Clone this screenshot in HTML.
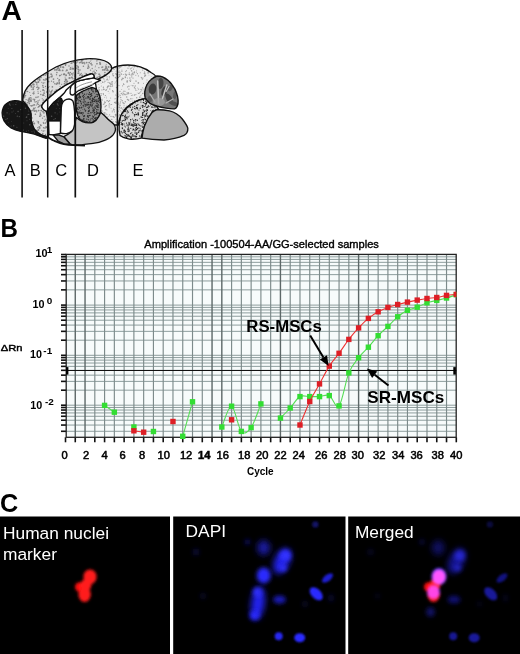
<!DOCTYPE html>
<html><head><meta charset="utf-8"><title>Figure</title>
<style>html,body{margin:0;padding:0;background:#fff;width:520px;height:654px;overflow:hidden}svg{display:block}</style>
</head><body>
<svg width="520" height="654" viewBox="0 0 520 654" font-family="'Liberation Sans', sans-serif">
<text transform="translate(1.4,19.6) scale(1.05,1)" font-size="26.8" font-weight="bold">A</text>
<defs><pattern id="st1" width="48" height="48" patternUnits="userSpaceOnUse"><rect width="48" height="48" fill="#dfdfdf"/><circle cx="21.7" cy="26.9" r="0.96" fill="#858585"/><circle cx="22.4" cy="24.4" r="0.77" fill="#858585"/><circle cx="8.9" cy="24.6" r="0.80" fill="#858585"/><circle cx="38.1" cy="4.5" r="0.62" fill="#858585"/><circle cx="4.4" cy="38.9" r="0.83" fill="#858585"/><circle cx="2.0" cy="47.1" r="0.98" fill="#858585"/><circle cx="31.4" cy="29.5" r="0.54" fill="#858585"/><circle cx="0.7" cy="25.4" r="0.48" fill="#858585"/><circle cx="9.1" cy="11.6" r="0.47" fill="#858585"/><circle cx="22.3" cy="21.1" r="0.91" fill="#858585"/><circle cx="24.9" cy="30.7" r="0.72" fill="#858585"/><circle cx="31.8" cy="22.0" r="0.60" fill="#858585"/><circle cx="47.9" cy="47.8" r="0.91" fill="#858585"/><circle cx="34.0" cy="15.1" r="0.58" fill="#858585"/><circle cx="13.9" cy="3.4" r="0.87" fill="#858585"/><circle cx="19.2" cy="40.6" r="0.66" fill="#858585"/><circle cx="46.0" cy="40.7" r="0.45" fill="#858585"/><circle cx="10.1" cy="43.7" r="0.71" fill="#858585"/><circle cx="47.1" cy="19.1" r="0.49" fill="#858585"/><circle cx="30.2" cy="37.4" r="0.60" fill="#858585"/><circle cx="4.2" cy="16.0" r="0.98" fill="#858585"/><circle cx="36.4" cy="5.7" r="0.59" fill="#858585"/><circle cx="4.9" cy="2.9" r="0.89" fill="#858585"/><circle cx="8.5" cy="26.8" r="0.70" fill="#858585"/><circle cx="9.2" cy="35.1" r="0.52" fill="#858585"/><circle cx="30.9" cy="5.6" r="0.68" fill="#858585"/><circle cx="10.2" cy="13.0" r="0.98" fill="#858585"/><circle cx="38.6" cy="14.6" r="0.94" fill="#858585"/><circle cx="10.1" cy="18.9" r="0.92" fill="#858585"/><circle cx="30.8" cy="4.8" r="0.99" fill="#858585"/><circle cx="10.2" cy="12.4" r="0.87" fill="#858585"/><circle cx="15.8" cy="14.2" r="0.49" fill="#858585"/><circle cx="4.3" cy="28.0" r="0.58" fill="#858585"/><circle cx="28.9" cy="17.8" r="0.70" fill="#858585"/><circle cx="46.0" cy="23.2" r="0.77" fill="#858585"/><circle cx="41.6" cy="8.8" r="0.53" fill="#858585"/><circle cx="43.6" cy="39.3" r="0.59" fill="#858585"/><circle cx="9.1" cy="35.5" r="0.97" fill="#858585"/><circle cx="9.4" cy="45.6" r="0.94" fill="#858585"/><circle cx="29.0" cy="20.2" r="0.51" fill="#858585"/><circle cx="1.9" cy="46.2" r="0.58" fill="#858585"/><circle cx="33.8" cy="12.3" r="0.90" fill="#858585"/><circle cx="28.6" cy="14.1" r="0.55" fill="#858585"/><circle cx="34.6" cy="3.3" r="0.58" fill="#858585"/><circle cx="26.8" cy="40.9" r="0.79" fill="#858585"/><circle cx="13.5" cy="44.0" r="0.56" fill="#858585"/><circle cx="0.8" cy="12.9" r="0.70" fill="#858585"/><circle cx="2.9" cy="8.5" r="0.65" fill="#858585"/><circle cx="27.5" cy="6.3" r="0.65" fill="#858585"/><circle cx="42.8" cy="47.1" r="0.81" fill="#858585"/><circle cx="33.2" cy="28.1" r="0.53" fill="#858585"/><circle cx="1.7" cy="0.9" r="0.95" fill="#858585"/><circle cx="33.6" cy="46.2" r="0.46" fill="#858585"/><circle cx="30.5" cy="23.1" r="0.85" fill="#858585"/><circle cx="15.3" cy="48.0" r="0.49" fill="#858585"/><circle cx="26.2" cy="35.4" r="0.95" fill="#858585"/><circle cx="35.4" cy="33.8" r="0.89" fill="#858585"/><circle cx="43.9" cy="16.9" r="0.83" fill="#858585"/><circle cx="43.2" cy="41.8" r="0.68" fill="#858585"/><circle cx="37.9" cy="41.4" r="0.77" fill="#858585"/><circle cx="30.0" cy="18.4" r="0.77" fill="#858585"/><circle cx="29.2" cy="3.8" r="0.80" fill="#858585"/><circle cx="47.7" cy="42.2" r="0.85" fill="#858585"/><circle cx="18.6" cy="35.3" r="0.77" fill="#858585"/><circle cx="21.1" cy="40.2" r="0.50" fill="#858585"/><circle cx="36.0" cy="1.4" r="0.78" fill="#858585"/><circle cx="23.1" cy="11.1" r="0.83" fill="#858585"/><circle cx="23.9" cy="29.5" r="0.96" fill="#858585"/><circle cx="12.3" cy="0.5" r="0.62" fill="#858585"/><circle cx="32.6" cy="9.7" r="0.54" fill="#858585"/><circle cx="43.5" cy="31.7" r="0.69" fill="#858585"/><circle cx="42.8" cy="15.7" r="0.82" fill="#858585"/><circle cx="9.5" cy="20.7" r="0.89" fill="#858585"/><circle cx="43.9" cy="42.3" r="0.66" fill="#858585"/><circle cx="28.0" cy="15.2" r="0.52" fill="#858585"/><circle cx="23.8" cy="40.2" r="0.92" fill="#858585"/><circle cx="34.1" cy="45.6" r="0.60" fill="#858585"/><circle cx="8.1" cy="21.6" r="0.60" fill="#858585"/><circle cx="10.3" cy="19.9" r="0.79" fill="#858585"/><circle cx="23.7" cy="15.1" r="0.91" fill="#858585"/><circle cx="47.1" cy="21.7" r="0.49" fill="#858585"/><circle cx="1.5" cy="41.9" r="0.47" fill="#858585"/><circle cx="34.0" cy="27.4" r="0.62" fill="#858585"/><circle cx="38.0" cy="0.9" r="0.52" fill="#858585"/><circle cx="21.8" cy="1.2" r="0.91" fill="#858585"/><circle cx="11.4" cy="6.8" r="0.48" fill="#858585"/><circle cx="30.2" cy="21.4" r="0.80" fill="#858585"/><circle cx="31.4" cy="38.8" r="0.98" fill="#858585"/><circle cx="32.9" cy="9.6" r="0.71" fill="#858585"/><circle cx="8.6" cy="0.5" r="0.71" fill="#858585"/><circle cx="34.3" cy="8.6" r="0.60" fill="#858585"/><circle cx="16.6" cy="33.5" r="0.74" fill="#858585"/><circle cx="29.5" cy="36.3" r="0.67" fill="#858585"/><circle cx="38.0" cy="43.5" r="0.50" fill="#858585"/><circle cx="44.8" cy="34.7" r="0.52" fill="#858585"/><circle cx="21.8" cy="30.0" r="0.95" fill="#858585"/><circle cx="18.1" cy="27.3" r="0.93" fill="#858585"/><circle cx="38.2" cy="45.3" r="0.71" fill="#858585"/><circle cx="31.3" cy="9.8" r="0.85" fill="#858585"/><circle cx="39.3" cy="30.8" r="0.84" fill="#858585"/><circle cx="10.2" cy="43.2" r="0.99" fill="#858585"/><circle cx="46.9" cy="25.8" r="0.88" fill="#858585"/><circle cx="15.4" cy="43.7" r="0.92" fill="#858585"/><circle cx="16.7" cy="4.0" r="0.69" fill="#858585"/><circle cx="26.4" cy="36.9" r="0.72" fill="#858585"/><circle cx="1.4" cy="38.8" r="0.49" fill="#858585"/><circle cx="38.4" cy="8.3" r="0.63" fill="#858585"/><circle cx="37.8" cy="6.7" r="0.53" fill="#858585"/><circle cx="24.8" cy="34.7" r="0.91" fill="#858585"/><circle cx="33.1" cy="45.4" r="0.72" fill="#858585"/><circle cx="45.6" cy="4.1" r="0.57" fill="#858585"/><circle cx="25.3" cy="13.9" r="0.85" fill="#858585"/><circle cx="30.7" cy="25.1" r="0.91" fill="#858585"/><circle cx="26.9" cy="15.0" r="0.66" fill="#858585"/><circle cx="40.6" cy="43.2" r="0.56" fill="#858585"/><circle cx="40.8" cy="46.5" r="0.74" fill="#858585"/><circle cx="27.5" cy="9.6" r="0.74" fill="#858585"/><circle cx="24.2" cy="29.1" r="0.47" fill="#858585"/><circle cx="46.5" cy="24.8" r="0.67" fill="#858585"/><circle cx="38.5" cy="27.0" r="0.72" fill="#858585"/><circle cx="33.2" cy="3.2" r="0.75" fill="#858585"/><circle cx="19.9" cy="45.9" r="0.96" fill="#858585"/><circle cx="12.9" cy="22.7" r="0.52" fill="#858585"/><circle cx="20.8" cy="39.2" r="0.95" fill="#858585"/><circle cx="22.9" cy="15.2" r="0.56" fill="#858585"/><circle cx="29.7" cy="44.4" r="0.52" fill="#858585"/><circle cx="37.4" cy="1.1" r="0.56" fill="#858585"/><circle cx="10.9" cy="33.0" r="0.63" fill="#858585"/><circle cx="17.1" cy="29.7" r="0.51" fill="#858585"/><circle cx="35.1" cy="5.9" r="0.73" fill="#858585"/><circle cx="12.0" cy="9.5" r="0.74" fill="#858585"/><circle cx="21.0" cy="18.0" r="0.68" fill="#858585"/><circle cx="25.4" cy="7.7" r="0.56" fill="#858585"/><circle cx="30.3" cy="30.6" r="0.74" fill="#858585"/><circle cx="40.9" cy="29.4" r="0.92" fill="#858585"/><circle cx="11.2" cy="35.6" r="0.90" fill="#858585"/><circle cx="43.3" cy="15.2" r="0.62" fill="#858585"/><circle cx="44.3" cy="10.5" r="1.00" fill="#858585"/><circle cx="42.6" cy="6.4" r="0.58" fill="#858585"/><circle cx="34.9" cy="12.5" r="0.50" fill="#858585"/><circle cx="39.9" cy="20.2" r="0.88" fill="#858585"/><circle cx="6.0" cy="19.3" r="0.83" fill="#858585"/><circle cx="0.9" cy="9.6" r="0.83" fill="#858585"/><circle cx="43.7" cy="46.5" r="0.51" fill="#858585"/><circle cx="24.3" cy="36.4" r="0.73" fill="#858585"/><circle cx="32.9" cy="9.1" r="0.49" fill="#858585"/><circle cx="5.1" cy="1.8" r="0.75" fill="#858585"/><circle cx="24.7" cy="27.3" r="0.53" fill="#858585"/><circle cx="8.9" cy="9.8" r="0.91" fill="#858585"/><circle cx="47.5" cy="44.5" r="0.50" fill="#858585"/><circle cx="3.0" cy="45.7" r="0.70" fill="#858585"/><circle cx="36.7" cy="15.7" r="0.71" fill="#858585"/><circle cx="24.7" cy="20.6" r="0.78" fill="#858585"/><circle cx="0.6" cy="33.6" r="0.91" fill="#858585"/><circle cx="8.7" cy="21.8" r="0.86" fill="#858585"/><circle cx="19.5" cy="9.4" r="0.54" fill="#858585"/><circle cx="24.6" cy="0.7" r="0.94" fill="#858585"/><circle cx="38.5" cy="33.8" r="0.92" fill="#858585"/><circle cx="30.2" cy="19.4" r="0.78" fill="#858585"/><circle cx="24.2" cy="47.2" r="0.89" fill="#858585"/><circle cx="12.4" cy="43.7" r="0.86" fill="#858585"/><circle cx="37.3" cy="39.1" r="0.67" fill="#858585"/><circle cx="43.0" cy="42.2" r="0.83" fill="#858585"/><circle cx="36.8" cy="36.7" r="0.67" fill="#858585"/><circle cx="34.7" cy="3.4" r="0.64" fill="#858585"/><circle cx="22.5" cy="0.5" r="0.65" fill="#858585"/><circle cx="30.7" cy="30.0" r="0.58" fill="#858585"/><circle cx="45.3" cy="32.0" r="0.64" fill="#858585"/><circle cx="31.7" cy="27.3" r="0.74" fill="#858585"/><circle cx="18.7" cy="48.0" r="0.80" fill="#858585"/><circle cx="33.7" cy="36.6" r="0.99" fill="#858585"/><circle cx="1.1" cy="29.5" r="0.86" fill="#858585"/><circle cx="12.3" cy="19.3" r="0.48" fill="#858585"/><circle cx="9.4" cy="18.0" r="0.50" fill="#858585"/><circle cx="12.0" cy="43.5" r="0.75" fill="#858585"/><circle cx="24.4" cy="46.4" r="0.76" fill="#858585"/><circle cx="47.8" cy="30.6" r="0.90" fill="#858585"/><circle cx="3.7" cy="28.7" r="0.87" fill="#858585"/><circle cx="2.2" cy="44.6" r="0.54" fill="#858585"/><circle cx="22.6" cy="8.1" r="0.72" fill="#858585"/><circle cx="29.3" cy="2.8" r="0.97" fill="#858585"/><circle cx="20.2" cy="25.3" r="0.78" fill="#858585"/><circle cx="17.5" cy="13.7" r="0.81" fill="#858585"/><circle cx="26.9" cy="13.6" r="0.84" fill="#858585"/><circle cx="14.2" cy="0.7" r="0.58" fill="#858585"/><circle cx="2.1" cy="7.5" r="0.87" fill="#858585"/><circle cx="18.7" cy="43.1" r="0.86" fill="#858585"/><circle cx="2.4" cy="47.5" r="0.97" fill="#858585"/><circle cx="3.5" cy="43.5" r="0.69" fill="#858585"/><circle cx="22.9" cy="46.7" r="0.58" fill="#858585"/><circle cx="25.1" cy="45.0" r="0.85" fill="#858585"/><circle cx="22.5" cy="47.0" r="0.90" fill="#858585"/><circle cx="29.0" cy="5.5" r="0.79" fill="#858585"/><circle cx="21.9" cy="9.8" r="0.48" fill="#858585"/><circle cx="25.3" cy="6.0" r="0.69" fill="#858585"/><circle cx="32.1" cy="21.9" r="0.59" fill="#858585"/><circle cx="27.9" cy="20.1" r="0.88" fill="#858585"/><circle cx="25.5" cy="47.9" r="0.97" fill="#858585"/><circle cx="35.2" cy="11.4" r="0.51" fill="#858585"/><circle cx="42.8" cy="37.6" r="0.79" fill="#858585"/><circle cx="17.2" cy="13.0" r="0.83" fill="#858585"/><circle cx="27.1" cy="28.4" r="0.80" fill="#858585"/><circle cx="36.2" cy="9.1" r="0.59" fill="#858585"/><circle cx="47.0" cy="44.0" r="0.93" fill="#858585"/><circle cx="1.9" cy="2.9" r="0.60" fill="#858585"/><circle cx="20.4" cy="29.9" r="0.51" fill="#858585"/><circle cx="26.0" cy="3.5" r="0.50" fill="#858585"/><circle cx="32.5" cy="26.4" r="0.80" fill="#858585"/><circle cx="17.9" cy="23.0" r="0.57" fill="#858585"/><circle cx="16.5" cy="35.8" r="0.91" fill="#858585"/><circle cx="3.6" cy="5.7" r="0.90" fill="#858585"/><circle cx="29.9" cy="36.9" r="0.57" fill="#858585"/><circle cx="20.4" cy="12.4" r="0.90" fill="#858585"/><circle cx="17.7" cy="31.4" r="0.99" fill="#858585"/><circle cx="15.6" cy="26.3" r="0.86" fill="#858585"/><circle cx="44.2" cy="20.5" r="0.65" fill="#858585"/><circle cx="4.7" cy="42.0" r="0.49" fill="#858585"/><circle cx="4.0" cy="27.1" r="0.72" fill="#858585"/><circle cx="32.9" cy="14.3" r="0.88" fill="#858585"/><circle cx="3.7" cy="10.2" r="0.81" fill="#858585"/><circle cx="3.9" cy="14.6" r="0.85" fill="#858585"/><circle cx="33.3" cy="13.6" r="0.53" fill="#858585"/><circle cx="17.2" cy="34.8" r="0.65" fill="#858585"/><circle cx="5.6" cy="34.0" r="0.76" fill="#858585"/><circle cx="44.1" cy="45.1" r="0.95" fill="#858585"/><circle cx="21.0" cy="38.5" r="0.62" fill="#858585"/><circle cx="15.2" cy="19.2" r="0.96" fill="#858585"/><circle cx="42.9" cy="11.9" r="0.65" fill="#858585"/><circle cx="17.5" cy="17.4" r="0.67" fill="#858585"/><circle cx="18.6" cy="9.4" r="0.76" fill="#858585"/><circle cx="38.3" cy="25.9" r="0.91" fill="#858585"/><circle cx="27.0" cy="8.5" r="0.87" fill="#858585"/><circle cx="42.3" cy="13.5" r="0.46" fill="#858585"/><circle cx="24.8" cy="26.1" r="0.76" fill="#858585"/><circle cx="46.4" cy="31.3" r="0.89" fill="#858585"/><circle cx="3.1" cy="26.2" r="0.88" fill="#858585"/><circle cx="4.0" cy="3.9" r="0.86" fill="#858585"/><circle cx="43.2" cy="4.1" r="0.80" fill="#858585"/><circle cx="6.9" cy="35.8" r="0.81" fill="#858585"/><circle cx="11.8" cy="10.6" r="0.87" fill="#858585"/><circle cx="25.0" cy="36.7" r="0.67" fill="#858585"/><circle cx="16.2" cy="46.5" r="0.82" fill="#858585"/><circle cx="23.7" cy="25.8" r="0.85" fill="#858585"/><circle cx="34.0" cy="43.9" r="0.68" fill="#858585"/><circle cx="39.7" cy="32.0" r="0.92" fill="#858585"/><circle cx="38.7" cy="40.0" r="0.94" fill="#858585"/><circle cx="46.0" cy="30.7" r="0.74" fill="#858585"/><circle cx="34.1" cy="38.5" r="0.68" fill="#858585"/><circle cx="20.2" cy="7.0" r="0.86" fill="#858585"/><circle cx="47.6" cy="18.0" r="0.54" fill="#858585"/><circle cx="9.8" cy="20.4" r="0.61" fill="#858585"/><circle cx="46.5" cy="2.8" r="0.62" fill="#858585"/><circle cx="5.5" cy="31.1" r="0.88" fill="#858585"/><circle cx="8.6" cy="3.0" r="0.70" fill="#858585"/><circle cx="28.0" cy="43.6" r="0.47" fill="#858585"/><circle cx="5.2" cy="8.9" r="0.57" fill="#858585"/><circle cx="11.3" cy="34.4" r="0.78" fill="#858585"/><circle cx="10.8" cy="8.9" r="0.60" fill="#858585"/><circle cx="8.3" cy="36.4" r="0.62" fill="#858585"/><circle cx="26.3" cy="39.2" r="0.71" fill="#858585"/><circle cx="12.5" cy="42.6" r="0.95" fill="#858585"/><circle cx="16.4" cy="26.3" r="0.98" fill="#858585"/><circle cx="23.2" cy="10.6" r="0.48" fill="#858585"/><circle cx="45.5" cy="38.5" r="0.66" fill="#858585"/><circle cx="25.3" cy="24.8" r="0.60" fill="#858585"/><circle cx="47.5" cy="31.6" r="0.58" fill="#858585"/><circle cx="0.5" cy="22.7" r="0.65" fill="#858585"/><circle cx="38.2" cy="34.2" r="0.78" fill="#858585"/><circle cx="7.5" cy="7.5" r="0.63" fill="#858585"/><circle cx="12.5" cy="41.7" r="0.73" fill="#858585"/><circle cx="30.6" cy="47.7" r="0.60" fill="#858585"/><circle cx="25.7" cy="7.2" r="0.87" fill="#858585"/><circle cx="0.1" cy="39.4" r="0.92" fill="#858585"/><circle cx="39.5" cy="4.0" r="0.60" fill="#858585"/><circle cx="34.4" cy="4.7" r="0.71" fill="#858585"/><circle cx="22.5" cy="45.9" r="0.77" fill="#858585"/><circle cx="41.2" cy="14.6" r="0.88" fill="#858585"/><circle cx="20.0" cy="44.0" r="0.50" fill="#858585"/><circle cx="39.7" cy="10.0" r="0.75" fill="#858585"/><circle cx="25.2" cy="7.6" r="0.91" fill="#858585"/><circle cx="14.9" cy="14.9" r="0.49" fill="#858585"/><circle cx="14.7" cy="22.4" r="0.84" fill="#858585"/><circle cx="17.3" cy="33.0" r="0.51" fill="#858585"/><circle cx="18.9" cy="22.2" r="0.98" fill="#858585"/><circle cx="39.8" cy="31.4" r="0.46" fill="#858585"/><circle cx="18.1" cy="34.1" r="0.58" fill="#858585"/><circle cx="27.1" cy="22.0" r="0.46" fill="#858585"/><circle cx="47.6" cy="38.4" r="0.56" fill="#858585"/><circle cx="29.6" cy="13.9" r="0.66" fill="#858585"/><circle cx="25.9" cy="14.3" r="0.64" fill="#858585"/><circle cx="18.8" cy="32.0" r="0.59" fill="#858585"/><circle cx="9.6" cy="35.1" r="0.63" fill="#858585"/><circle cx="45.4" cy="27.0" r="0.85" fill="#858585"/><circle cx="15.9" cy="39.7" r="0.50" fill="#858585"/><circle cx="6.8" cy="4.5" r="0.82" fill="#858585"/><circle cx="34.0" cy="8.6" r="0.67" fill="#858585"/><circle cx="40.2" cy="28.5" r="0.50" fill="#858585"/><circle cx="10.9" cy="7.5" r="0.52" fill="#858585"/><circle cx="19.5" cy="3.5" r="0.96" fill="#858585"/><circle cx="20.5" cy="24.6" r="0.81" fill="#858585"/><circle cx="36.8" cy="39.4" r="0.66" fill="#858585"/><circle cx="15.9" cy="19.8" r="0.46" fill="#858585"/><circle cx="19.2" cy="33.6" r="0.99" fill="#858585"/><circle cx="37.9" cy="31.7" r="0.78" fill="#858585"/><circle cx="0.9" cy="15.9" r="0.64" fill="#858585"/><circle cx="31.2" cy="5.1" r="0.66" fill="#858585"/><circle cx="24.4" cy="37.9" r="0.90" fill="#858585"/><circle cx="29.3" cy="7.6" r="0.87" fill="#858585"/><circle cx="43.3" cy="26.3" r="0.64" fill="#858585"/><circle cx="24.0" cy="6.8" r="0.84" fill="#858585"/><circle cx="47.4" cy="24.8" r="0.84" fill="#858585"/><circle cx="40.1" cy="9.5" r="0.97" fill="#858585"/><circle cx="30.1" cy="9.5" r="0.50" fill="#858585"/><circle cx="11.7" cy="27.7" r="0.83" fill="#858585"/><circle cx="15.8" cy="44.6" r="0.65" fill="#858585"/><circle cx="22.2" cy="6.0" r="0.99" fill="#858585"/><circle cx="6.5" cy="43.4" r="0.75" fill="#858585"/><circle cx="26.9" cy="26.9" r="0.60" fill="#858585"/><circle cx="43.6" cy="47.6" r="0.90" fill="#858585"/><circle cx="28.9" cy="5.9" r="0.90" fill="#858585"/><circle cx="13.9" cy="43.1" r="0.58" fill="#858585"/><circle cx="27.5" cy="39.9" r="0.55" fill="#858585"/><circle cx="26.3" cy="3.7" r="0.47" fill="#858585"/><circle cx="8.6" cy="47.4" r="0.97" fill="#858585"/><circle cx="31.6" cy="14.8" r="0.82" fill="#858585"/><circle cx="35.4" cy="18.3" r="0.78" fill="#858585"/><circle cx="38.6" cy="0.8" r="0.56" fill="#858585"/><circle cx="22.5" cy="6.9" r="0.66" fill="#858585"/><circle cx="27.3" cy="8.3" r="0.74" fill="#858585"/><circle cx="12.7" cy="27.3" r="0.63" fill="#858585"/><circle cx="30.8" cy="1.8" r="0.82" fill="#858585"/><circle cx="6.9" cy="46.0" r="0.78" fill="#858585"/><circle cx="22.6" cy="19.7" r="0.79" fill="#858585"/><circle cx="33.1" cy="36.4" r="0.86" fill="#858585"/><circle cx="23.3" cy="47.7" r="0.91" fill="#858585"/><circle cx="41.0" cy="19.6" r="0.69" fill="#858585"/><circle cx="27.2" cy="43.5" r="0.74" fill="#858585"/><circle cx="25.2" cy="20.7" r="0.95" fill="#858585"/><circle cx="15.4" cy="2.6" r="0.85" fill="#858585"/><circle cx="43.2" cy="35.1" r="0.78" fill="#858585"/><circle cx="36.1" cy="14.6" r="0.78" fill="#858585"/><circle cx="3.4" cy="6.0" r="0.70" fill="#858585"/><circle cx="24.1" cy="19.0" r="0.48" fill="#858585"/><circle cx="33.4" cy="25.3" r="0.58" fill="#858585"/><circle cx="14.7" cy="19.0" r="0.58" fill="#858585"/><circle cx="3.3" cy="43.7" r="0.98" fill="#858585"/><circle cx="32.0" cy="41.6" r="0.68" fill="#858585"/><circle cx="38.7" cy="10.6" r="0.86" fill="#858585"/><circle cx="27.2" cy="43.4" r="0.50" fill="#858585"/><circle cx="38.0" cy="5.9" r="0.75" fill="#858585"/><circle cx="45.6" cy="0.0" r="0.58" fill="#858585"/><circle cx="14.4" cy="15.6" r="0.48" fill="#858585"/><circle cx="43.0" cy="39.1" r="0.67" fill="#858585"/><circle cx="17.1" cy="28.1" r="0.48" fill="#858585"/><circle cx="1.5" cy="43.1" r="0.62" fill="#858585"/><circle cx="23.9" cy="44.8" r="0.99" fill="#858585"/><circle cx="22.7" cy="9.9" r="0.61" fill="#858585"/><circle cx="44.3" cy="43.0" r="0.56" fill="#858585"/><circle cx="40.2" cy="17.0" r="0.71" fill="#858585"/><circle cx="8.3" cy="42.2" r="1.00" fill="#858585"/><circle cx="9.7" cy="30.4" r="0.56" fill="#858585"/><circle cx="42.2" cy="2.4" r="0.51" fill="#858585"/><circle cx="34.8" cy="15.0" r="0.95" fill="#858585"/><circle cx="41.7" cy="34.2" r="0.52" fill="#858585"/><circle cx="33.4" cy="45.0" r="0.69" fill="#858585"/><circle cx="3.8" cy="10.7" r="0.62" fill="#858585"/><circle cx="34.1" cy="9.4" r="0.55" fill="#858585"/><circle cx="11.3" cy="31.9" r="0.88" fill="#858585"/><circle cx="17.9" cy="31.8" r="0.94" fill="#858585"/><circle cx="28.3" cy="11.0" r="0.62" fill="#858585"/><circle cx="44.5" cy="32.0" r="0.60" fill="#858585"/><circle cx="30.7" cy="4.3" r="0.99" fill="#858585"/><circle cx="21.1" cy="25.4" r="0.74" fill="#858585"/><circle cx="2.2" cy="28.8" r="0.61" fill="#858585"/><circle cx="12.0" cy="38.6" r="0.50" fill="#858585"/><circle cx="13.7" cy="36.3" r="0.59" fill="#858585"/><circle cx="13.4" cy="26.3" r="0.55" fill="#858585"/><circle cx="43.1" cy="47.4" r="0.47" fill="#858585"/><circle cx="22.2" cy="36.0" r="0.66" fill="#858585"/><circle cx="44.6" cy="24.0" r="0.55" fill="#858585"/><circle cx="26.7" cy="31.0" r="0.65" fill="#858585"/><circle cx="31.6" cy="37.6" r="0.73" fill="#858585"/><circle cx="24.3" cy="40.6" r="0.83" fill="#858585"/><circle cx="25.0" cy="45.7" r="0.55" fill="#858585"/><circle cx="37.4" cy="7.9" r="0.78" fill="#858585"/><circle cx="11.3" cy="21.1" r="0.88" fill="#858585"/><circle cx="37.8" cy="38.0" r="0.58" fill="#858585"/><circle cx="23.5" cy="10.6" r="0.77" fill="#858585"/><circle cx="24.0" cy="1.7" r="0.78" fill="#858585"/><circle cx="34.3" cy="27.5" r="0.93" fill="#858585"/><circle cx="8.6" cy="7.3" r="0.46" fill="#858585"/><circle cx="23.8" cy="20.9" r="0.69" fill="#858585"/><circle cx="12.6" cy="38.3" r="0.49" fill="#858585"/><circle cx="43.6" cy="27.3" r="0.75" fill="#858585"/><circle cx="38.0" cy="11.4" r="0.53" fill="#858585"/><circle cx="14.9" cy="2.0" r="0.62" fill="#858585"/><circle cx="29.8" cy="25.2" r="0.60" fill="#858585"/><circle cx="28.3" cy="4.2" r="0.90" fill="#858585"/><circle cx="8.2" cy="12.2" r="0.54" fill="#858585"/><circle cx="33.2" cy="39.9" r="0.88" fill="#858585"/><circle cx="2.9" cy="19.7" r="0.65" fill="#858585"/><circle cx="10.4" cy="46.6" r="0.47" fill="#858585"/><circle cx="23.5" cy="36.5" r="0.99" fill="#858585"/><circle cx="6.9" cy="21.9" r="0.86" fill="#858585"/><circle cx="1.9" cy="11.5" r="0.94" fill="#858585"/><circle cx="6.8" cy="18.9" r="0.61" fill="#858585"/><circle cx="20.4" cy="3.7" r="0.47" fill="#858585"/><circle cx="47.8" cy="36.6" r="0.85" fill="#858585"/><circle cx="11.0" cy="12.2" r="0.75" fill="#858585"/><circle cx="11.6" cy="22.2" r="0.96" fill="#858585"/><circle cx="17.5" cy="16.2" r="0.99" fill="#858585"/><circle cx="29.3" cy="1.9" r="0.67" fill="#858585"/><circle cx="31.2" cy="2.8" r="0.64" fill="#858585"/><circle cx="33.3" cy="41.5" r="0.77" fill="#858585"/><circle cx="42.5" cy="22.2" r="0.67" fill="#858585"/><circle cx="40.5" cy="18.3" r="0.88" fill="#858585"/><circle cx="10.3" cy="16.7" r="0.55" fill="#858585"/><circle cx="26.4" cy="7.9" r="0.56" fill="#858585"/><circle cx="10.3" cy="22.5" r="0.62" fill="#858585"/><circle cx="21.5" cy="47.7" r="0.82" fill="#858585"/><circle cx="41.4" cy="9.8" r="0.66" fill="#858585"/><circle cx="3.5" cy="33.2" r="0.65" fill="#858585"/><circle cx="13.2" cy="0.9" r="0.55" fill="#858585"/><circle cx="12.6" cy="18.9" r="0.96" fill="#858585"/><circle cx="34.3" cy="12.9" r="0.65" fill="#858585"/><circle cx="7.4" cy="45.0" r="0.65" fill="#858585"/><circle cx="36.8" cy="34.7" r="0.95" fill="#858585"/><circle cx="1.0" cy="15.5" r="0.66" fill="#858585"/><circle cx="4.0" cy="42.4" r="0.63" fill="#858585"/><circle cx="37.0" cy="24.9" r="0.48" fill="#858585"/></pattern><pattern id="st2" width="48" height="48" patternUnits="userSpaceOnUse"><rect width="48" height="48" fill="#eeeeee"/><circle cx="18.9" cy="11.4" r="0.42" fill="#a0a0a0"/><circle cx="7.2" cy="28.6" r="0.41" fill="#a0a0a0"/><circle cx="15.0" cy="20.4" r="0.62" fill="#a0a0a0"/><circle cx="6.5" cy="33.9" r="0.50" fill="#a0a0a0"/><circle cx="34.8" cy="32.0" r="0.46" fill="#a0a0a0"/><circle cx="9.8" cy="13.5" r="0.69" fill="#a0a0a0"/><circle cx="19.5" cy="18.6" r="0.75" fill="#a0a0a0"/><circle cx="10.9" cy="14.0" r="0.54" fill="#a0a0a0"/><circle cx="10.4" cy="2.0" r="0.41" fill="#a0a0a0"/><circle cx="30.3" cy="27.2" r="0.72" fill="#a0a0a0"/><circle cx="46.8" cy="14.3" r="0.67" fill="#a0a0a0"/><circle cx="44.1" cy="10.4" r="0.68" fill="#a0a0a0"/><circle cx="32.0" cy="45.8" r="0.75" fill="#a0a0a0"/><circle cx="11.3" cy="30.4" r="0.44" fill="#a0a0a0"/><circle cx="20.5" cy="18.8" r="0.42" fill="#a0a0a0"/><circle cx="18.4" cy="15.8" r="0.60" fill="#a0a0a0"/><circle cx="13.4" cy="7.6" r="0.56" fill="#a0a0a0"/><circle cx="22.8" cy="8.0" r="0.67" fill="#a0a0a0"/><circle cx="11.5" cy="4.5" r="0.54" fill="#a0a0a0"/><circle cx="20.3" cy="7.2" r="0.63" fill="#a0a0a0"/><circle cx="33.7" cy="26.6" r="0.68" fill="#a0a0a0"/><circle cx="1.1" cy="18.8" r="0.55" fill="#a0a0a0"/><circle cx="3.0" cy="19.4" r="0.42" fill="#a0a0a0"/><circle cx="23.8" cy="28.1" r="0.59" fill="#a0a0a0"/><circle cx="15.6" cy="12.2" r="0.41" fill="#a0a0a0"/><circle cx="16.7" cy="42.8" r="0.63" fill="#a0a0a0"/><circle cx="12.6" cy="32.1" r="0.47" fill="#a0a0a0"/><circle cx="22.5" cy="29.5" r="0.78" fill="#a0a0a0"/><circle cx="17.4" cy="27.7" r="0.78" fill="#a0a0a0"/><circle cx="37.0" cy="30.1" r="0.65" fill="#a0a0a0"/><circle cx="19.7" cy="19.9" r="0.51" fill="#a0a0a0"/><circle cx="39.8" cy="42.2" r="0.55" fill="#a0a0a0"/><circle cx="43.7" cy="1.8" r="0.45" fill="#a0a0a0"/><circle cx="24.3" cy="14.8" r="0.54" fill="#a0a0a0"/><circle cx="46.9" cy="7.2" r="0.48" fill="#a0a0a0"/><circle cx="11.0" cy="32.6" r="0.49" fill="#a0a0a0"/><circle cx="0.0" cy="26.1" r="0.56" fill="#a0a0a0"/><circle cx="11.5" cy="23.7" r="0.66" fill="#a0a0a0"/><circle cx="26.3" cy="30.0" r="0.62" fill="#a0a0a0"/><circle cx="39.9" cy="46.5" r="0.53" fill="#a0a0a0"/><circle cx="16.6" cy="42.5" r="0.53" fill="#a0a0a0"/><circle cx="34.4" cy="33.4" r="0.67" fill="#a0a0a0"/><circle cx="46.3" cy="39.6" r="0.46" fill="#a0a0a0"/><circle cx="29.8" cy="23.6" r="0.63" fill="#a0a0a0"/><circle cx="17.7" cy="13.7" r="0.70" fill="#a0a0a0"/><circle cx="25.6" cy="11.4" r="0.50" fill="#a0a0a0"/><circle cx="15.6" cy="8.5" r="0.61" fill="#a0a0a0"/><circle cx="6.0" cy="3.0" r="0.43" fill="#a0a0a0"/><circle cx="4.9" cy="33.8" r="0.45" fill="#a0a0a0"/><circle cx="21.7" cy="37.1" r="0.59" fill="#a0a0a0"/><circle cx="7.8" cy="41.6" r="0.75" fill="#a0a0a0"/><circle cx="2.6" cy="12.2" r="0.60" fill="#a0a0a0"/><circle cx="38.2" cy="18.8" r="0.69" fill="#a0a0a0"/><circle cx="12.1" cy="34.4" r="0.53" fill="#a0a0a0"/><circle cx="16.0" cy="36.4" r="0.74" fill="#a0a0a0"/><circle cx="39.8" cy="27.2" r="0.57" fill="#a0a0a0"/><circle cx="33.9" cy="29.9" r="0.73" fill="#a0a0a0"/><circle cx="38.5" cy="6.0" r="0.55" fill="#a0a0a0"/><circle cx="32.1" cy="11.1" r="0.47" fill="#a0a0a0"/><circle cx="0.7" cy="28.1" r="0.78" fill="#a0a0a0"/><circle cx="46.6" cy="6.4" r="0.68" fill="#a0a0a0"/><circle cx="20.1" cy="30.3" r="0.56" fill="#a0a0a0"/><circle cx="44.8" cy="47.5" r="0.42" fill="#a0a0a0"/><circle cx="34.2" cy="5.7" r="0.42" fill="#a0a0a0"/><circle cx="13.7" cy="35.1" r="0.80" fill="#a0a0a0"/><circle cx="5.8" cy="15.8" r="0.41" fill="#a0a0a0"/><circle cx="26.0" cy="23.2" r="0.55" fill="#a0a0a0"/><circle cx="14.8" cy="38.4" r="0.74" fill="#a0a0a0"/><circle cx="13.6" cy="18.8" r="0.65" fill="#a0a0a0"/><circle cx="36.7" cy="47.1" r="0.56" fill="#a0a0a0"/><circle cx="33.3" cy="26.2" r="0.72" fill="#a0a0a0"/><circle cx="7.1" cy="8.4" r="0.44" fill="#a0a0a0"/><circle cx="44.8" cy="12.1" r="0.60" fill="#a0a0a0"/><circle cx="5.8" cy="15.5" r="0.41" fill="#a0a0a0"/><circle cx="27.2" cy="6.9" r="0.65" fill="#a0a0a0"/><circle cx="13.2" cy="10.9" r="0.59" fill="#a0a0a0"/><circle cx="17.6" cy="12.5" r="0.42" fill="#a0a0a0"/><circle cx="3.1" cy="42.8" r="0.52" fill="#a0a0a0"/><circle cx="3.8" cy="8.8" r="0.59" fill="#a0a0a0"/><circle cx="47.9" cy="9.7" r="0.75" fill="#a0a0a0"/><circle cx="23.2" cy="19.9" r="0.72" fill="#a0a0a0"/><circle cx="19.0" cy="2.8" r="0.62" fill="#a0a0a0"/><circle cx="31.5" cy="29.9" r="0.51" fill="#a0a0a0"/><circle cx="45.1" cy="41.5" r="0.80" fill="#a0a0a0"/><circle cx="21.3" cy="40.0" r="0.69" fill="#a0a0a0"/><circle cx="8.4" cy="1.3" r="0.47" fill="#a0a0a0"/><circle cx="5.7" cy="3.6" r="0.54" fill="#a0a0a0"/><circle cx="36.2" cy="14.9" r="0.61" fill="#a0a0a0"/><circle cx="0.5" cy="10.1" r="0.78" fill="#a0a0a0"/><circle cx="0.5" cy="25.3" r="0.72" fill="#a0a0a0"/><circle cx="38.0" cy="35.3" r="0.56" fill="#a0a0a0"/><circle cx="38.5" cy="39.7" r="0.71" fill="#a0a0a0"/><circle cx="47.3" cy="4.8" r="0.78" fill="#a0a0a0"/><circle cx="19.3" cy="33.9" r="0.50" fill="#a0a0a0"/><circle cx="43.7" cy="1.1" r="0.63" fill="#a0a0a0"/><circle cx="10.9" cy="18.6" r="0.55" fill="#a0a0a0"/><circle cx="31.5" cy="38.9" r="0.55" fill="#a0a0a0"/><circle cx="30.6" cy="17.0" r="0.51" fill="#a0a0a0"/><circle cx="43.4" cy="15.4" r="0.44" fill="#a0a0a0"/><circle cx="16.1" cy="35.6" r="0.48" fill="#a0a0a0"/><circle cx="35.7" cy="26.2" r="0.67" fill="#a0a0a0"/><circle cx="8.5" cy="5.1" r="0.46" fill="#a0a0a0"/><circle cx="16.8" cy="20.7" r="0.40" fill="#a0a0a0"/><circle cx="24.1" cy="19.4" r="0.53" fill="#a0a0a0"/><circle cx="25.8" cy="45.7" r="0.48" fill="#a0a0a0"/><circle cx="42.3" cy="15.4" r="0.70" fill="#a0a0a0"/><circle cx="5.2" cy="47.4" r="0.57" fill="#a0a0a0"/><circle cx="46.2" cy="10.5" r="0.56" fill="#a0a0a0"/><circle cx="33.9" cy="8.5" r="0.51" fill="#a0a0a0"/><circle cx="32.5" cy="45.5" r="0.53" fill="#a0a0a0"/><circle cx="8.8" cy="17.1" r="0.80" fill="#a0a0a0"/><circle cx="7.1" cy="30.5" r="0.55" fill="#a0a0a0"/><circle cx="30.9" cy="10.2" r="0.65" fill="#a0a0a0"/><circle cx="42.6" cy="41.1" r="0.65" fill="#a0a0a0"/><circle cx="24.2" cy="27.3" r="0.45" fill="#a0a0a0"/><circle cx="40.2" cy="33.1" r="0.58" fill="#a0a0a0"/><circle cx="31.9" cy="20.1" r="0.55" fill="#a0a0a0"/><circle cx="11.0" cy="28.8" r="0.63" fill="#a0a0a0"/><circle cx="24.7" cy="1.5" r="0.65" fill="#a0a0a0"/><circle cx="21.4" cy="28.5" r="0.64" fill="#a0a0a0"/><circle cx="44.7" cy="7.3" r="0.59" fill="#a0a0a0"/><circle cx="47.7" cy="35.4" r="0.53" fill="#a0a0a0"/><circle cx="35.4" cy="47.5" r="0.56" fill="#a0a0a0"/><circle cx="41.6" cy="6.1" r="0.80" fill="#a0a0a0"/><circle cx="23.6" cy="11.2" r="0.74" fill="#a0a0a0"/><circle cx="31.2" cy="45.0" r="0.73" fill="#a0a0a0"/><circle cx="38.3" cy="24.6" r="0.80" fill="#a0a0a0"/><circle cx="3.1" cy="41.8" r="0.68" fill="#a0a0a0"/><circle cx="12.0" cy="38.7" r="0.58" fill="#a0a0a0"/><circle cx="25.7" cy="41.5" r="0.48" fill="#a0a0a0"/><circle cx="13.4" cy="30.9" r="0.43" fill="#a0a0a0"/><circle cx="26.6" cy="37.8" r="0.60" fill="#a0a0a0"/><circle cx="11.6" cy="38.4" r="0.74" fill="#a0a0a0"/><circle cx="37.0" cy="26.4" r="0.76" fill="#a0a0a0"/><circle cx="38.2" cy="7.3" r="0.55" fill="#a0a0a0"/><circle cx="4.8" cy="1.8" r="0.54" fill="#a0a0a0"/><circle cx="41.5" cy="40.0" r="0.45" fill="#a0a0a0"/><circle cx="8.7" cy="18.7" r="0.74" fill="#a0a0a0"/><circle cx="29.6" cy="43.3" r="0.43" fill="#a0a0a0"/><circle cx="47.4" cy="9.9" r="0.65" fill="#a0a0a0"/><circle cx="42.1" cy="34.9" r="0.48" fill="#a0a0a0"/><circle cx="32.1" cy="20.7" r="0.41" fill="#a0a0a0"/><circle cx="16.3" cy="15.1" r="0.65" fill="#a0a0a0"/><circle cx="13.4" cy="28.9" r="0.68" fill="#a0a0a0"/><circle cx="8.7" cy="6.1" r="0.68" fill="#a0a0a0"/><circle cx="22.4" cy="6.2" r="0.45" fill="#a0a0a0"/><circle cx="45.2" cy="29.3" r="0.54" fill="#a0a0a0"/><circle cx="9.4" cy="47.8" r="0.68" fill="#a0a0a0"/><circle cx="35.3" cy="17.3" r="0.52" fill="#a0a0a0"/><circle cx="19.6" cy="7.0" r="0.65" fill="#a0a0a0"/><circle cx="20.4" cy="39.4" r="0.56" fill="#a0a0a0"/><circle cx="21.9" cy="24.3" r="0.78" fill="#a0a0a0"/><circle cx="16.6" cy="33.8" r="0.49" fill="#a0a0a0"/><circle cx="27.8" cy="13.7" r="0.75" fill="#a0a0a0"/><circle cx="13.8" cy="41.0" r="0.67" fill="#a0a0a0"/><circle cx="21.8" cy="44.8" r="0.56" fill="#a0a0a0"/><circle cx="35.7" cy="28.9" r="0.58" fill="#a0a0a0"/><circle cx="3.1" cy="20.1" r="0.51" fill="#a0a0a0"/><circle cx="21.2" cy="45.8" r="0.52" fill="#a0a0a0"/><circle cx="33.4" cy="32.3" r="0.50" fill="#a0a0a0"/><circle cx="19.8" cy="6.3" r="0.76" fill="#a0a0a0"/><circle cx="12.1" cy="20.2" r="0.54" fill="#a0a0a0"/><circle cx="39.4" cy="40.8" r="0.64" fill="#a0a0a0"/><circle cx="26.2" cy="4.8" r="0.76" fill="#a0a0a0"/><circle cx="4.2" cy="17.5" r="0.55" fill="#a0a0a0"/><circle cx="34.7" cy="32.1" r="0.54" fill="#a0a0a0"/><circle cx="43.1" cy="45.6" r="0.41" fill="#a0a0a0"/><circle cx="30.4" cy="22.5" r="0.54" fill="#a0a0a0"/><circle cx="22.3" cy="15.2" r="0.67" fill="#a0a0a0"/><circle cx="29.1" cy="46.6" r="0.79" fill="#a0a0a0"/><circle cx="47.6" cy="19.0" r="0.73" fill="#a0a0a0"/><circle cx="31.2" cy="33.7" r="0.80" fill="#a0a0a0"/><circle cx="3.2" cy="22.2" r="0.56" fill="#a0a0a0"/><circle cx="31.5" cy="10.5" r="0.80" fill="#a0a0a0"/><circle cx="10.1" cy="17.8" r="0.46" fill="#a0a0a0"/><circle cx="18.9" cy="35.6" r="0.43" fill="#a0a0a0"/><circle cx="8.0" cy="31.1" r="0.65" fill="#a0a0a0"/><circle cx="35.6" cy="12.2" r="0.72" fill="#a0a0a0"/><circle cx="35.1" cy="37.2" r="0.45" fill="#a0a0a0"/><circle cx="22.5" cy="0.8" r="0.74" fill="#a0a0a0"/><circle cx="45.3" cy="43.0" r="0.41" fill="#a0a0a0"/><circle cx="16.9" cy="25.7" r="0.61" fill="#a0a0a0"/><circle cx="5.3" cy="37.9" r="0.52" fill="#a0a0a0"/><circle cx="24.4" cy="6.0" r="0.63" fill="#a0a0a0"/><circle cx="6.2" cy="4.2" r="0.60" fill="#a0a0a0"/><circle cx="14.1" cy="37.3" r="0.50" fill="#a0a0a0"/><circle cx="19.9" cy="2.6" r="0.49" fill="#a0a0a0"/><circle cx="21.7" cy="26.8" r="0.58" fill="#a0a0a0"/><circle cx="40.8" cy="5.0" r="0.74" fill="#a0a0a0"/><circle cx="7.4" cy="46.6" r="0.61" fill="#a0a0a0"/><circle cx="19.5" cy="29.4" r="0.75" fill="#a0a0a0"/><circle cx="46.3" cy="19.8" r="0.40" fill="#a0a0a0"/><circle cx="7.4" cy="39.3" r="0.69" fill="#a0a0a0"/><circle cx="34.2" cy="7.5" r="0.61" fill="#a0a0a0"/><circle cx="1.4" cy="5.3" r="0.52" fill="#a0a0a0"/><circle cx="46.4" cy="30.9" r="0.74" fill="#a0a0a0"/><circle cx="2.2" cy="20.0" r="0.43" fill="#a0a0a0"/><circle cx="12.5" cy="5.4" r="0.77" fill="#a0a0a0"/><circle cx="15.8" cy="23.5" r="0.66" fill="#a0a0a0"/><circle cx="42.6" cy="45.4" r="0.63" fill="#a0a0a0"/><circle cx="24.0" cy="43.4" r="0.56" fill="#a0a0a0"/><circle cx="14.4" cy="35.5" r="0.50" fill="#a0a0a0"/><circle cx="17.7" cy="20.6" r="0.59" fill="#a0a0a0"/><circle cx="17.2" cy="20.7" r="0.58" fill="#a0a0a0"/><circle cx="2.4" cy="40.1" r="0.42" fill="#a0a0a0"/><circle cx="25.3" cy="26.3" r="0.56" fill="#a0a0a0"/><circle cx="10.7" cy="4.8" r="0.55" fill="#a0a0a0"/><circle cx="15.1" cy="23.2" r="0.49" fill="#a0a0a0"/><circle cx="36.0" cy="23.4" r="0.40" fill="#a0a0a0"/><circle cx="19.5" cy="46.4" r="0.40" fill="#a0a0a0"/><circle cx="28.5" cy="46.1" r="0.55" fill="#a0a0a0"/><circle cx="28.7" cy="17.7" r="0.52" fill="#a0a0a0"/><circle cx="29.2" cy="28.3" r="0.53" fill="#a0a0a0"/><circle cx="23.9" cy="24.8" r="0.70" fill="#a0a0a0"/><circle cx="2.5" cy="4.5" r="0.50" fill="#a0a0a0"/><circle cx="13.0" cy="38.2" r="0.57" fill="#a0a0a0"/><circle cx="41.3" cy="19.3" r="0.51" fill="#a0a0a0"/><circle cx="32.6" cy="4.1" r="0.79" fill="#a0a0a0"/><circle cx="39.9" cy="15.8" r="0.53" fill="#a0a0a0"/><circle cx="39.3" cy="37.8" r="0.66" fill="#a0a0a0"/><circle cx="2.7" cy="36.7" r="0.42" fill="#a0a0a0"/><circle cx="30.0" cy="26.5" r="0.77" fill="#a0a0a0"/><circle cx="30.7" cy="1.1" r="0.77" fill="#a0a0a0"/><circle cx="36.1" cy="27.8" r="0.40" fill="#a0a0a0"/><circle cx="35.4" cy="20.1" r="0.67" fill="#a0a0a0"/><circle cx="47.2" cy="44.0" r="0.43" fill="#a0a0a0"/><circle cx="37.5" cy="21.1" r="0.70" fill="#a0a0a0"/><circle cx="18.1" cy="21.5" r="0.57" fill="#a0a0a0"/><circle cx="5.7" cy="15.4" r="0.69" fill="#a0a0a0"/><circle cx="3.4" cy="5.6" r="0.73" fill="#a0a0a0"/><circle cx="32.0" cy="26.3" r="0.45" fill="#a0a0a0"/><circle cx="5.7" cy="14.9" r="0.78" fill="#a0a0a0"/><circle cx="26.9" cy="44.3" r="0.48" fill="#a0a0a0"/><circle cx="19.9" cy="25.7" r="0.74" fill="#a0a0a0"/><circle cx="5.9" cy="41.9" r="0.59" fill="#a0a0a0"/><circle cx="1.5" cy="20.7" r="0.55" fill="#a0a0a0"/><circle cx="32.4" cy="44.6" r="0.60" fill="#a0a0a0"/><circle cx="33.1" cy="18.6" r="0.71" fill="#a0a0a0"/><circle cx="5.1" cy="35.6" r="0.47" fill="#a0a0a0"/><circle cx="28.1" cy="9.7" r="0.54" fill="#a0a0a0"/><circle cx="7.9" cy="16.8" r="0.64" fill="#a0a0a0"/><circle cx="25.0" cy="18.7" r="0.63" fill="#a0a0a0"/><circle cx="40.4" cy="17.2" r="0.63" fill="#a0a0a0"/><circle cx="23.1" cy="47.1" r="0.53" fill="#a0a0a0"/><circle cx="33.5" cy="11.2" r="0.50" fill="#a0a0a0"/><circle cx="35.1" cy="27.6" r="0.50" fill="#a0a0a0"/><circle cx="3.1" cy="39.6" r="0.55" fill="#a0a0a0"/><circle cx="34.4" cy="20.8" r="0.65" fill="#a0a0a0"/><circle cx="26.9" cy="46.8" r="0.76" fill="#a0a0a0"/><circle cx="21.9" cy="23.4" r="0.49" fill="#a0a0a0"/><circle cx="36.2" cy="4.9" r="0.52" fill="#a0a0a0"/><circle cx="40.7" cy="1.7" r="0.68" fill="#a0a0a0"/><circle cx="27.3" cy="26.5" r="0.53" fill="#a0a0a0"/><circle cx="7.3" cy="45.6" r="0.71" fill="#a0a0a0"/><circle cx="38.7" cy="4.7" r="0.71" fill="#a0a0a0"/><circle cx="10.5" cy="9.6" r="0.61" fill="#a0a0a0"/><circle cx="29.3" cy="5.8" r="0.71" fill="#a0a0a0"/><circle cx="28.0" cy="43.2" r="0.77" fill="#a0a0a0"/><circle cx="33.1" cy="17.5" r="0.78" fill="#a0a0a0"/><circle cx="34.5" cy="14.0" r="0.74" fill="#a0a0a0"/><circle cx="34.9" cy="12.7" r="0.50" fill="#a0a0a0"/><circle cx="1.0" cy="25.8" r="0.50" fill="#a0a0a0"/><circle cx="14.1" cy="12.1" r="0.45" fill="#a0a0a0"/><circle cx="23.3" cy="13.1" r="0.51" fill="#a0a0a0"/><circle cx="13.3" cy="24.4" r="0.75" fill="#a0a0a0"/><circle cx="7.7" cy="41.3" r="0.74" fill="#a0a0a0"/><circle cx="29.3" cy="26.1" r="0.69" fill="#a0a0a0"/><circle cx="25.7" cy="31.7" r="0.77" fill="#a0a0a0"/><circle cx="37.2" cy="12.5" r="0.42" fill="#a0a0a0"/><circle cx="45.0" cy="17.4" r="0.71" fill="#a0a0a0"/><circle cx="11.2" cy="21.7" r="0.55" fill="#a0a0a0"/><circle cx="35.0" cy="45.3" r="0.60" fill="#a0a0a0"/><circle cx="27.2" cy="16.7" r="0.49" fill="#a0a0a0"/><circle cx="45.6" cy="5.3" r="0.78" fill="#a0a0a0"/><circle cx="31.5" cy="3.4" r="0.76" fill="#a0a0a0"/><circle cx="4.9" cy="27.1" r="0.45" fill="#a0a0a0"/><circle cx="47.5" cy="14.8" r="0.75" fill="#a0a0a0"/><circle cx="2.9" cy="32.0" r="0.43" fill="#a0a0a0"/><circle cx="1.4" cy="27.4" r="0.79" fill="#a0a0a0"/><circle cx="32.9" cy="41.1" r="0.71" fill="#a0a0a0"/><circle cx="25.0" cy="3.7" r="0.61" fill="#a0a0a0"/><circle cx="8.9" cy="25.3" r="0.54" fill="#a0a0a0"/><circle cx="24.0" cy="9.5" r="0.68" fill="#a0a0a0"/><circle cx="20.0" cy="23.3" r="0.43" fill="#a0a0a0"/><circle cx="23.4" cy="26.8" r="0.79" fill="#a0a0a0"/><circle cx="26.9" cy="6.5" r="0.52" fill="#a0a0a0"/><circle cx="16.1" cy="33.7" r="0.78" fill="#a0a0a0"/><circle cx="46.8" cy="45.6" r="0.77" fill="#a0a0a0"/><circle cx="41.2" cy="44.9" r="0.41" fill="#a0a0a0"/><circle cx="23.5" cy="28.4" r="0.67" fill="#a0a0a0"/><circle cx="29.4" cy="29.4" r="0.77" fill="#a0a0a0"/><circle cx="4.1" cy="24.9" r="0.78" fill="#a0a0a0"/><circle cx="1.5" cy="5.4" r="0.75" fill="#a0a0a0"/><circle cx="45.9" cy="1.2" r="0.41" fill="#a0a0a0"/><circle cx="39.8" cy="33.0" r="0.61" fill="#a0a0a0"/><circle cx="27.8" cy="36.4" r="0.72" fill="#a0a0a0"/><circle cx="0.0" cy="3.3" r="0.72" fill="#a0a0a0"/><circle cx="46.8" cy="40.0" r="0.56" fill="#a0a0a0"/><circle cx="16.1" cy="16.6" r="0.41" fill="#a0a0a0"/><circle cx="37.0" cy="12.6" r="0.63" fill="#a0a0a0"/><circle cx="25.3" cy="16.1" r="0.67" fill="#a0a0a0"/><circle cx="21.8" cy="11.3" r="0.75" fill="#a0a0a0"/><circle cx="8.4" cy="7.2" r="0.50" fill="#a0a0a0"/><circle cx="23.0" cy="37.6" r="0.53" fill="#a0a0a0"/><circle cx="11.4" cy="31.4" r="0.50" fill="#a0a0a0"/><circle cx="25.1" cy="12.2" r="0.75" fill="#a0a0a0"/><circle cx="8.9" cy="11.1" r="0.52" fill="#a0a0a0"/><circle cx="15.8" cy="34.9" r="0.67" fill="#a0a0a0"/><circle cx="37.9" cy="25.9" r="0.43" fill="#a0a0a0"/><circle cx="36.6" cy="11.7" r="0.49" fill="#a0a0a0"/><circle cx="19.9" cy="47.5" r="0.55" fill="#a0a0a0"/><circle cx="17.1" cy="43.7" r="0.80" fill="#a0a0a0"/><circle cx="18.6" cy="6.5" r="0.72" fill="#a0a0a0"/><circle cx="37.6" cy="16.2" r="0.72" fill="#a0a0a0"/><circle cx="18.2" cy="13.8" r="0.64" fill="#a0a0a0"/><circle cx="35.6" cy="22.8" r="0.73" fill="#a0a0a0"/><circle cx="0.7" cy="24.0" r="0.55" fill="#a0a0a0"/><circle cx="3.1" cy="43.9" r="0.46" fill="#a0a0a0"/><circle cx="9.9" cy="42.2" r="0.78" fill="#a0a0a0"/><circle cx="44.7" cy="16.4" r="0.77" fill="#a0a0a0"/><circle cx="6.8" cy="34.3" r="0.78" fill="#a0a0a0"/><circle cx="9.2" cy="6.5" r="0.67" fill="#a0a0a0"/><circle cx="42.4" cy="34.9" r="0.78" fill="#a0a0a0"/><circle cx="21.8" cy="17.9" r="0.45" fill="#a0a0a0"/><circle cx="13.1" cy="45.1" r="0.43" fill="#a0a0a0"/><circle cx="8.9" cy="16.7" r="0.42" fill="#a0a0a0"/><circle cx="14.7" cy="8.8" r="0.45" fill="#a0a0a0"/><circle cx="25.3" cy="25.9" r="0.63" fill="#a0a0a0"/><circle cx="36.6" cy="25.3" r="0.78" fill="#a0a0a0"/><circle cx="3.9" cy="10.7" r="0.43" fill="#a0a0a0"/><circle cx="14.9" cy="36.5" r="0.77" fill="#a0a0a0"/><circle cx="24.2" cy="7.7" r="0.53" fill="#a0a0a0"/><circle cx="27.3" cy="14.1" r="0.72" fill="#a0a0a0"/><circle cx="46.7" cy="22.1" r="0.64" fill="#a0a0a0"/><circle cx="40.6" cy="22.3" r="0.48" fill="#a0a0a0"/><circle cx="45.3" cy="46.9" r="0.41" fill="#a0a0a0"/><circle cx="36.6" cy="19.2" r="0.42" fill="#a0a0a0"/><circle cx="7.8" cy="8.3" r="0.69" fill="#a0a0a0"/><circle cx="10.2" cy="0.9" r="0.49" fill="#a0a0a0"/><circle cx="38.4" cy="24.0" r="0.66" fill="#a0a0a0"/><circle cx="22.3" cy="8.8" r="0.41" fill="#a0a0a0"/><circle cx="14.6" cy="2.0" r="0.50" fill="#a0a0a0"/><circle cx="29.7" cy="17.7" r="0.59" fill="#a0a0a0"/><circle cx="29.9" cy="15.2" r="0.54" fill="#a0a0a0"/><circle cx="42.4" cy="27.9" r="0.57" fill="#a0a0a0"/><circle cx="25.9" cy="22.1" r="0.53" fill="#a0a0a0"/><circle cx="43.9" cy="11.2" r="0.77" fill="#a0a0a0"/><circle cx="40.9" cy="42.3" r="0.47" fill="#a0a0a0"/><circle cx="24.4" cy="47.3" r="0.52" fill="#a0a0a0"/><circle cx="8.2" cy="34.7" r="0.49" fill="#a0a0a0"/><circle cx="28.0" cy="7.6" r="0.78" fill="#a0a0a0"/><circle cx="13.6" cy="4.7" r="0.67" fill="#a0a0a0"/><circle cx="16.7" cy="26.8" r="0.60" fill="#a0a0a0"/><circle cx="44.3" cy="24.7" r="0.55" fill="#a0a0a0"/><circle cx="0.1" cy="23.8" r="0.51" fill="#a0a0a0"/><circle cx="27.6" cy="30.3" r="0.58" fill="#a0a0a0"/><circle cx="4.3" cy="23.9" r="0.59" fill="#a0a0a0"/><circle cx="30.8" cy="46.6" r="0.51" fill="#a0a0a0"/><circle cx="21.3" cy="4.1" r="0.72" fill="#a0a0a0"/><circle cx="11.3" cy="39.8" r="0.72" fill="#a0a0a0"/><circle cx="12.2" cy="43.3" r="0.60" fill="#a0a0a0"/><circle cx="20.5" cy="26.6" r="0.78" fill="#a0a0a0"/><circle cx="23.5" cy="23.1" r="0.52" fill="#a0a0a0"/><circle cx="40.4" cy="24.1" r="0.54" fill="#a0a0a0"/><circle cx="9.4" cy="10.3" r="0.73" fill="#a0a0a0"/><circle cx="38.6" cy="47.0" r="0.77" fill="#a0a0a0"/><circle cx="32.9" cy="38.3" r="0.68" fill="#a0a0a0"/><circle cx="38.9" cy="38.5" r="0.47" fill="#a0a0a0"/><circle cx="39.1" cy="14.6" r="0.50" fill="#a0a0a0"/><circle cx="44.1" cy="1.1" r="0.60" fill="#a0a0a0"/><circle cx="16.5" cy="38.0" r="0.64" fill="#a0a0a0"/><circle cx="43.7" cy="44.8" r="0.66" fill="#a0a0a0"/><circle cx="3.1" cy="32.0" r="0.44" fill="#a0a0a0"/><circle cx="47.1" cy="41.8" r="0.52" fill="#a0a0a0"/><circle cx="8.9" cy="33.3" r="0.70" fill="#a0a0a0"/><circle cx="47.3" cy="29.9" r="0.45" fill="#a0a0a0"/><circle cx="34.9" cy="2.8" r="0.75" fill="#a0a0a0"/><circle cx="36.9" cy="37.7" r="0.75" fill="#a0a0a0"/><circle cx="27.3" cy="45.3" r="0.66" fill="#a0a0a0"/><circle cx="23.6" cy="18.5" r="0.54" fill="#a0a0a0"/><circle cx="1.1" cy="7.7" r="0.72" fill="#a0a0a0"/><circle cx="11.0" cy="31.4" r="0.71" fill="#a0a0a0"/><circle cx="33.3" cy="24.8" r="0.53" fill="#a0a0a0"/><circle cx="13.1" cy="9.0" r="0.66" fill="#a0a0a0"/><circle cx="32.9" cy="45.2" r="0.53" fill="#a0a0a0"/><circle cx="44.5" cy="43.8" r="0.52" fill="#a0a0a0"/><circle cx="45.7" cy="29.7" r="0.79" fill="#a0a0a0"/><circle cx="37.2" cy="16.0" r="0.51" fill="#a0a0a0"/><circle cx="25.1" cy="23.4" r="0.41" fill="#a0a0a0"/><circle cx="41.4" cy="25.7" r="0.59" fill="#a0a0a0"/><circle cx="35.7" cy="12.0" r="0.48" fill="#a0a0a0"/><circle cx="27.9" cy="11.6" r="0.53" fill="#a0a0a0"/><circle cx="3.4" cy="2.5" r="0.54" fill="#a0a0a0"/><circle cx="25.3" cy="45.5" r="0.66" fill="#a0a0a0"/><circle cx="19.9" cy="19.5" r="0.49" fill="#a0a0a0"/><circle cx="22.7" cy="46.0" r="0.45" fill="#a0a0a0"/><circle cx="20.8" cy="32.9" r="0.70" fill="#a0a0a0"/><circle cx="26.6" cy="30.8" r="0.78" fill="#a0a0a0"/><circle cx="43.3" cy="12.1" r="0.62" fill="#a0a0a0"/><circle cx="47.9" cy="25.3" r="0.48" fill="#a0a0a0"/><circle cx="36.8" cy="2.7" r="0.46" fill="#a0a0a0"/><circle cx="26.5" cy="13.1" r="0.69" fill="#a0a0a0"/><circle cx="34.9" cy="15.3" r="0.71" fill="#a0a0a0"/><circle cx="31.1" cy="33.9" r="0.58" fill="#a0a0a0"/><circle cx="20.8" cy="5.1" r="0.59" fill="#a0a0a0"/><circle cx="45.8" cy="42.6" r="0.42" fill="#a0a0a0"/><circle cx="3.4" cy="12.9" r="0.68" fill="#a0a0a0"/><circle cx="21.0" cy="6.1" r="0.57" fill="#a0a0a0"/><circle cx="27.5" cy="35.7" r="0.56" fill="#a0a0a0"/><circle cx="31.2" cy="32.7" r="0.65" fill="#a0a0a0"/><circle cx="2.2" cy="34.1" r="0.45" fill="#a0a0a0"/><circle cx="2.6" cy="22.7" r="0.41" fill="#a0a0a0"/><circle cx="3.5" cy="18.8" r="0.59" fill="#a0a0a0"/><circle cx="5.1" cy="45.8" r="0.74" fill="#a0a0a0"/><circle cx="23.4" cy="28.2" r="0.53" fill="#a0a0a0"/><circle cx="47.2" cy="5.8" r="0.52" fill="#a0a0a0"/><circle cx="10.6" cy="41.6" r="0.60" fill="#a0a0a0"/><circle cx="19.7" cy="19.1" r="0.75" fill="#a0a0a0"/><circle cx="12.4" cy="38.0" r="0.68" fill="#a0a0a0"/><circle cx="21.5" cy="17.6" r="0.57" fill="#a0a0a0"/></pattern><pattern id="st3" width="48" height="48" patternUnits="userSpaceOnUse"><rect width="48" height="48" fill="#dadada"/><circle cx="21.7" cy="15.1" r="0.68" fill="#222"/><circle cx="19.7" cy="14.6" r="0.75" fill="#222"/><circle cx="21.8" cy="22.7" r="0.80" fill="#222"/><circle cx="21.8" cy="18.0" r="0.80" fill="#222"/><circle cx="46.9" cy="37.7" r="0.58" fill="#222"/><circle cx="32.2" cy="35.6" r="0.53" fill="#222"/><circle cx="34.8" cy="45.6" r="0.70" fill="#222"/><circle cx="32.1" cy="20.9" r="0.69" fill="#222"/><circle cx="10.8" cy="37.0" r="0.64" fill="#222"/><circle cx="47.0" cy="16.4" r="0.72" fill="#222"/><circle cx="0.8" cy="20.0" r="0.74" fill="#222"/><circle cx="12.5" cy="29.4" r="0.50" fill="#222"/><circle cx="19.1" cy="47.7" r="0.49" fill="#222"/><circle cx="43.8" cy="2.9" r="0.66" fill="#222"/><circle cx="39.4" cy="40.2" r="0.58" fill="#222"/><circle cx="28.3" cy="34.2" r="0.74" fill="#222"/><circle cx="35.8" cy="27.8" r="0.51" fill="#222"/><circle cx="33.9" cy="26.9" r="0.64" fill="#222"/><circle cx="47.4" cy="6.6" r="0.75" fill="#222"/><circle cx="15.6" cy="34.9" r="0.83" fill="#222"/><circle cx="13.2" cy="27.2" r="0.64" fill="#222"/><circle cx="23.8" cy="8.0" r="0.68" fill="#222"/><circle cx="42.9" cy="31.8" r="0.53" fill="#222"/><circle cx="38.7" cy="20.2" r="0.47" fill="#222"/><circle cx="29.1" cy="22.1" r="0.64" fill="#222"/><circle cx="47.6" cy="27.3" r="0.83" fill="#222"/><circle cx="16.9" cy="36.4" r="0.43" fill="#222"/><circle cx="14.4" cy="33.2" r="0.71" fill="#222"/><circle cx="39.8" cy="18.2" r="0.52" fill="#222"/><circle cx="17.2" cy="25.8" r="0.41" fill="#222"/><circle cx="18.0" cy="31.5" r="0.47" fill="#222"/><circle cx="14.9" cy="41.9" r="0.82" fill="#222"/><circle cx="12.0" cy="8.5" r="0.45" fill="#222"/><circle cx="4.1" cy="38.1" r="0.73" fill="#222"/><circle cx="12.7" cy="23.5" r="0.71" fill="#222"/><circle cx="1.3" cy="39.3" r="0.79" fill="#222"/><circle cx="10.1" cy="33.8" r="0.71" fill="#222"/><circle cx="16.2" cy="42.2" r="0.50" fill="#222"/><circle cx="22.7" cy="15.1" r="0.60" fill="#222"/><circle cx="39.0" cy="27.4" r="0.67" fill="#222"/><circle cx="47.4" cy="10.7" r="0.50" fill="#222"/><circle cx="29.7" cy="7.2" r="0.83" fill="#222"/><circle cx="16.4" cy="21.1" r="0.59" fill="#222"/><circle cx="39.7" cy="43.9" r="0.70" fill="#222"/><circle cx="8.2" cy="17.0" r="0.72" fill="#222"/><circle cx="10.4" cy="42.4" r="0.79" fill="#222"/><circle cx="10.9" cy="17.5" r="0.50" fill="#222"/><circle cx="34.5" cy="2.3" r="0.71" fill="#222"/><circle cx="3.0" cy="40.4" r="0.64" fill="#222"/><circle cx="28.0" cy="4.6" r="0.42" fill="#222"/><circle cx="16.9" cy="47.3" r="0.67" fill="#222"/><circle cx="41.4" cy="3.0" r="0.45" fill="#222"/><circle cx="1.0" cy="33.5" r="0.48" fill="#222"/><circle cx="13.1" cy="32.0" r="0.71" fill="#222"/><circle cx="15.5" cy="22.4" r="0.53" fill="#222"/><circle cx="26.9" cy="17.1" r="0.56" fill="#222"/><circle cx="11.9" cy="14.0" r="0.52" fill="#222"/><circle cx="0.8" cy="14.9" r="0.67" fill="#222"/><circle cx="12.9" cy="5.4" r="0.78" fill="#222"/><circle cx="22.5" cy="24.6" r="0.54" fill="#222"/><circle cx="42.6" cy="36.2" r="0.68" fill="#222"/><circle cx="31.7" cy="33.2" r="0.63" fill="#222"/><circle cx="19.8" cy="18.7" r="0.63" fill="#222"/><circle cx="22.5" cy="25.4" r="0.64" fill="#222"/><circle cx="37.9" cy="42.8" r="0.50" fill="#222"/><circle cx="1.1" cy="14.4" r="0.41" fill="#222"/><circle cx="38.2" cy="29.8" r="0.53" fill="#222"/><circle cx="9.2" cy="41.7" r="0.78" fill="#222"/><circle cx="32.8" cy="33.2" r="0.74" fill="#222"/><circle cx="21.8" cy="19.1" r="0.65" fill="#222"/><circle cx="42.3" cy="47.6" r="0.81" fill="#222"/><circle cx="40.1" cy="3.6" r="0.51" fill="#222"/><circle cx="46.6" cy="26.1" r="0.63" fill="#222"/><circle cx="14.9" cy="41.4" r="0.63" fill="#222"/><circle cx="47.5" cy="3.6" r="0.85" fill="#222"/><circle cx="0.6" cy="7.1" r="0.58" fill="#222"/><circle cx="30.7" cy="5.3" r="0.65" fill="#222"/><circle cx="45.1" cy="20.9" r="0.74" fill="#222"/><circle cx="28.4" cy="28.0" r="0.48" fill="#222"/><circle cx="22.3" cy="43.2" r="0.70" fill="#222"/><circle cx="10.4" cy="21.5" r="0.64" fill="#222"/><circle cx="16.2" cy="27.7" r="0.68" fill="#222"/><circle cx="0.9" cy="10.6" r="0.70" fill="#222"/><circle cx="10.3" cy="3.5" r="0.74" fill="#222"/><circle cx="16.0" cy="46.0" r="0.65" fill="#222"/><circle cx="4.9" cy="30.6" r="0.52" fill="#222"/><circle cx="39.1" cy="34.8" r="0.74" fill="#222"/><circle cx="2.7" cy="1.6" r="0.76" fill="#222"/><circle cx="6.7" cy="9.7" r="0.41" fill="#222"/><circle cx="7.8" cy="22.7" r="0.83" fill="#222"/><circle cx="15.4" cy="12.4" r="0.77" fill="#222"/><circle cx="8.9" cy="30.5" r="0.68" fill="#222"/><circle cx="44.9" cy="2.1" r="0.65" fill="#222"/><circle cx="18.4" cy="39.5" r="0.51" fill="#222"/><circle cx="34.3" cy="8.9" r="0.62" fill="#222"/><circle cx="46.5" cy="11.5" r="0.53" fill="#222"/><circle cx="44.0" cy="32.4" r="0.43" fill="#222"/><circle cx="9.0" cy="11.4" r="0.53" fill="#222"/><circle cx="40.5" cy="33.6" r="0.84" fill="#222"/><circle cx="32.1" cy="30.1" r="0.57" fill="#222"/><circle cx="34.4" cy="23.7" r="0.43" fill="#222"/><circle cx="23.6" cy="18.4" r="0.64" fill="#222"/><circle cx="2.3" cy="1.3" r="0.84" fill="#222"/><circle cx="17.8" cy="15.8" r="0.47" fill="#222"/><circle cx="28.4" cy="43.9" r="0.48" fill="#222"/><circle cx="24.0" cy="24.0" r="0.74" fill="#222"/><circle cx="27.1" cy="11.5" r="0.49" fill="#222"/><circle cx="34.8" cy="3.7" r="0.79" fill="#222"/><circle cx="1.6" cy="9.1" r="0.61" fill="#222"/><circle cx="40.5" cy="29.7" r="0.74" fill="#222"/><circle cx="36.5" cy="34.7" r="0.42" fill="#222"/><circle cx="39.6" cy="7.1" r="0.47" fill="#222"/><circle cx="1.8" cy="1.4" r="0.79" fill="#222"/><circle cx="18.3" cy="4.2" r="0.42" fill="#222"/><circle cx="40.6" cy="28.9" r="0.81" fill="#222"/><circle cx="1.8" cy="5.4" r="0.53" fill="#222"/><circle cx="9.2" cy="5.4" r="0.49" fill="#222"/><circle cx="30.7" cy="8.1" r="0.48" fill="#222"/><circle cx="25.7" cy="18.0" r="0.47" fill="#222"/><circle cx="27.3" cy="24.4" r="0.57" fill="#222"/><circle cx="22.8" cy="1.9" r="0.68" fill="#222"/><circle cx="9.3" cy="16.1" r="0.40" fill="#222"/><circle cx="42.6" cy="28.2" r="0.58" fill="#222"/><circle cx="26.0" cy="45.1" r="0.46" fill="#222"/><circle cx="18.4" cy="34.0" r="0.57" fill="#222"/><circle cx="33.9" cy="43.6" r="0.42" fill="#222"/><circle cx="13.7" cy="14.1" r="0.74" fill="#222"/><circle cx="37.6" cy="33.6" r="0.82" fill="#222"/><circle cx="8.9" cy="18.9" r="0.78" fill="#222"/><circle cx="36.7" cy="5.4" r="0.84" fill="#222"/><circle cx="35.5" cy="41.6" r="0.56" fill="#222"/><circle cx="29.1" cy="46.0" r="0.80" fill="#222"/><circle cx="27.7" cy="42.7" r="0.85" fill="#222"/><circle cx="40.3" cy="31.5" r="0.83" fill="#222"/><circle cx="6.9" cy="19.4" r="0.65" fill="#222"/><circle cx="6.3" cy="37.5" r="0.43" fill="#222"/><circle cx="30.2" cy="13.4" r="0.55" fill="#222"/><circle cx="29.1" cy="9.2" r="0.60" fill="#222"/><circle cx="41.1" cy="47.4" r="0.52" fill="#222"/><circle cx="17.5" cy="33.3" r="0.49" fill="#222"/><circle cx="40.8" cy="9.5" r="0.65" fill="#222"/><circle cx="16.3" cy="0.1" r="0.40" fill="#222"/><circle cx="0.1" cy="15.8" r="0.52" fill="#222"/><circle cx="47.6" cy="30.6" r="0.43" fill="#222"/><circle cx="34.4" cy="11.2" r="0.62" fill="#222"/><circle cx="34.7" cy="41.1" r="0.82" fill="#222"/><circle cx="20.2" cy="15.3" r="0.58" fill="#222"/><circle cx="15.0" cy="35.6" r="0.61" fill="#222"/><circle cx="32.9" cy="7.3" r="0.75" fill="#222"/><circle cx="46.4" cy="9.7" r="0.68" fill="#222"/><circle cx="7.8" cy="1.7" r="0.59" fill="#222"/><circle cx="8.8" cy="35.1" r="0.66" fill="#222"/><circle cx="32.4" cy="46.5" r="0.43" fill="#222"/><circle cx="4.7" cy="1.7" r="0.61" fill="#222"/><circle cx="39.6" cy="32.8" r="0.65" fill="#222"/><circle cx="41.1" cy="17.9" r="0.45" fill="#222"/><circle cx="30.8" cy="1.2" r="0.50" fill="#222"/><circle cx="1.4" cy="7.8" r="0.43" fill="#222"/><circle cx="25.5" cy="6.1" r="0.67" fill="#222"/><circle cx="39.6" cy="16.5" r="0.45" fill="#222"/><circle cx="32.2" cy="35.0" r="0.80" fill="#222"/><circle cx="26.6" cy="27.9" r="0.79" fill="#222"/><circle cx="32.5" cy="46.8" r="0.53" fill="#222"/><circle cx="37.2" cy="30.4" r="0.61" fill="#222"/><circle cx="0.5" cy="22.9" r="0.52" fill="#222"/><circle cx="28.9" cy="24.5" r="0.63" fill="#222"/><circle cx="2.8" cy="6.3" r="0.67" fill="#222"/><circle cx="32.7" cy="47.5" r="0.76" fill="#222"/><circle cx="13.9" cy="21.9" r="0.63" fill="#222"/><circle cx="38.6" cy="18.9" r="0.81" fill="#222"/><circle cx="23.2" cy="19.1" r="0.62" fill="#222"/><circle cx="17.2" cy="48.0" r="0.42" fill="#222"/><circle cx="19.2" cy="3.8" r="0.71" fill="#222"/><circle cx="7.2" cy="7.2" r="0.59" fill="#222"/><circle cx="28.9" cy="36.7" r="0.60" fill="#222"/><circle cx="14.2" cy="17.7" r="0.80" fill="#222"/><circle cx="10.2" cy="0.5" r="0.80" fill="#222"/><circle cx="23.2" cy="6.3" r="0.46" fill="#222"/><circle cx="42.7" cy="36.0" r="0.43" fill="#222"/><circle cx="32.4" cy="10.3" r="0.60" fill="#222"/><circle cx="29.0" cy="2.4" r="0.82" fill="#222"/><circle cx="16.1" cy="6.9" r="0.75" fill="#222"/><circle cx="5.2" cy="1.8" r="0.69" fill="#222"/><circle cx="22.6" cy="43.2" r="0.76" fill="#222"/><circle cx="9.9" cy="2.2" r="0.67" fill="#222"/><circle cx="22.6" cy="14.5" r="0.81" fill="#222"/><circle cx="10.0" cy="30.9" r="0.43" fill="#222"/><circle cx="44.3" cy="45.5" r="0.68" fill="#222"/><circle cx="15.4" cy="34.7" r="0.81" fill="#222"/><circle cx="38.2" cy="2.0" r="0.63" fill="#222"/><circle cx="6.7" cy="26.2" r="0.83" fill="#222"/><circle cx="41.5" cy="11.9" r="0.65" fill="#222"/><circle cx="15.2" cy="8.1" r="0.73" fill="#222"/><circle cx="36.4" cy="16.2" r="0.59" fill="#222"/><circle cx="33.4" cy="34.9" r="0.61" fill="#222"/><circle cx="5.7" cy="4.6" r="0.48" fill="#222"/><circle cx="39.7" cy="23.8" r="0.69" fill="#222"/><circle cx="17.5" cy="17.7" r="0.48" fill="#222"/><circle cx="46.8" cy="29.1" r="0.46" fill="#222"/><circle cx="33.7" cy="28.7" r="0.68" fill="#222"/><circle cx="37.0" cy="29.2" r="0.79" fill="#222"/><circle cx="46.5" cy="19.5" r="0.69" fill="#222"/><circle cx="18.0" cy="19.7" r="0.56" fill="#222"/><circle cx="31.1" cy="16.9" r="0.56" fill="#222"/><circle cx="40.6" cy="38.4" r="0.70" fill="#222"/><circle cx="40.5" cy="18.5" r="0.69" fill="#222"/><circle cx="12.1" cy="15.1" r="0.45" fill="#222"/><circle cx="38.3" cy="44.2" r="0.54" fill="#222"/><circle cx="18.2" cy="5.6" r="0.46" fill="#222"/><circle cx="30.6" cy="42.8" r="0.44" fill="#222"/><circle cx="12.2" cy="36.4" r="0.50" fill="#222"/><circle cx="42.1" cy="16.9" r="0.61" fill="#222"/><circle cx="9.7" cy="14.0" r="0.59" fill="#222"/><circle cx="13.4" cy="35.0" r="0.41" fill="#222"/><circle cx="30.7" cy="38.5" r="0.55" fill="#222"/><circle cx="9.2" cy="5.8" r="0.43" fill="#222"/><circle cx="38.0" cy="28.9" r="0.41" fill="#222"/><circle cx="21.8" cy="28.7" r="0.54" fill="#222"/><circle cx="1.7" cy="20.2" r="0.56" fill="#222"/><circle cx="46.7" cy="17.3" r="0.82" fill="#222"/><circle cx="41.7" cy="27.6" r="0.46" fill="#222"/><circle cx="38.8" cy="4.3" r="0.65" fill="#222"/><circle cx="4.7" cy="4.4" r="0.58" fill="#222"/><circle cx="7.5" cy="47.6" r="0.66" fill="#222"/><circle cx="43.1" cy="45.9" r="0.74" fill="#222"/><circle cx="31.0" cy="22.7" r="0.75" fill="#222"/><circle cx="32.1" cy="7.6" r="0.64" fill="#222"/><circle cx="19.8" cy="24.7" r="0.72" fill="#222"/><circle cx="33.1" cy="27.3" r="0.75" fill="#222"/><circle cx="39.6" cy="4.4" r="0.47" fill="#222"/><circle cx="2.3" cy="7.7" r="0.83" fill="#222"/><circle cx="14.9" cy="21.1" r="0.61" fill="#222"/><circle cx="27.1" cy="13.4" r="0.75" fill="#222"/><circle cx="15.9" cy="40.6" r="0.76" fill="#222"/><circle cx="0.1" cy="26.3" r="0.44" fill="#222"/><circle cx="42.4" cy="3.3" r="0.52" fill="#222"/><circle cx="36.9" cy="28.4" r="0.70" fill="#222"/><circle cx="19.8" cy="25.0" r="0.49" fill="#222"/><circle cx="22.2" cy="12.3" r="0.70" fill="#222"/><circle cx="5.1" cy="6.6" r="0.49" fill="#222"/><circle cx="25.6" cy="27.9" r="0.40" fill="#222"/><circle cx="47.4" cy="40.1" r="0.57" fill="#222"/><circle cx="7.6" cy="39.6" r="0.84" fill="#222"/><circle cx="8.5" cy="36.3" r="0.77" fill="#222"/><circle cx="45.0" cy="10.0" r="0.45" fill="#222"/><circle cx="7.9" cy="11.1" r="0.81" fill="#222"/><circle cx="43.7" cy="22.7" r="0.46" fill="#222"/><circle cx="16.9" cy="11.6" r="0.69" fill="#222"/><circle cx="34.6" cy="37.3" r="0.60" fill="#222"/><circle cx="21.9" cy="22.5" r="0.57" fill="#222"/><circle cx="21.8" cy="32.9" r="0.72" fill="#222"/><circle cx="15.7" cy="27.2" r="0.47" fill="#222"/><circle cx="2.2" cy="18.6" r="0.56" fill="#222"/><circle cx="1.6" cy="3.8" r="0.59" fill="#222"/><circle cx="45.2" cy="40.2" r="0.41" fill="#222"/><circle cx="15.2" cy="17.7" r="0.54" fill="#222"/><circle cx="6.6" cy="28.3" r="0.78" fill="#222"/><circle cx="18.3" cy="8.5" r="0.45" fill="#222"/><circle cx="0.7" cy="36.7" r="0.50" fill="#222"/><circle cx="34.8" cy="38.0" r="0.44" fill="#222"/><circle cx="9.1" cy="15.1" r="0.75" fill="#222"/><circle cx="35.4" cy="14.5" r="0.60" fill="#222"/><circle cx="17.0" cy="22.6" r="0.76" fill="#222"/><circle cx="12.6" cy="38.9" r="0.81" fill="#222"/><circle cx="28.8" cy="46.0" r="0.82" fill="#222"/><circle cx="8.2" cy="47.6" r="0.49" fill="#222"/><circle cx="38.6" cy="5.8" r="0.54" fill="#222"/><circle cx="21.2" cy="40.3" r="0.71" fill="#222"/><circle cx="9.8" cy="43.1" r="0.79" fill="#222"/><circle cx="24.5" cy="2.4" r="0.53" fill="#222"/><circle cx="14.0" cy="20.1" r="0.82" fill="#222"/><circle cx="28.6" cy="39.3" r="0.43" fill="#222"/><circle cx="11.8" cy="35.1" r="0.55" fill="#222"/><circle cx="10.9" cy="3.0" r="0.42" fill="#222"/><circle cx="19.8" cy="26.2" r="0.58" fill="#222"/><circle cx="27.1" cy="14.0" r="0.41" fill="#222"/><circle cx="32.4" cy="16.1" r="0.62" fill="#222"/><circle cx="18.1" cy="13.0" r="0.42" fill="#222"/><circle cx="14.2" cy="14.3" r="0.45" fill="#222"/><circle cx="1.4" cy="23.1" r="0.41" fill="#222"/><circle cx="42.2" cy="17.3" r="0.60" fill="#222"/><circle cx="25.2" cy="1.2" r="0.45" fill="#222"/><circle cx="37.7" cy="26.7" r="0.62" fill="#222"/><circle cx="16.5" cy="36.1" r="0.63" fill="#222"/><circle cx="38.0" cy="40.1" r="0.80" fill="#222"/><circle cx="34.8" cy="32.3" r="0.61" fill="#222"/><circle cx="25.6" cy="27.8" r="0.64" fill="#222"/><circle cx="39.3" cy="41.2" r="0.42" fill="#222"/><circle cx="36.1" cy="29.6" r="0.67" fill="#222"/><circle cx="43.6" cy="2.4" r="0.61" fill="#222"/><circle cx="18.0" cy="45.5" r="0.47" fill="#222"/><circle cx="27.0" cy="6.9" r="0.74" fill="#222"/><circle cx="23.5" cy="35.3" r="0.54" fill="#222"/><circle cx="42.4" cy="0.3" r="0.50" fill="#222"/><circle cx="35.2" cy="42.2" r="0.75" fill="#222"/><circle cx="13.2" cy="3.9" r="0.72" fill="#222"/><circle cx="35.1" cy="2.9" r="0.82" fill="#222"/><circle cx="25.3" cy="1.6" r="0.62" fill="#222"/><circle cx="16.2" cy="5.0" r="0.80" fill="#222"/><circle cx="44.9" cy="6.0" r="0.60" fill="#222"/><circle cx="13.1" cy="32.3" r="0.45" fill="#222"/><circle cx="16.0" cy="19.7" r="0.61" fill="#222"/><circle cx="20.9" cy="28.6" r="0.82" fill="#222"/><circle cx="44.7" cy="43.6" r="0.77" fill="#222"/><circle cx="11.0" cy="11.7" r="0.61" fill="#222"/><circle cx="30.9" cy="29.1" r="0.56" fill="#222"/><circle cx="47.6" cy="15.0" r="0.41" fill="#222"/><circle cx="4.4" cy="10.1" r="0.73" fill="#222"/><circle cx="40.4" cy="2.0" r="0.51" fill="#222"/><circle cx="11.6" cy="37.8" r="0.80" fill="#222"/><circle cx="12.6" cy="4.9" r="0.84" fill="#222"/><circle cx="46.6" cy="34.4" r="0.61" fill="#222"/><circle cx="35.8" cy="36.8" r="0.63" fill="#222"/><circle cx="13.0" cy="25.2" r="0.70" fill="#222"/><circle cx="15.6" cy="30.7" r="0.47" fill="#222"/><circle cx="46.6" cy="10.1" r="0.50" fill="#222"/><circle cx="46.1" cy="45.6" r="0.82" fill="#222"/><circle cx="40.4" cy="40.7" r="0.77" fill="#222"/><circle cx="27.2" cy="3.6" r="0.73" fill="#222"/><circle cx="40.1" cy="40.2" r="0.42" fill="#222"/><circle cx="2.9" cy="35.1" r="0.62" fill="#222"/><circle cx="42.9" cy="47.6" r="0.60" fill="#222"/><circle cx="32.4" cy="31.9" r="0.71" fill="#222"/><circle cx="17.6" cy="30.7" r="0.43" fill="#222"/><circle cx="43.2" cy="34.7" r="0.76" fill="#222"/><circle cx="22.2" cy="9.8" r="0.60" fill="#222"/><circle cx="32.7" cy="26.3" r="0.45" fill="#222"/><circle cx="0.2" cy="19.1" r="0.51" fill="#222"/><circle cx="10.9" cy="10.6" r="0.59" fill="#222"/><circle cx="33.4" cy="43.8" r="0.70" fill="#222"/><circle cx="1.0" cy="41.6" r="0.67" fill="#222"/><circle cx="35.1" cy="29.5" r="0.56" fill="#222"/><circle cx="16.3" cy="3.4" r="0.70" fill="#222"/><circle cx="2.6" cy="32.7" r="0.81" fill="#222"/><circle cx="32.1" cy="29.1" r="0.76" fill="#222"/><circle cx="46.1" cy="39.0" r="0.85" fill="#222"/><circle cx="22.1" cy="0.7" r="0.68" fill="#222"/><circle cx="30.6" cy="41.4" r="0.68" fill="#222"/><circle cx="17.4" cy="0.2" r="0.77" fill="#222"/><circle cx="30.0" cy="47.3" r="0.67" fill="#222"/><circle cx="40.9" cy="37.1" r="0.85" fill="#222"/><circle cx="22.2" cy="43.1" r="0.58" fill="#222"/><circle cx="0.5" cy="15.6" r="0.56" fill="#222"/><circle cx="47.6" cy="19.0" r="0.52" fill="#222"/><circle cx="33.2" cy="4.7" r="0.54" fill="#222"/><circle cx="19.0" cy="6.0" r="0.67" fill="#222"/><circle cx="20.3" cy="38.5" r="0.55" fill="#222"/><circle cx="46.9" cy="9.4" r="0.64" fill="#222"/><circle cx="10.9" cy="0.7" r="0.54" fill="#222"/><circle cx="43.0" cy="14.0" r="0.62" fill="#222"/><circle cx="25.2" cy="12.8" r="0.64" fill="#222"/><circle cx="3.1" cy="16.8" r="0.53" fill="#222"/><circle cx="39.1" cy="37.0" r="0.72" fill="#222"/><circle cx="28.6" cy="41.6" r="0.73" fill="#222"/><circle cx="2.7" cy="6.3" r="0.74" fill="#222"/><circle cx="40.3" cy="47.5" r="0.75" fill="#222"/><circle cx="7.6" cy="27.2" r="0.68" fill="#222"/><circle cx="29.0" cy="6.5" r="0.84" fill="#222"/><circle cx="24.5" cy="12.9" r="0.84" fill="#222"/><circle cx="18.5" cy="3.4" r="0.70" fill="#222"/><circle cx="12.5" cy="10.5" r="0.54" fill="#222"/><circle cx="29.1" cy="15.4" r="0.70" fill="#222"/><circle cx="43.5" cy="47.6" r="0.80" fill="#222"/><circle cx="44.2" cy="12.2" r="0.77" fill="#222"/><circle cx="4.3" cy="27.9" r="0.43" fill="#222"/><circle cx="4.8" cy="45.5" r="0.46" fill="#222"/><circle cx="34.4" cy="25.3" r="0.40" fill="#222"/><circle cx="38.1" cy="2.9" r="0.80" fill="#222"/><circle cx="39.3" cy="23.8" r="0.60" fill="#222"/><circle cx="1.3" cy="33.6" r="0.42" fill="#222"/><circle cx="25.3" cy="44.4" r="0.71" fill="#222"/><circle cx="5.6" cy="34.6" r="0.72" fill="#222"/><circle cx="15.8" cy="37.0" r="0.66" fill="#222"/><circle cx="19.9" cy="25.2" r="0.52" fill="#222"/><circle cx="13.8" cy="42.7" r="0.56" fill="#222"/><circle cx="37.0" cy="17.6" r="0.49" fill="#222"/><circle cx="0.1" cy="46.2" r="0.74" fill="#222"/><circle cx="47.1" cy="28.3" r="0.43" fill="#222"/><circle cx="7.8" cy="2.4" r="0.68" fill="#222"/><circle cx="29.9" cy="45.9" r="0.53" fill="#222"/><circle cx="11.2" cy="10.6" r="0.47" fill="#222"/><circle cx="1.4" cy="23.7" r="0.59" fill="#222"/><circle cx="17.7" cy="45.7" r="0.54" fill="#222"/><circle cx="39.7" cy="25.6" r="0.45" fill="#222"/><circle cx="1.4" cy="29.2" r="0.79" fill="#222"/><circle cx="2.4" cy="33.7" r="0.50" fill="#222"/><circle cx="33.0" cy="40.0" r="0.73" fill="#222"/><circle cx="11.7" cy="7.5" r="0.84" fill="#222"/><circle cx="44.0" cy="44.3" r="0.64" fill="#222"/><circle cx="2.5" cy="17.7" r="0.81" fill="#222"/><circle cx="3.2" cy="14.2" r="0.42" fill="#222"/><circle cx="42.3" cy="17.0" r="0.44" fill="#222"/><circle cx="17.1" cy="9.8" r="0.60" fill="#222"/><circle cx="29.6" cy="31.6" r="0.44" fill="#222"/><circle cx="25.7" cy="2.7" r="0.60" fill="#222"/><circle cx="38.8" cy="12.6" r="0.77" fill="#222"/><circle cx="11.7" cy="18.9" r="0.76" fill="#222"/><circle cx="0.2" cy="26.6" r="0.64" fill="#222"/><circle cx="34.3" cy="45.5" r="0.71" fill="#222"/><circle cx="10.7" cy="9.6" r="0.62" fill="#222"/><circle cx="13.5" cy="26.6" r="0.44" fill="#222"/><circle cx="33.3" cy="20.0" r="0.42" fill="#222"/><circle cx="5.8" cy="44.9" r="0.78" fill="#222"/><circle cx="42.3" cy="18.7" r="0.84" fill="#222"/><circle cx="8.2" cy="34.8" r="0.82" fill="#222"/><circle cx="10.0" cy="0.2" r="0.46" fill="#222"/><circle cx="4.0" cy="38.6" r="0.67" fill="#222"/><circle cx="22.9" cy="5.5" r="0.69" fill="#222"/><circle cx="6.6" cy="6.4" r="0.67" fill="#222"/><circle cx="30.9" cy="38.4" r="0.77" fill="#222"/><circle cx="6.6" cy="14.6" r="0.46" fill="#222"/><circle cx="23.6" cy="1.4" r="0.79" fill="#222"/><circle cx="32.7" cy="38.8" r="0.62" fill="#222"/><circle cx="43.8" cy="40.1" r="0.77" fill="#222"/><circle cx="38.7" cy="10.4" r="0.56" fill="#222"/><circle cx="2.7" cy="36.7" r="0.61" fill="#222"/><circle cx="47.3" cy="13.9" r="0.59" fill="#222"/><circle cx="41.6" cy="46.5" r="0.74" fill="#222"/><circle cx="42.4" cy="44.3" r="0.52" fill="#222"/><circle cx="29.6" cy="3.1" r="0.70" fill="#222"/><circle cx="45.7" cy="24.3" r="0.47" fill="#222"/><circle cx="27.3" cy="3.1" r="0.61" fill="#222"/><circle cx="3.8" cy="20.0" r="0.77" fill="#222"/><circle cx="35.5" cy="41.0" r="0.61" fill="#222"/><circle cx="21.2" cy="2.6" r="0.76" fill="#222"/><circle cx="27.4" cy="19.6" r="0.47" fill="#222"/><circle cx="22.0" cy="3.0" r="0.45" fill="#222"/><circle cx="3.8" cy="20.4" r="0.46" fill="#222"/><circle cx="39.7" cy="29.3" r="0.79" fill="#222"/><circle cx="26.6" cy="7.7" r="0.52" fill="#222"/><circle cx="40.3" cy="28.1" r="0.69" fill="#222"/><circle cx="30.4" cy="2.3" r="0.49" fill="#222"/><circle cx="20.7" cy="40.5" r="0.82" fill="#222"/><circle cx="28.4" cy="12.5" r="0.42" fill="#222"/><circle cx="26.8" cy="19.6" r="0.82" fill="#222"/><circle cx="9.9" cy="9.8" r="0.41" fill="#222"/><circle cx="1.4" cy="38.8" r="0.79" fill="#222"/><circle cx="7.4" cy="0.7" r="0.66" fill="#222"/><circle cx="11.8" cy="29.5" r="0.81" fill="#222"/><circle cx="35.9" cy="13.4" r="0.67" fill="#222"/><circle cx="13.9" cy="36.5" r="0.52" fill="#222"/><circle cx="41.7" cy="32.6" r="0.80" fill="#222"/><circle cx="16.6" cy="45.8" r="0.66" fill="#222"/><circle cx="12.3" cy="31.0" r="0.54" fill="#222"/><circle cx="5.4" cy="1.9" r="0.67" fill="#222"/><circle cx="11.6" cy="4.8" r="0.75" fill="#222"/><circle cx="6.8" cy="36.2" r="0.52" fill="#222"/><circle cx="17.4" cy="44.8" r="0.77" fill="#222"/><circle cx="40.1" cy="47.1" r="0.67" fill="#222"/><circle cx="44.9" cy="29.9" r="0.66" fill="#222"/><circle cx="15.5" cy="18.2" r="0.66" fill="#222"/><circle cx="11.9" cy="30.8" r="0.79" fill="#222"/><circle cx="34.6" cy="10.8" r="0.41" fill="#222"/><circle cx="17.6" cy="20.8" r="0.78" fill="#222"/><circle cx="26.3" cy="24.9" r="0.67" fill="#222"/><circle cx="26.5" cy="32.6" r="0.65" fill="#222"/><circle cx="26.5" cy="11.3" r="0.46" fill="#222"/><circle cx="21.1" cy="42.6" r="0.83" fill="#222"/><circle cx="14.1" cy="27.6" r="0.63" fill="#222"/><circle cx="21.8" cy="8.6" r="0.76" fill="#222"/><circle cx="4.1" cy="10.9" r="0.53" fill="#222"/><circle cx="9.7" cy="9.3" r="0.44" fill="#222"/><circle cx="25.1" cy="8.3" r="0.69" fill="#222"/><circle cx="28.8" cy="30.0" r="0.62" fill="#222"/><circle cx="29.4" cy="14.2" r="0.61" fill="#222"/><circle cx="33.1" cy="10.3" r="0.73" fill="#222"/><circle cx="28.1" cy="46.8" r="0.68" fill="#222"/><circle cx="26.3" cy="36.9" r="0.53" fill="#222"/><circle cx="17.9" cy="20.8" r="0.73" fill="#222"/><circle cx="34.5" cy="8.9" r="0.83" fill="#222"/><circle cx="47.1" cy="23.8" r="0.85" fill="#222"/><circle cx="29.8" cy="18.5" r="0.44" fill="#222"/><circle cx="0.8" cy="28.4" r="0.72" fill="#222"/><circle cx="29.6" cy="37.6" r="0.60" fill="#222"/><circle cx="35.6" cy="29.0" r="0.69" fill="#222"/><circle cx="26.3" cy="32.0" r="0.65" fill="#222"/><circle cx="4.3" cy="32.4" r="0.72" fill="#222"/><circle cx="20.5" cy="46.6" r="0.62" fill="#222"/><circle cx="8.0" cy="24.5" r="0.56" fill="#222"/><circle cx="7.9" cy="42.6" r="0.48" fill="#222"/><circle cx="34.2" cy="8.2" r="0.63" fill="#222"/><circle cx="47.8" cy="4.3" r="0.79" fill="#222"/><circle cx="0.3" cy="46.9" r="0.81" fill="#222"/><circle cx="21.5" cy="30.6" r="0.61" fill="#222"/><circle cx="7.9" cy="17.1" r="0.60" fill="#222"/><circle cx="41.7" cy="5.5" r="0.64" fill="#222"/><circle cx="22.6" cy="26.5" r="0.76" fill="#222"/><circle cx="28.8" cy="15.5" r="0.83" fill="#222"/><circle cx="28.7" cy="13.0" r="0.65" fill="#222"/><circle cx="41.6" cy="2.2" r="0.69" fill="#222"/><circle cx="23.4" cy="13.8" r="0.47" fill="#222"/><circle cx="11.1" cy="21.0" r="0.59" fill="#222"/><circle cx="28.9" cy="13.0" r="0.68" fill="#222"/><circle cx="22.7" cy="38.2" r="0.76" fill="#222"/><circle cx="11.4" cy="46.9" r="0.65" fill="#222"/><circle cx="16.1" cy="12.2" r="0.72" fill="#222"/><circle cx="21.0" cy="32.8" r="0.52" fill="#222"/><circle cx="41.3" cy="12.7" r="0.79" fill="#222"/><circle cx="21.0" cy="19.2" r="0.66" fill="#222"/><circle cx="25.1" cy="26.3" r="0.65" fill="#222"/><circle cx="45.6" cy="35.7" r="0.44" fill="#222"/><circle cx="47.4" cy="0.7" r="0.42" fill="#222"/><circle cx="39.3" cy="13.2" r="0.41" fill="#222"/><circle cx="8.4" cy="23.8" r="0.78" fill="#222"/><circle cx="1.0" cy="7.9" r="0.41" fill="#222"/><circle cx="2.6" cy="15.1" r="0.62" fill="#222"/><circle cx="46.5" cy="31.1" r="0.78" fill="#222"/><circle cx="28.4" cy="43.7" r="0.70" fill="#222"/><circle cx="11.5" cy="17.9" r="0.62" fill="#222"/><circle cx="5.3" cy="44.4" r="0.62" fill="#222"/><circle cx="9.6" cy="23.6" r="0.76" fill="#222"/><circle cx="13.1" cy="28.2" r="0.44" fill="#222"/><circle cx="11.6" cy="9.0" r="0.63" fill="#222"/><circle cx="33.0" cy="10.9" r="0.71" fill="#222"/><circle cx="28.1" cy="36.0" r="0.85" fill="#222"/><circle cx="16.0" cy="47.8" r="0.60" fill="#222"/><circle cx="24.5" cy="8.5" r="0.44" fill="#222"/><circle cx="31.0" cy="4.9" r="0.42" fill="#222"/><circle cx="4.0" cy="26.0" r="0.49" fill="#222"/><circle cx="12.6" cy="36.8" r="0.60" fill="#222"/><circle cx="7.1" cy="32.6" r="0.85" fill="#222"/><circle cx="29.9" cy="21.4" r="0.64" fill="#222"/><circle cx="33.7" cy="40.2" r="0.75" fill="#222"/><circle cx="11.9" cy="37.4" r="0.45" fill="#222"/><circle cx="6.2" cy="24.4" r="0.48" fill="#222"/><circle cx="26.9" cy="13.6" r="0.82" fill="#222"/><circle cx="20.8" cy="39.1" r="0.83" fill="#222"/><circle cx="21.7" cy="36.9" r="0.62" fill="#222"/><circle cx="19.2" cy="6.0" r="0.70" fill="#222"/><circle cx="44.2" cy="33.0" r="0.54" fill="#222"/><circle cx="25.2" cy="17.1" r="0.58" fill="#222"/><circle cx="37.1" cy="0.3" r="0.62" fill="#222"/><circle cx="24.6" cy="7.1" r="0.73" fill="#222"/><circle cx="12.2" cy="19.4" r="0.51" fill="#222"/><circle cx="28.7" cy="20.7" r="0.71" fill="#222"/><circle cx="20.4" cy="37.6" r="0.65" fill="#222"/><circle cx="5.0" cy="23.6" r="0.51" fill="#222"/><circle cx="14.3" cy="45.5" r="0.62" fill="#222"/><circle cx="35.5" cy="7.5" r="0.68" fill="#222"/><circle cx="5.7" cy="10.6" r="0.46" fill="#222"/><circle cx="1.2" cy="43.6" r="0.83" fill="#222"/><circle cx="17.7" cy="0.6" r="0.73" fill="#222"/><circle cx="31.8" cy="2.2" r="0.74" fill="#222"/><circle cx="3.2" cy="11.2" r="0.75" fill="#222"/><circle cx="36.8" cy="11.2" r="0.63" fill="#222"/><circle cx="38.4" cy="29.0" r="0.64" fill="#222"/><circle cx="8.9" cy="3.3" r="0.48" fill="#222"/><circle cx="25.2" cy="28.6" r="0.61" fill="#222"/><circle cx="30.5" cy="27.1" r="0.69" fill="#222"/><circle cx="19.7" cy="40.4" r="0.64" fill="#222"/><circle cx="42.3" cy="47.3" r="0.77" fill="#222"/><circle cx="37.1" cy="33.1" r="0.65" fill="#222"/><circle cx="11.9" cy="4.9" r="0.70" fill="#222"/><circle cx="11.9" cy="29.4" r="0.65" fill="#222"/><circle cx="29.1" cy="20.6" r="0.51" fill="#222"/><circle cx="14.6" cy="33.4" r="0.80" fill="#222"/><circle cx="15.3" cy="15.1" r="0.60" fill="#222"/><circle cx="20.6" cy="30.4" r="0.74" fill="#222"/><circle cx="36.8" cy="38.8" r="0.73" fill="#222"/><circle cx="46.6" cy="21.5" r="0.60" fill="#222"/><circle cx="31.3" cy="15.1" r="0.77" fill="#222"/><circle cx="20.1" cy="26.7" r="0.63" fill="#222"/><circle cx="17.5" cy="0.5" r="0.53" fill="#222"/><circle cx="22.9" cy="45.7" r="0.46" fill="#222"/><circle cx="43.3" cy="46.7" r="0.76" fill="#222"/><circle cx="13.4" cy="0.9" r="0.80" fill="#222"/><circle cx="3.3" cy="14.3" r="0.82" fill="#222"/><circle cx="32.3" cy="39.5" r="0.78" fill="#222"/><circle cx="8.6" cy="24.2" r="0.44" fill="#222"/><circle cx="18.2" cy="23.8" r="0.77" fill="#222"/><circle cx="13.9" cy="32.0" r="0.46" fill="#222"/><circle cx="12.3" cy="2.8" r="0.66" fill="#222"/><circle cx="28.1" cy="34.2" r="0.59" fill="#222"/><circle cx="45.0" cy="34.7" r="0.66" fill="#222"/><circle cx="41.9" cy="8.6" r="0.53" fill="#222"/><circle cx="26.5" cy="28.8" r="0.83" fill="#222"/><circle cx="32.6" cy="2.2" r="0.82" fill="#222"/><circle cx="22.4" cy="9.9" r="0.74" fill="#222"/><circle cx="30.2" cy="41.0" r="0.65" fill="#222"/><circle cx="12.3" cy="22.6" r="0.61" fill="#222"/><circle cx="16.9" cy="27.9" r="0.47" fill="#222"/><circle cx="12.1" cy="5.7" r="0.41" fill="#222"/><circle cx="25.2" cy="35.4" r="0.58" fill="#222"/><circle cx="43.3" cy="29.2" r="0.70" fill="#222"/><circle cx="13.7" cy="43.1" r="0.56" fill="#222"/><circle cx="40.6" cy="11.7" r="0.83" fill="#222"/><circle cx="32.8" cy="8.6" r="0.73" fill="#222"/><circle cx="7.5" cy="18.5" r="0.57" fill="#222"/><circle cx="16.1" cy="17.4" r="0.47" fill="#222"/><circle cx="19.2" cy="4.5" r="0.76" fill="#222"/><circle cx="17.0" cy="34.2" r="0.59" fill="#222"/><circle cx="46.8" cy="42.2" r="0.72" fill="#222"/><circle cx="40.4" cy="43.9" r="0.82" fill="#222"/><circle cx="19.8" cy="28.5" r="0.43" fill="#222"/><circle cx="17.5" cy="15.7" r="0.68" fill="#222"/><circle cx="0.4" cy="36.2" r="0.43" fill="#222"/><circle cx="20.3" cy="23.3" r="0.78" fill="#222"/><circle cx="30.4" cy="7.1" r="0.70" fill="#222"/><circle cx="11.3" cy="29.6" r="0.59" fill="#222"/><circle cx="45.9" cy="21.6" r="0.52" fill="#222"/><circle cx="14.9" cy="46.0" r="0.56" fill="#222"/><circle cx="11.7" cy="25.7" r="0.70" fill="#222"/><circle cx="45.1" cy="3.8" r="0.55" fill="#222"/><circle cx="34.7" cy="23.8" r="0.71" fill="#222"/><circle cx="32.4" cy="4.4" r="0.42" fill="#222"/><circle cx="8.5" cy="14.6" r="0.48" fill="#222"/><circle cx="13.8" cy="5.5" r="0.41" fill="#222"/><circle cx="25.2" cy="36.4" r="0.47" fill="#222"/><circle cx="4.5" cy="35.0" r="0.44" fill="#222"/><circle cx="6.7" cy="23.5" r="0.53" fill="#222"/><circle cx="37.7" cy="24.3" r="0.64" fill="#222"/><circle cx="18.0" cy="1.3" r="0.77" fill="#222"/><circle cx="18.7" cy="39.7" r="0.45" fill="#222"/><circle cx="20.7" cy="25.9" r="0.47" fill="#222"/><circle cx="3.6" cy="44.9" r="0.82" fill="#222"/><circle cx="48.0" cy="26.1" r="0.73" fill="#222"/><circle cx="28.9" cy="22.9" r="0.48" fill="#222"/><circle cx="30.8" cy="21.3" r="0.71" fill="#222"/><circle cx="2.0" cy="14.1" r="0.45" fill="#222"/><circle cx="36.6" cy="23.0" r="0.53" fill="#222"/><circle cx="37.5" cy="25.0" r="0.53" fill="#222"/><circle cx="18.8" cy="0.1" r="0.43" fill="#222"/><circle cx="1.8" cy="46.2" r="0.80" fill="#222"/><circle cx="26.1" cy="45.2" r="0.64" fill="#222"/><circle cx="32.7" cy="5.0" r="0.60" fill="#222"/><circle cx="29.3" cy="19.6" r="0.69" fill="#222"/><circle cx="16.5" cy="31.4" r="0.49" fill="#222"/><circle cx="23.5" cy="20.5" r="0.64" fill="#222"/><circle cx="2.6" cy="11.6" r="0.72" fill="#222"/><circle cx="8.0" cy="22.9" r="0.85" fill="#222"/><circle cx="29.3" cy="35.2" r="0.75" fill="#222"/><circle cx="46.5" cy="18.6" r="0.58" fill="#222"/><circle cx="36.2" cy="1.2" r="0.61" fill="#222"/><circle cx="13.0" cy="26.7" r="0.73" fill="#222"/><circle cx="41.3" cy="24.3" r="0.71" fill="#222"/><circle cx="3.8" cy="31.7" r="0.82" fill="#222"/><circle cx="29.5" cy="23.5" r="0.63" fill="#222"/><circle cx="19.8" cy="8.6" r="0.49" fill="#222"/><circle cx="38.1" cy="24.8" r="0.42" fill="#222"/><circle cx="29.5" cy="39.9" r="0.69" fill="#222"/><circle cx="8.7" cy="45.7" r="0.48" fill="#222"/><circle cx="24.4" cy="22.1" r="0.47" fill="#222"/><circle cx="12.8" cy="8.9" r="0.48" fill="#222"/><circle cx="2.0" cy="31.0" r="0.70" fill="#222"/><circle cx="12.1" cy="45.7" r="0.59" fill="#222"/><circle cx="21.9" cy="44.5" r="0.69" fill="#222"/><circle cx="22.4" cy="35.9" r="0.73" fill="#222"/><circle cx="14.8" cy="3.3" r="0.73" fill="#222"/><circle cx="35.9" cy="28.8" r="0.45" fill="#222"/><circle cx="35.7" cy="8.4" r="0.76" fill="#222"/><circle cx="29.8" cy="30.6" r="0.43" fill="#222"/><circle cx="17.5" cy="35.2" r="0.45" fill="#222"/><circle cx="1.9" cy="19.8" r="0.78" fill="#222"/><circle cx="30.2" cy="11.0" r="0.44" fill="#222"/><circle cx="40.2" cy="40.4" r="0.72" fill="#222"/><circle cx="9.9" cy="36.0" r="0.40" fill="#222"/><circle cx="8.3" cy="15.4" r="0.83" fill="#222"/><circle cx="1.7" cy="7.7" r="0.73" fill="#222"/><circle cx="36.6" cy="12.9" r="0.43" fill="#222"/><circle cx="41.0" cy="46.6" r="0.81" fill="#222"/><circle cx="27.2" cy="4.1" r="0.73" fill="#222"/><circle cx="31.2" cy="39.9" r="0.74" fill="#222"/><circle cx="24.1" cy="46.9" r="0.61" fill="#222"/><circle cx="21.4" cy="30.6" r="0.75" fill="#222"/><circle cx="28.2" cy="45.2" r="0.52" fill="#222"/><circle cx="43.0" cy="42.2" r="0.56" fill="#222"/><circle cx="1.4" cy="28.9" r="0.68" fill="#222"/><circle cx="46.1" cy="26.8" r="0.73" fill="#222"/><circle cx="36.5" cy="8.1" r="0.70" fill="#222"/><circle cx="21.0" cy="10.4" r="0.52" fill="#222"/><circle cx="17.4" cy="35.3" r="0.65" fill="#222"/><circle cx="15.4" cy="2.7" r="0.75" fill="#222"/><circle cx="36.2" cy="40.1" r="0.75" fill="#222"/><circle cx="3.0" cy="13.5" r="0.61" fill="#222"/><circle cx="14.3" cy="39.5" r="0.49" fill="#222"/><circle cx="0.7" cy="21.7" r="0.42" fill="#222"/><circle cx="1.4" cy="29.1" r="0.67" fill="#222"/><circle cx="26.0" cy="3.4" r="0.65" fill="#222"/><circle cx="25.1" cy="14.6" r="0.50" fill="#222"/><circle cx="7.5" cy="23.2" r="0.57" fill="#222"/></pattern><pattern id="st4" width="48" height="48" patternUnits="userSpaceOnUse"><rect width="48" height="48" fill="#8c8c8c"/><circle cx="28.1" cy="32.4" r="0.51" fill="#2e2e2e"/><circle cx="29.1" cy="12.4" r="0.70" fill="#2e2e2e"/><circle cx="9.8" cy="28.5" r="0.69" fill="#2e2e2e"/><circle cx="38.4" cy="25.5" r="0.76" fill="#2e2e2e"/><circle cx="47.3" cy="38.0" r="0.54" fill="#2e2e2e"/><circle cx="12.8" cy="30.1" r="0.45" fill="#2e2e2e"/><circle cx="8.5" cy="4.5" r="0.66" fill="#2e2e2e"/><circle cx="18.6" cy="44.2" r="0.72" fill="#2e2e2e"/><circle cx="25.5" cy="16.3" r="0.53" fill="#2e2e2e"/><circle cx="2.5" cy="5.3" r="0.75" fill="#2e2e2e"/><circle cx="14.3" cy="0.4" r="0.79" fill="#2e2e2e"/><circle cx="18.3" cy="37.2" r="0.58" fill="#2e2e2e"/><circle cx="46.5" cy="3.9" r="0.59" fill="#2e2e2e"/><circle cx="31.1" cy="1.2" r="0.77" fill="#2e2e2e"/><circle cx="16.2" cy="32.5" r="0.43" fill="#2e2e2e"/><circle cx="3.8" cy="4.2" r="0.72" fill="#2e2e2e"/><circle cx="45.2" cy="44.0" r="0.61" fill="#2e2e2e"/><circle cx="4.4" cy="37.3" r="0.60" fill="#2e2e2e"/><circle cx="37.6" cy="30.4" r="0.63" fill="#2e2e2e"/><circle cx="8.2" cy="6.9" r="0.43" fill="#2e2e2e"/><circle cx="20.7" cy="13.9" r="0.78" fill="#2e2e2e"/><circle cx="2.3" cy="36.4" r="0.45" fill="#2e2e2e"/><circle cx="5.0" cy="44.3" r="0.49" fill="#2e2e2e"/><circle cx="28.6" cy="28.1" r="0.56" fill="#2e2e2e"/><circle cx="16.8" cy="6.7" r="0.68" fill="#2e2e2e"/><circle cx="17.9" cy="28.8" r="0.73" fill="#2e2e2e"/><circle cx="3.6" cy="20.3" r="0.54" fill="#2e2e2e"/><circle cx="44.7" cy="29.8" r="0.48" fill="#2e2e2e"/><circle cx="22.0" cy="0.7" r="0.61" fill="#2e2e2e"/><circle cx="3.3" cy="6.6" r="0.60" fill="#2e2e2e"/><circle cx="25.8" cy="10.2" r="0.63" fill="#2e2e2e"/><circle cx="15.0" cy="33.7" r="0.42" fill="#2e2e2e"/><circle cx="40.4" cy="21.5" r="0.47" fill="#2e2e2e"/><circle cx="14.0" cy="30.1" r="0.44" fill="#2e2e2e"/><circle cx="43.8" cy="10.6" r="0.56" fill="#2e2e2e"/><circle cx="3.5" cy="21.9" r="0.78" fill="#2e2e2e"/><circle cx="9.0" cy="8.6" r="0.62" fill="#2e2e2e"/><circle cx="30.7" cy="6.9" r="0.49" fill="#2e2e2e"/><circle cx="29.0" cy="11.5" r="0.41" fill="#2e2e2e"/><circle cx="33.3" cy="41.7" r="0.72" fill="#2e2e2e"/><circle cx="41.0" cy="10.2" r="0.52" fill="#2e2e2e"/><circle cx="28.8" cy="29.6" r="0.65" fill="#2e2e2e"/><circle cx="26.5" cy="11.2" r="0.50" fill="#2e2e2e"/><circle cx="4.1" cy="2.8" r="0.63" fill="#2e2e2e"/><circle cx="4.1" cy="42.1" r="0.78" fill="#2e2e2e"/><circle cx="7.0" cy="46.4" r="0.65" fill="#2e2e2e"/><circle cx="0.3" cy="18.4" r="0.54" fill="#2e2e2e"/><circle cx="14.8" cy="3.2" r="0.50" fill="#2e2e2e"/><circle cx="0.8" cy="21.5" r="0.59" fill="#2e2e2e"/><circle cx="11.1" cy="44.4" r="0.75" fill="#2e2e2e"/><circle cx="24.0" cy="38.5" r="0.54" fill="#2e2e2e"/><circle cx="36.1" cy="37.3" r="0.54" fill="#2e2e2e"/><circle cx="35.5" cy="16.9" r="0.47" fill="#2e2e2e"/><circle cx="20.1" cy="5.5" r="0.69" fill="#2e2e2e"/><circle cx="12.1" cy="23.9" r="0.72" fill="#2e2e2e"/><circle cx="28.7" cy="43.6" r="0.69" fill="#2e2e2e"/><circle cx="33.2" cy="35.6" r="0.68" fill="#2e2e2e"/><circle cx="44.1" cy="28.5" r="0.66" fill="#2e2e2e"/><circle cx="26.4" cy="25.6" r="0.78" fill="#2e2e2e"/><circle cx="14.4" cy="9.1" r="0.60" fill="#2e2e2e"/><circle cx="15.0" cy="34.3" r="0.65" fill="#2e2e2e"/><circle cx="0.1" cy="10.0" r="0.65" fill="#2e2e2e"/><circle cx="19.0" cy="32.6" r="0.59" fill="#2e2e2e"/><circle cx="5.3" cy="33.1" r="0.79" fill="#2e2e2e"/><circle cx="4.4" cy="29.6" r="0.65" fill="#2e2e2e"/><circle cx="29.4" cy="24.3" r="0.60" fill="#2e2e2e"/><circle cx="47.5" cy="41.9" r="0.57" fill="#2e2e2e"/><circle cx="39.0" cy="32.0" r="0.72" fill="#2e2e2e"/><circle cx="47.9" cy="3.4" r="0.48" fill="#2e2e2e"/><circle cx="11.1" cy="39.3" r="0.77" fill="#2e2e2e"/><circle cx="10.9" cy="23.3" r="0.76" fill="#2e2e2e"/><circle cx="34.7" cy="28.2" r="0.76" fill="#2e2e2e"/><circle cx="44.3" cy="4.4" r="0.79" fill="#2e2e2e"/><circle cx="14.0" cy="29.5" r="0.70" fill="#2e2e2e"/><circle cx="14.1" cy="14.7" r="0.76" fill="#2e2e2e"/><circle cx="38.0" cy="46.9" r="0.44" fill="#2e2e2e"/><circle cx="30.1" cy="35.5" r="0.78" fill="#2e2e2e"/><circle cx="34.8" cy="13.4" r="0.44" fill="#2e2e2e"/><circle cx="8.3" cy="12.4" r="0.63" fill="#2e2e2e"/><circle cx="15.5" cy="7.1" r="0.43" fill="#2e2e2e"/><circle cx="32.9" cy="39.1" r="0.45" fill="#2e2e2e"/><circle cx="24.7" cy="47.1" r="0.54" fill="#2e2e2e"/><circle cx="25.7" cy="38.9" r="0.41" fill="#2e2e2e"/><circle cx="41.9" cy="37.2" r="0.69" fill="#2e2e2e"/><circle cx="16.5" cy="23.6" r="0.78" fill="#2e2e2e"/><circle cx="2.9" cy="3.9" r="0.66" fill="#2e2e2e"/><circle cx="45.7" cy="7.2" r="0.48" fill="#2e2e2e"/><circle cx="22.1" cy="37.9" r="0.63" fill="#2e2e2e"/><circle cx="31.7" cy="2.5" r="0.48" fill="#2e2e2e"/><circle cx="28.1" cy="34.8" r="0.44" fill="#2e2e2e"/><circle cx="4.3" cy="15.1" r="0.57" fill="#2e2e2e"/><circle cx="16.0" cy="8.2" r="0.43" fill="#2e2e2e"/><circle cx="31.0" cy="45.8" r="0.65" fill="#2e2e2e"/><circle cx="44.1" cy="6.1" r="0.65" fill="#2e2e2e"/><circle cx="17.5" cy="40.7" r="0.64" fill="#2e2e2e"/><circle cx="29.5" cy="43.9" r="0.78" fill="#2e2e2e"/><circle cx="6.6" cy="21.0" r="0.43" fill="#2e2e2e"/><circle cx="26.9" cy="10.8" r="0.68" fill="#2e2e2e"/><circle cx="17.1" cy="0.4" r="0.76" fill="#2e2e2e"/><circle cx="6.1" cy="12.9" r="0.61" fill="#2e2e2e"/><circle cx="2.7" cy="37.1" r="0.69" fill="#2e2e2e"/><circle cx="5.6" cy="29.8" r="0.45" fill="#2e2e2e"/><circle cx="25.5" cy="4.5" r="0.51" fill="#2e2e2e"/><circle cx="21.6" cy="26.1" r="0.66" fill="#2e2e2e"/><circle cx="44.5" cy="16.1" r="0.54" fill="#2e2e2e"/><circle cx="10.0" cy="35.4" r="0.55" fill="#2e2e2e"/><circle cx="10.2" cy="9.2" r="0.57" fill="#2e2e2e"/><circle cx="40.1" cy="21.0" r="0.73" fill="#2e2e2e"/><circle cx="22.6" cy="27.9" r="0.50" fill="#2e2e2e"/><circle cx="19.6" cy="34.8" r="0.43" fill="#2e2e2e"/><circle cx="21.8" cy="12.1" r="0.52" fill="#2e2e2e"/><circle cx="16.2" cy="9.5" r="0.63" fill="#2e2e2e"/><circle cx="1.9" cy="11.4" r="0.51" fill="#2e2e2e"/><circle cx="8.7" cy="40.1" r="0.67" fill="#2e2e2e"/><circle cx="42.6" cy="6.4" r="0.48" fill="#2e2e2e"/><circle cx="15.0" cy="24.4" r="0.73" fill="#2e2e2e"/><circle cx="40.1" cy="41.3" r="0.41" fill="#2e2e2e"/><circle cx="1.3" cy="16.2" r="0.57" fill="#2e2e2e"/><circle cx="0.3" cy="16.8" r="0.45" fill="#2e2e2e"/><circle cx="41.9" cy="10.1" r="0.53" fill="#2e2e2e"/><circle cx="8.4" cy="40.7" r="0.45" fill="#2e2e2e"/><circle cx="21.1" cy="10.6" r="0.50" fill="#2e2e2e"/><circle cx="47.7" cy="34.3" r="0.69" fill="#2e2e2e"/><circle cx="17.0" cy="46.9" r="0.79" fill="#2e2e2e"/><circle cx="30.5" cy="10.9" r="0.42" fill="#2e2e2e"/><circle cx="26.1" cy="23.3" r="0.75" fill="#2e2e2e"/><circle cx="47.9" cy="39.2" r="0.50" fill="#2e2e2e"/><circle cx="47.3" cy="29.4" r="0.42" fill="#2e2e2e"/><circle cx="10.0" cy="46.0" r="0.72" fill="#2e2e2e"/><circle cx="35.5" cy="31.8" r="0.41" fill="#2e2e2e"/><circle cx="45.0" cy="14.3" r="0.71" fill="#2e2e2e"/><circle cx="25.9" cy="23.4" r="0.61" fill="#2e2e2e"/><circle cx="44.1" cy="40.1" r="0.56" fill="#2e2e2e"/><circle cx="40.9" cy="8.4" r="0.54" fill="#2e2e2e"/><circle cx="15.4" cy="2.3" r="0.56" fill="#2e2e2e"/><circle cx="0.1" cy="46.5" r="0.73" fill="#2e2e2e"/><circle cx="23.0" cy="3.0" r="0.51" fill="#2e2e2e"/><circle cx="37.1" cy="14.1" r="0.44" fill="#2e2e2e"/><circle cx="20.5" cy="27.8" r="0.45" fill="#2e2e2e"/><circle cx="18.1" cy="26.7" r="0.70" fill="#2e2e2e"/><circle cx="19.5" cy="47.6" r="0.50" fill="#2e2e2e"/><circle cx="36.0" cy="3.8" r="0.77" fill="#2e2e2e"/><circle cx="26.2" cy="8.3" r="0.73" fill="#2e2e2e"/><circle cx="42.4" cy="6.2" r="0.75" fill="#2e2e2e"/><circle cx="46.0" cy="17.1" r="0.72" fill="#2e2e2e"/><circle cx="34.6" cy="27.2" r="0.55" fill="#2e2e2e"/><circle cx="15.0" cy="39.2" r="0.71" fill="#2e2e2e"/><circle cx="45.4" cy="3.3" r="0.63" fill="#2e2e2e"/><circle cx="33.9" cy="10.4" r="0.41" fill="#2e2e2e"/><circle cx="42.9" cy="37.5" r="0.69" fill="#2e2e2e"/><circle cx="16.0" cy="21.0" r="0.73" fill="#2e2e2e"/><circle cx="4.5" cy="34.7" r="0.68" fill="#2e2e2e"/><circle cx="22.2" cy="45.7" r="0.65" fill="#2e2e2e"/><circle cx="42.4" cy="9.3" r="0.56" fill="#2e2e2e"/><circle cx="14.0" cy="23.9" r="0.70" fill="#2e2e2e"/><circle cx="47.6" cy="43.7" r="0.74" fill="#2e2e2e"/><circle cx="46.8" cy="35.2" r="0.69" fill="#2e2e2e"/><circle cx="4.4" cy="19.6" r="0.60" fill="#2e2e2e"/><circle cx="5.1" cy="43.3" r="0.55" fill="#2e2e2e"/><circle cx="11.7" cy="3.9" r="0.61" fill="#2e2e2e"/><circle cx="16.2" cy="45.5" r="0.65" fill="#2e2e2e"/><circle cx="20.6" cy="7.6" r="0.42" fill="#2e2e2e"/><circle cx="33.0" cy="29.4" r="0.60" fill="#2e2e2e"/><circle cx="24.3" cy="19.7" r="0.76" fill="#2e2e2e"/><circle cx="2.7" cy="11.1" r="0.72" fill="#2e2e2e"/><circle cx="15.1" cy="15.9" r="0.57" fill="#2e2e2e"/><circle cx="14.2" cy="36.5" r="0.44" fill="#2e2e2e"/><circle cx="26.7" cy="34.3" r="0.54" fill="#2e2e2e"/><circle cx="35.0" cy="17.0" r="0.65" fill="#2e2e2e"/><circle cx="4.9" cy="15.2" r="0.62" fill="#2e2e2e"/><circle cx="29.3" cy="22.3" r="0.41" fill="#2e2e2e"/><circle cx="25.9" cy="41.5" r="0.51" fill="#2e2e2e"/><circle cx="10.0" cy="29.8" r="0.49" fill="#2e2e2e"/><circle cx="4.9" cy="3.6" r="0.65" fill="#2e2e2e"/><circle cx="42.3" cy="37.0" r="0.64" fill="#2e2e2e"/><circle cx="42.0" cy="40.7" r="0.51" fill="#2e2e2e"/><circle cx="18.3" cy="46.7" r="0.78" fill="#2e2e2e"/><circle cx="30.8" cy="30.2" r="0.54" fill="#2e2e2e"/><circle cx="4.4" cy="15.8" r="0.49" fill="#2e2e2e"/><circle cx="30.3" cy="31.5" r="0.65" fill="#2e2e2e"/><circle cx="43.7" cy="0.0" r="0.48" fill="#2e2e2e"/><circle cx="4.8" cy="17.8" r="0.77" fill="#2e2e2e"/><circle cx="22.5" cy="38.4" r="0.47" fill="#2e2e2e"/><circle cx="17.0" cy="38.3" r="0.52" fill="#2e2e2e"/><circle cx="35.1" cy="28.8" r="0.66" fill="#2e2e2e"/><circle cx="1.4" cy="17.3" r="0.79" fill="#2e2e2e"/><circle cx="18.0" cy="13.4" r="0.80" fill="#2e2e2e"/><circle cx="28.3" cy="33.4" r="0.59" fill="#2e2e2e"/><circle cx="29.9" cy="18.7" r="0.51" fill="#2e2e2e"/><circle cx="14.0" cy="10.9" r="0.68" fill="#2e2e2e"/><circle cx="4.2" cy="5.6" r="0.60" fill="#2e2e2e"/><circle cx="47.5" cy="37.5" r="0.67" fill="#2e2e2e"/><circle cx="35.6" cy="9.9" r="0.60" fill="#2e2e2e"/><circle cx="0.8" cy="25.0" r="0.41" fill="#2e2e2e"/><circle cx="5.5" cy="5.8" r="0.54" fill="#2e2e2e"/><circle cx="22.8" cy="10.5" r="0.43" fill="#2e2e2e"/><circle cx="5.8" cy="45.6" r="0.79" fill="#2e2e2e"/><circle cx="43.9" cy="6.6" r="0.48" fill="#2e2e2e"/><circle cx="42.2" cy="0.7" r="0.46" fill="#2e2e2e"/><circle cx="31.2" cy="46.3" r="0.77" fill="#2e2e2e"/><circle cx="40.5" cy="15.2" r="0.69" fill="#2e2e2e"/><circle cx="45.0" cy="43.2" r="0.79" fill="#2e2e2e"/><circle cx="36.6" cy="37.8" r="0.68" fill="#2e2e2e"/><circle cx="20.3" cy="27.5" r="0.77" fill="#2e2e2e"/><circle cx="27.4" cy="1.2" r="0.58" fill="#2e2e2e"/><circle cx="41.8" cy="34.0" r="0.59" fill="#2e2e2e"/><circle cx="44.8" cy="36.3" r="0.49" fill="#2e2e2e"/><circle cx="33.7" cy="41.8" r="0.40" fill="#2e2e2e"/><circle cx="45.0" cy="20.7" r="0.74" fill="#2e2e2e"/><circle cx="0.6" cy="15.4" r="0.52" fill="#2e2e2e"/><circle cx="10.4" cy="31.6" r="0.72" fill="#2e2e2e"/><circle cx="31.2" cy="43.7" r="0.45" fill="#2e2e2e"/><circle cx="13.8" cy="19.3" r="0.72" fill="#2e2e2e"/><circle cx="35.4" cy="47.6" r="0.75" fill="#2e2e2e"/><circle cx="25.5" cy="35.5" r="0.73" fill="#2e2e2e"/><circle cx="25.0" cy="32.6" r="0.74" fill="#2e2e2e"/><circle cx="39.9" cy="7.5" r="0.41" fill="#2e2e2e"/><circle cx="33.9" cy="39.2" r="0.48" fill="#2e2e2e"/><circle cx="40.8" cy="36.3" r="0.47" fill="#2e2e2e"/><circle cx="7.4" cy="31.6" r="0.65" fill="#2e2e2e"/><circle cx="7.7" cy="43.6" r="0.49" fill="#2e2e2e"/><circle cx="40.0" cy="45.4" r="0.45" fill="#2e2e2e"/><circle cx="33.6" cy="26.4" r="0.77" fill="#2e2e2e"/><circle cx="21.3" cy="19.8" r="0.49" fill="#2e2e2e"/><circle cx="40.6" cy="15.4" r="0.76" fill="#2e2e2e"/><circle cx="1.7" cy="42.7" r="0.41" fill="#2e2e2e"/><circle cx="34.7" cy="45.6" r="0.53" fill="#2e2e2e"/><circle cx="28.4" cy="19.9" r="0.43" fill="#2e2e2e"/><circle cx="40.3" cy="23.7" r="0.72" fill="#2e2e2e"/><circle cx="1.7" cy="7.8" r="0.49" fill="#2e2e2e"/><circle cx="39.2" cy="1.1" r="0.41" fill="#2e2e2e"/><circle cx="18.1" cy="18.6" r="0.74" fill="#2e2e2e"/><circle cx="41.2" cy="11.5" r="0.70" fill="#2e2e2e"/><circle cx="17.2" cy="36.8" r="0.66" fill="#2e2e2e"/><circle cx="3.4" cy="22.5" r="0.57" fill="#2e2e2e"/><circle cx="22.1" cy="26.7" r="0.68" fill="#2e2e2e"/><circle cx="19.3" cy="24.9" r="0.73" fill="#2e2e2e"/><circle cx="32.7" cy="9.3" r="0.46" fill="#2e2e2e"/><circle cx="13.0" cy="45.7" r="0.55" fill="#2e2e2e"/><circle cx="42.2" cy="46.3" r="0.68" fill="#2e2e2e"/><circle cx="17.7" cy="35.8" r="0.60" fill="#2e2e2e"/><circle cx="45.7" cy="24.1" r="0.65" fill="#2e2e2e"/><circle cx="32.9" cy="30.2" r="0.47" fill="#2e2e2e"/><circle cx="27.3" cy="20.6" r="0.67" fill="#2e2e2e"/><circle cx="37.2" cy="9.9" r="0.55" fill="#2e2e2e"/><circle cx="12.3" cy="46.2" r="0.60" fill="#2e2e2e"/><circle cx="21.6" cy="46.3" r="0.71" fill="#2e2e2e"/><circle cx="41.2" cy="24.1" r="0.45" fill="#2e2e2e"/><circle cx="17.9" cy="4.0" r="0.56" fill="#2e2e2e"/><circle cx="21.6" cy="23.0" r="0.79" fill="#2e2e2e"/><circle cx="25.6" cy="8.0" r="0.47" fill="#2e2e2e"/><circle cx="32.6" cy="24.8" r="0.56" fill="#2e2e2e"/><circle cx="23.7" cy="19.7" r="0.67" fill="#2e2e2e"/><circle cx="28.5" cy="2.3" r="0.60" fill="#2e2e2e"/><circle cx="12.0" cy="28.0" r="0.59" fill="#2e2e2e"/><circle cx="36.5" cy="46.3" r="0.70" fill="#2e2e2e"/><circle cx="29.7" cy="24.4" r="0.45" fill="#2e2e2e"/><circle cx="35.1" cy="9.4" r="0.55" fill="#2e2e2e"/><circle cx="28.0" cy="12.7" r="0.75" fill="#2e2e2e"/><circle cx="26.2" cy="46.7" r="0.41" fill="#2e2e2e"/><circle cx="22.3" cy="15.5" r="0.63" fill="#2e2e2e"/><circle cx="31.1" cy="28.4" r="0.78" fill="#2e2e2e"/><circle cx="21.2" cy="17.8" r="0.70" fill="#2e2e2e"/><circle cx="26.6" cy="12.9" r="0.77" fill="#2e2e2e"/><circle cx="10.8" cy="3.6" r="0.62" fill="#2e2e2e"/><circle cx="43.7" cy="41.0" r="0.73" fill="#2e2e2e"/><circle cx="29.3" cy="24.5" r="0.52" fill="#2e2e2e"/><circle cx="7.9" cy="21.3" r="0.73" fill="#2e2e2e"/><circle cx="26.6" cy="47.1" r="0.72" fill="#2e2e2e"/><circle cx="26.1" cy="28.4" r="0.57" fill="#2e2e2e"/><circle cx="43.5" cy="40.0" r="0.47" fill="#2e2e2e"/><circle cx="43.3" cy="32.5" r="0.54" fill="#2e2e2e"/><circle cx="35.7" cy="20.2" r="0.68" fill="#2e2e2e"/><circle cx="24.2" cy="30.3" r="0.77" fill="#2e2e2e"/><circle cx="42.7" cy="23.1" r="0.55" fill="#2e2e2e"/><circle cx="34.3" cy="32.0" r="0.44" fill="#2e2e2e"/><circle cx="24.5" cy="13.4" r="0.66" fill="#2e2e2e"/><circle cx="8.0" cy="14.3" r="0.50" fill="#2e2e2e"/><circle cx="13.5" cy="27.2" r="0.75" fill="#2e2e2e"/><circle cx="30.8" cy="31.0" r="0.70" fill="#2e2e2e"/><circle cx="18.8" cy="20.5" r="0.66" fill="#2e2e2e"/><circle cx="9.9" cy="36.2" r="0.77" fill="#2e2e2e"/><circle cx="42.3" cy="3.1" r="0.77" fill="#2e2e2e"/><circle cx="10.7" cy="6.2" r="0.65" fill="#2e2e2e"/><circle cx="16.6" cy="8.6" r="0.64" fill="#2e2e2e"/><circle cx="25.8" cy="25.8" r="0.60" fill="#2e2e2e"/><circle cx="29.6" cy="37.3" r="0.69" fill="#2e2e2e"/><circle cx="33.9" cy="39.7" r="0.59" fill="#2e2e2e"/><circle cx="30.7" cy="5.4" r="0.43" fill="#2e2e2e"/><circle cx="21.7" cy="32.7" r="0.49" fill="#2e2e2e"/><circle cx="46.1" cy="13.9" r="0.60" fill="#2e2e2e"/><circle cx="22.5" cy="46.6" r="0.46" fill="#2e2e2e"/><circle cx="12.1" cy="30.4" r="0.54" fill="#2e2e2e"/><circle cx="16.5" cy="6.3" r="0.77" fill="#2e2e2e"/><circle cx="21.2" cy="27.8" r="0.50" fill="#2e2e2e"/><circle cx="44.9" cy="5.1" r="0.68" fill="#2e2e2e"/><circle cx="3.2" cy="25.5" r="0.53" fill="#2e2e2e"/><circle cx="45.6" cy="21.1" r="0.74" fill="#2e2e2e"/><circle cx="1.4" cy="11.3" r="0.79" fill="#2e2e2e"/><circle cx="17.7" cy="1.8" r="0.50" fill="#2e2e2e"/><circle cx="17.4" cy="25.3" r="0.55" fill="#2e2e2e"/><circle cx="14.6" cy="22.8" r="0.59" fill="#2e2e2e"/><circle cx="8.8" cy="24.9" r="0.63" fill="#2e2e2e"/><circle cx="27.5" cy="35.5" r="0.58" fill="#2e2e2e"/><circle cx="10.2" cy="45.3" r="0.45" fill="#2e2e2e"/><circle cx="14.6" cy="20.0" r="0.57" fill="#2e2e2e"/><circle cx="10.1" cy="41.3" r="0.52" fill="#2e2e2e"/><circle cx="26.3" cy="29.2" r="0.45" fill="#2e2e2e"/><circle cx="20.7" cy="6.4" r="0.62" fill="#2e2e2e"/><circle cx="35.1" cy="41.0" r="0.78" fill="#2e2e2e"/><circle cx="5.4" cy="22.0" r="0.67" fill="#2e2e2e"/><circle cx="18.0" cy="45.3" r="0.60" fill="#2e2e2e"/><circle cx="41.7" cy="3.2" r="0.56" fill="#2e2e2e"/><circle cx="33.4" cy="40.2" r="0.60" fill="#2e2e2e"/><circle cx="41.2" cy="36.5" r="0.57" fill="#2e2e2e"/><circle cx="34.0" cy="24.8" r="0.45" fill="#2e2e2e"/><circle cx="43.2" cy="40.5" r="0.76" fill="#2e2e2e"/><circle cx="11.3" cy="37.3" r="0.42" fill="#2e2e2e"/><circle cx="24.0" cy="14.5" r="0.60" fill="#2e2e2e"/><circle cx="18.4" cy="26.4" r="0.57" fill="#2e2e2e"/><circle cx="36.4" cy="31.6" r="0.51" fill="#2e2e2e"/><circle cx="9.5" cy="11.4" r="0.53" fill="#2e2e2e"/><circle cx="20.4" cy="24.2" r="0.71" fill="#2e2e2e"/><circle cx="47.1" cy="12.5" r="0.52" fill="#2e2e2e"/><circle cx="24.9" cy="0.3" r="0.65" fill="#2e2e2e"/><circle cx="1.8" cy="28.5" r="0.63" fill="#2e2e2e"/><circle cx="18.4" cy="47.6" r="0.52" fill="#2e2e2e"/><circle cx="0.8" cy="5.1" r="0.50" fill="#2e2e2e"/><circle cx="35.4" cy="35.5" r="0.54" fill="#2e2e2e"/><circle cx="42.4" cy="7.8" r="0.49" fill="#2e2e2e"/><circle cx="27.4" cy="25.6" r="0.72" fill="#2e2e2e"/><circle cx="14.8" cy="43.3" r="0.65" fill="#2e2e2e"/><circle cx="33.1" cy="27.6" r="0.48" fill="#2e2e2e"/><circle cx="27.0" cy="45.3" r="0.41" fill="#2e2e2e"/><circle cx="15.9" cy="14.8" r="0.50" fill="#2e2e2e"/><circle cx="37.0" cy="31.1" r="0.45" fill="#2e2e2e"/><circle cx="33.8" cy="42.2" r="0.43" fill="#2e2e2e"/><circle cx="0.9" cy="28.9" r="0.75" fill="#2e2e2e"/><circle cx="26.4" cy="24.3" r="0.56" fill="#2e2e2e"/><circle cx="27.2" cy="43.8" r="0.64" fill="#2e2e2e"/><circle cx="35.8" cy="22.4" r="0.75" fill="#2e2e2e"/><circle cx="36.9" cy="24.4" r="0.52" fill="#2e2e2e"/><circle cx="14.4" cy="47.0" r="0.66" fill="#2e2e2e"/><circle cx="3.4" cy="25.0" r="0.57" fill="#2e2e2e"/><circle cx="28.7" cy="13.6" r="0.76" fill="#2e2e2e"/><circle cx="23.2" cy="39.8" r="0.50" fill="#2e2e2e"/><circle cx="42.6" cy="26.2" r="0.62" fill="#2e2e2e"/><circle cx="20.9" cy="45.2" r="0.63" fill="#2e2e2e"/><circle cx="25.7" cy="17.4" r="0.58" fill="#2e2e2e"/><circle cx="13.0" cy="21.4" r="0.51" fill="#2e2e2e"/><circle cx="3.7" cy="17.5" r="0.41" fill="#2e2e2e"/><circle cx="31.9" cy="4.6" r="0.76" fill="#2e2e2e"/><circle cx="15.2" cy="13.0" r="0.62" fill="#2e2e2e"/><circle cx="14.0" cy="34.7" r="0.52" fill="#2e2e2e"/><circle cx="44.2" cy="2.0" r="0.42" fill="#2e2e2e"/><circle cx="42.4" cy="33.0" r="0.51" fill="#2e2e2e"/><circle cx="30.9" cy="17.3" r="0.60" fill="#2e2e2e"/><circle cx="13.2" cy="25.9" r="0.66" fill="#2e2e2e"/><circle cx="40.6" cy="12.3" r="0.63" fill="#2e2e2e"/><circle cx="27.2" cy="42.0" r="0.59" fill="#2e2e2e"/><circle cx="41.5" cy="44.4" r="0.56" fill="#2e2e2e"/><circle cx="19.5" cy="46.5" r="0.63" fill="#2e2e2e"/><circle cx="25.5" cy="37.3" r="0.64" fill="#2e2e2e"/><circle cx="24.9" cy="31.6" r="0.50" fill="#2e2e2e"/><circle cx="18.1" cy="0.4" r="0.69" fill="#2e2e2e"/><circle cx="39.5" cy="35.3" r="0.79" fill="#2e2e2e"/><circle cx="36.3" cy="5.1" r="0.53" fill="#2e2e2e"/><circle cx="44.3" cy="5.2" r="0.75" fill="#2e2e2e"/><circle cx="38.2" cy="7.1" r="0.48" fill="#2e2e2e"/><circle cx="35.1" cy="31.3" r="0.41" fill="#2e2e2e"/><circle cx="25.4" cy="9.1" r="0.74" fill="#2e2e2e"/><circle cx="25.7" cy="0.6" r="0.56" fill="#2e2e2e"/><circle cx="0.5" cy="43.5" r="0.75" fill="#2e2e2e"/><circle cx="34.5" cy="0.1" r="0.78" fill="#2e2e2e"/><circle cx="12.7" cy="31.2" r="0.71" fill="#2e2e2e"/><circle cx="26.8" cy="5.6" r="0.50" fill="#2e2e2e"/><circle cx="35.1" cy="5.9" r="0.55" fill="#2e2e2e"/><circle cx="44.7" cy="19.6" r="0.46" fill="#2e2e2e"/><circle cx="31.2" cy="16.8" r="0.72" fill="#2e2e2e"/><circle cx="17.5" cy="39.8" r="0.73" fill="#2e2e2e"/><circle cx="8.6" cy="26.2" r="0.58" fill="#2e2e2e"/><circle cx="5.9" cy="43.8" r="0.54" fill="#2e2e2e"/><circle cx="29.4" cy="2.9" r="0.78" fill="#2e2e2e"/><circle cx="47.1" cy="32.8" r="0.45" fill="#2e2e2e"/><circle cx="31.8" cy="22.5" r="0.59" fill="#2e2e2e"/><circle cx="10.5" cy="7.3" r="0.74" fill="#2e2e2e"/><circle cx="29.0" cy="35.8" r="0.70" fill="#2e2e2e"/><circle cx="19.3" cy="26.4" r="0.52" fill="#2e2e2e"/><circle cx="31.4" cy="20.7" r="0.71" fill="#2e2e2e"/><circle cx="14.0" cy="18.3" r="0.43" fill="#2e2e2e"/><circle cx="1.9" cy="10.3" r="0.41" fill="#2e2e2e"/><circle cx="20.4" cy="18.2" r="0.75" fill="#2e2e2e"/><circle cx="2.0" cy="47.3" r="0.44" fill="#2e2e2e"/><circle cx="39.8" cy="17.2" r="0.50" fill="#2e2e2e"/><circle cx="29.3" cy="17.1" r="0.41" fill="#2e2e2e"/><circle cx="6.3" cy="32.6" r="0.69" fill="#2e2e2e"/><circle cx="47.7" cy="12.1" r="0.71" fill="#2e2e2e"/><circle cx="16.4" cy="24.8" r="0.51" fill="#2e2e2e"/><circle cx="19.8" cy="43.9" r="0.50" fill="#2e2e2e"/><circle cx="20.4" cy="43.6" r="0.58" fill="#2e2e2e"/><circle cx="39.0" cy="25.6" r="0.54" fill="#2e2e2e"/><circle cx="34.6" cy="31.3" r="0.55" fill="#2e2e2e"/><circle cx="47.9" cy="4.4" r="0.74" fill="#2e2e2e"/><circle cx="34.6" cy="34.1" r="0.59" fill="#2e2e2e"/><circle cx="35.9" cy="2.1" r="0.67" fill="#2e2e2e"/><circle cx="41.6" cy="19.6" r="0.70" fill="#2e2e2e"/><circle cx="33.4" cy="24.1" r="0.71" fill="#2e2e2e"/><circle cx="23.2" cy="5.8" r="0.61" fill="#2e2e2e"/><circle cx="36.2" cy="7.9" r="0.58" fill="#2e2e2e"/><circle cx="40.1" cy="0.6" r="0.75" fill="#2e2e2e"/><circle cx="16.9" cy="17.4" r="0.68" fill="#2e2e2e"/><circle cx="27.5" cy="13.8" r="0.46" fill="#2e2e2e"/><circle cx="20.2" cy="42.7" r="0.80" fill="#2e2e2e"/><circle cx="34.5" cy="33.4" r="0.67" fill="#2e2e2e"/><circle cx="43.9" cy="7.7" r="0.46" fill="#2e2e2e"/><circle cx="40.5" cy="0.9" r="0.61" fill="#2e2e2e"/><circle cx="19.3" cy="44.1" r="0.65" fill="#2e2e2e"/><circle cx="10.8" cy="3.1" r="0.59" fill="#2e2e2e"/><circle cx="26.5" cy="22.4" r="0.63" fill="#2e2e2e"/><circle cx="3.0" cy="17.3" r="0.73" fill="#2e2e2e"/><circle cx="13.9" cy="9.0" r="0.47" fill="#2e2e2e"/><circle cx="45.0" cy="41.7" r="0.56" fill="#2e2e2e"/><circle cx="15.8" cy="17.7" r="0.75" fill="#2e2e2e"/><circle cx="43.6" cy="45.7" r="0.74" fill="#2e2e2e"/><circle cx="32.6" cy="5.6" r="0.78" fill="#2e2e2e"/><circle cx="8.0" cy="35.5" r="0.54" fill="#2e2e2e"/><circle cx="1.8" cy="31.6" r="0.50" fill="#2e2e2e"/><circle cx="42.6" cy="8.7" r="0.67" fill="#2e2e2e"/><circle cx="21.0" cy="2.3" r="0.51" fill="#2e2e2e"/><circle cx="14.8" cy="37.2" r="0.71" fill="#2e2e2e"/><circle cx="44.9" cy="8.0" r="0.48" fill="#2e2e2e"/><circle cx="17.9" cy="15.4" r="0.48" fill="#2e2e2e"/><circle cx="36.1" cy="0.3" r="0.61" fill="#2e2e2e"/><circle cx="6.4" cy="15.0" r="0.52" fill="#2e2e2e"/><circle cx="22.2" cy="45.1" r="0.69" fill="#2e2e2e"/><circle cx="20.6" cy="47.5" r="0.50" fill="#2e2e2e"/><circle cx="9.0" cy="30.5" r="0.71" fill="#2e2e2e"/><circle cx="34.8" cy="24.3" r="0.69" fill="#2e2e2e"/><circle cx="16.0" cy="45.5" r="0.70" fill="#2e2e2e"/><circle cx="38.4" cy="25.9" r="0.77" fill="#2e2e2e"/><circle cx="22.5" cy="45.7" r="0.58" fill="#2e2e2e"/><circle cx="45.6" cy="15.2" r="0.61" fill="#2e2e2e"/><circle cx="26.9" cy="26.4" r="0.74" fill="#2e2e2e"/><circle cx="40.7" cy="8.7" r="0.68" fill="#2e2e2e"/><circle cx="25.2" cy="19.4" r="0.45" fill="#2e2e2e"/><circle cx="43.7" cy="47.5" r="0.69" fill="#2e2e2e"/><circle cx="27.4" cy="4.0" r="0.53" fill="#2e2e2e"/><circle cx="15.8" cy="4.2" r="0.55" fill="#2e2e2e"/><circle cx="17.6" cy="19.8" r="0.43" fill="#2e2e2e"/><circle cx="6.3" cy="45.7" r="0.62" fill="#2e2e2e"/><circle cx="11.2" cy="21.6" r="0.55" fill="#2e2e2e"/><circle cx="23.3" cy="8.5" r="0.70" fill="#2e2e2e"/><circle cx="44.8" cy="30.2" r="0.78" fill="#2e2e2e"/><circle cx="39.1" cy="25.8" r="0.61" fill="#2e2e2e"/><circle cx="33.2" cy="17.6" r="0.43" fill="#2e2e2e"/><circle cx="21.7" cy="39.2" r="0.67" fill="#2e2e2e"/><circle cx="1.9" cy="39.7" r="0.42" fill="#2e2e2e"/><circle cx="24.9" cy="8.5" r="0.52" fill="#2e2e2e"/><circle cx="11.1" cy="29.5" r="0.68" fill="#2e2e2e"/><circle cx="42.4" cy="24.3" r="0.42" fill="#2e2e2e"/><circle cx="1.8" cy="4.1" r="0.45" fill="#2e2e2e"/><circle cx="8.4" cy="14.2" r="0.46" fill="#2e2e2e"/><circle cx="40.8" cy="17.3" r="0.59" fill="#2e2e2e"/><circle cx="37.7" cy="8.7" r="0.60" fill="#2e2e2e"/><circle cx="2.0" cy="23.3" r="0.77" fill="#2e2e2e"/><circle cx="27.2" cy="14.5" r="0.65" fill="#2e2e2e"/><circle cx="24.1" cy="23.9" r="0.65" fill="#2e2e2e"/><circle cx="34.1" cy="42.7" r="0.79" fill="#2e2e2e"/><circle cx="46.1" cy="38.9" r="0.67" fill="#2e2e2e"/><circle cx="38.4" cy="9.3" r="0.48" fill="#2e2e2e"/><circle cx="40.5" cy="20.9" r="0.41" fill="#2e2e2e"/><circle cx="35.8" cy="6.4" r="0.51" fill="#2e2e2e"/><circle cx="44.2" cy="9.1" r="0.73" fill="#2e2e2e"/><circle cx="12.8" cy="38.1" r="0.55" fill="#2e2e2e"/><circle cx="27.0" cy="32.8" r="0.69" fill="#2e2e2e"/><circle cx="10.0" cy="32.2" r="0.47" fill="#2e2e2e"/><circle cx="11.7" cy="37.4" r="0.46" fill="#2e2e2e"/><circle cx="19.9" cy="5.5" r="0.63" fill="#2e2e2e"/><circle cx="8.4" cy="17.3" r="0.79" fill="#2e2e2e"/><circle cx="21.4" cy="24.0" r="0.41" fill="#2e2e2e"/><circle cx="12.6" cy="5.1" r="0.65" fill="#2e2e2e"/><circle cx="7.4" cy="8.5" r="0.46" fill="#2e2e2e"/><circle cx="35.5" cy="31.3" r="0.52" fill="#2e2e2e"/><circle cx="15.1" cy="13.3" r="0.62" fill="#2e2e2e"/><circle cx="27.3" cy="6.4" r="0.46" fill="#2e2e2e"/><circle cx="30.1" cy="13.4" r="0.67" fill="#2e2e2e"/><circle cx="8.4" cy="4.7" r="0.43" fill="#2e2e2e"/><circle cx="41.1" cy="25.8" r="0.41" fill="#2e2e2e"/><circle cx="17.1" cy="30.3" r="0.49" fill="#2e2e2e"/><circle cx="39.9" cy="0.2" r="0.61" fill="#2e2e2e"/><circle cx="27.6" cy="9.1" r="0.79" fill="#2e2e2e"/><circle cx="26.2" cy="6.3" r="0.70" fill="#2e2e2e"/><circle cx="1.4" cy="32.7" r="0.73" fill="#2e2e2e"/><circle cx="30.7" cy="1.1" r="0.43" fill="#2e2e2e"/><circle cx="39.8" cy="40.6" r="0.51" fill="#2e2e2e"/><circle cx="44.6" cy="39.0" r="0.44" fill="#2e2e2e"/><circle cx="42.5" cy="0.7" r="0.53" fill="#2e2e2e"/><circle cx="10.0" cy="10.1" r="0.60" fill="#2e2e2e"/><circle cx="2.2" cy="46.4" r="0.48" fill="#2e2e2e"/><circle cx="32.7" cy="16.9" r="0.77" fill="#2e2e2e"/><circle cx="26.9" cy="23.8" r="0.70" fill="#2e2e2e"/><circle cx="27.0" cy="21.6" r="0.47" fill="#2e2e2e"/><circle cx="38.4" cy="30.2" r="0.59" fill="#2e2e2e"/><circle cx="47.4" cy="22.3" r="0.70" fill="#2e2e2e"/><circle cx="7.9" cy="17.3" r="0.65" fill="#2e2e2e"/><circle cx="12.4" cy="47.8" r="0.80" fill="#2e2e2e"/><circle cx="31.0" cy="34.5" r="0.51" fill="#2e2e2e"/><circle cx="37.1" cy="41.3" r="0.58" fill="#2e2e2e"/><circle cx="27.1" cy="31.4" r="0.50" fill="#2e2e2e"/><circle cx="2.2" cy="8.7" r="0.61" fill="#2e2e2e"/><circle cx="30.6" cy="41.1" r="0.51" fill="#2e2e2e"/><circle cx="8.1" cy="20.1" r="0.47" fill="#2e2e2e"/><circle cx="12.4" cy="23.5" r="0.67" fill="#2e2e2e"/><circle cx="5.1" cy="8.3" r="0.59" fill="#2e2e2e"/><circle cx="25.0" cy="8.4" r="0.66" fill="#2e2e2e"/><circle cx="27.1" cy="46.2" r="0.78" fill="#2e2e2e"/><circle cx="30.1" cy="4.2" r="0.61" fill="#2e2e2e"/><circle cx="13.0" cy="13.4" r="0.43" fill="#2e2e2e"/><circle cx="33.2" cy="31.5" r="0.51" fill="#2e2e2e"/><circle cx="11.1" cy="47.6" r="0.62" fill="#2e2e2e"/><circle cx="33.5" cy="11.8" r="0.78" fill="#2e2e2e"/><circle cx="34.5" cy="24.4" r="0.44" fill="#2e2e2e"/><circle cx="21.0" cy="1.2" r="0.48" fill="#2e2e2e"/><circle cx="37.5" cy="5.3" r="0.48" fill="#2e2e2e"/><circle cx="16.4" cy="46.4" r="0.47" fill="#2e2e2e"/><circle cx="20.0" cy="25.6" r="0.42" fill="#2e2e2e"/><circle cx="27.0" cy="3.4" r="0.53" fill="#2e2e2e"/><circle cx="15.5" cy="47.9" r="0.58" fill="#2e2e2e"/><circle cx="14.4" cy="15.8" r="0.52" fill="#2e2e2e"/><circle cx="7.8" cy="15.2" r="0.68" fill="#2e2e2e"/><circle cx="16.9" cy="11.0" r="0.42" fill="#2e2e2e"/><circle cx="37.8" cy="14.3" r="0.51" fill="#2e2e2e"/><circle cx="40.7" cy="46.5" r="0.62" fill="#2e2e2e"/><circle cx="3.3" cy="40.1" r="0.71" fill="#2e2e2e"/><circle cx="0.8" cy="13.8" r="0.73" fill="#2e2e2e"/><circle cx="22.8" cy="8.5" r="0.79" fill="#2e2e2e"/><circle cx="10.2" cy="8.7" r="0.68" fill="#2e2e2e"/><circle cx="47.4" cy="33.9" r="0.41" fill="#2e2e2e"/><circle cx="1.0" cy="10.3" r="0.67" fill="#2e2e2e"/><circle cx="46.0" cy="5.5" r="0.67" fill="#2e2e2e"/><circle cx="32.4" cy="1.4" r="0.76" fill="#2e2e2e"/><circle cx="15.0" cy="18.0" r="0.72" fill="#2e2e2e"/><circle cx="26.1" cy="30.1" r="0.42" fill="#2e2e2e"/><circle cx="29.9" cy="7.2" r="0.73" fill="#2e2e2e"/><circle cx="37.2" cy="31.1" r="0.66" fill="#2e2e2e"/><circle cx="46.9" cy="39.8" r="0.69" fill="#2e2e2e"/><circle cx="17.3" cy="0.6" r="0.80" fill="#2e2e2e"/><circle cx="3.1" cy="2.1" r="0.64" fill="#2e2e2e"/><circle cx="47.6" cy="21.4" r="0.48" fill="#2e2e2e"/><circle cx="0.9" cy="7.7" r="0.54" fill="#2e2e2e"/><circle cx="16.7" cy="12.9" r="0.75" fill="#2e2e2e"/><circle cx="48.0" cy="47.0" r="0.48" fill="#2e2e2e"/><circle cx="33.5" cy="7.9" r="0.58" fill="#2e2e2e"/><circle cx="24.0" cy="15.1" r="0.71" fill="#2e2e2e"/><circle cx="10.5" cy="38.5" r="0.71" fill="#2e2e2e"/><circle cx="30.2" cy="3.7" r="0.45" fill="#2e2e2e"/><circle cx="38.7" cy="46.0" r="0.50" fill="#2e2e2e"/><circle cx="32.0" cy="36.4" r="0.75" fill="#2e2e2e"/><circle cx="6.5" cy="9.8" r="0.43" fill="#2e2e2e"/><circle cx="33.3" cy="17.2" r="0.68" fill="#2e2e2e"/><circle cx="7.9" cy="30.6" r="0.51" fill="#2e2e2e"/><circle cx="21.0" cy="28.3" r="0.78" fill="#2e2e2e"/><circle cx="9.2" cy="37.6" r="0.42" fill="#2e2e2e"/><circle cx="8.5" cy="33.4" r="0.43" fill="#2e2e2e"/><circle cx="40.4" cy="42.7" r="0.49" fill="#2e2e2e"/><circle cx="33.9" cy="31.2" r="0.79" fill="#2e2e2e"/><circle cx="23.8" cy="17.7" r="0.75" fill="#2e2e2e"/><circle cx="12.8" cy="43.8" r="0.54" fill="#2e2e2e"/><circle cx="19.5" cy="40.1" r="0.70" fill="#2e2e2e"/><circle cx="8.8" cy="31.6" r="0.80" fill="#2e2e2e"/><circle cx="19.2" cy="26.8" r="0.66" fill="#2e2e2e"/><circle cx="34.6" cy="18.7" r="0.55" fill="#2e2e2e"/><circle cx="8.5" cy="30.0" r="0.53" fill="#2e2e2e"/><circle cx="37.8" cy="2.1" r="0.70" fill="#2e2e2e"/><circle cx="7.7" cy="41.7" r="0.73" fill="#2e2e2e"/><circle cx="17.1" cy="4.8" r="0.48" fill="#2e2e2e"/><circle cx="10.0" cy="47.0" r="0.72" fill="#2e2e2e"/><circle cx="1.1" cy="0.4" r="0.62" fill="#2e2e2e"/><circle cx="21.8" cy="26.5" r="0.74" fill="#2e2e2e"/><circle cx="40.2" cy="6.5" r="0.79" fill="#2e2e2e"/><circle cx="22.0" cy="22.6" r="0.46" fill="#2e2e2e"/><circle cx="11.5" cy="8.9" r="0.51" fill="#2e2e2e"/><circle cx="26.1" cy="12.4" r="0.51" fill="#2e2e2e"/><circle cx="5.3" cy="3.3" r="0.76" fill="#2e2e2e"/><circle cx="21.0" cy="21.7" r="0.45" fill="#2e2e2e"/><circle cx="47.2" cy="0.6" r="0.71" fill="#2e2e2e"/><circle cx="2.1" cy="13.8" r="0.59" fill="#2e2e2e"/><circle cx="21.9" cy="33.8" r="0.63" fill="#2e2e2e"/><circle cx="33.7" cy="3.2" r="0.52" fill="#2e2e2e"/><circle cx="13.2" cy="23.1" r="0.57" fill="#2e2e2e"/><circle cx="5.2" cy="6.2" r="0.42" fill="#2e2e2e"/><circle cx="2.6" cy="31.1" r="0.79" fill="#2e2e2e"/><circle cx="28.5" cy="9.5" r="0.64" fill="#2e2e2e"/><circle cx="23.8" cy="13.6" r="0.72" fill="#2e2e2e"/><circle cx="12.6" cy="14.7" r="0.42" fill="#2e2e2e"/><circle cx="11.6" cy="44.3" r="0.59" fill="#2e2e2e"/><circle cx="35.0" cy="23.5" r="0.51" fill="#2e2e2e"/><circle cx="17.0" cy="24.4" r="0.52" fill="#2e2e2e"/><circle cx="24.7" cy="1.2" r="0.55" fill="#2e2e2e"/><circle cx="5.5" cy="23.0" r="0.61" fill="#2e2e2e"/><circle cx="43.7" cy="41.9" r="0.76" fill="#2e2e2e"/><circle cx="21.4" cy="14.2" r="0.74" fill="#2e2e2e"/><circle cx="5.7" cy="18.2" r="0.42" fill="#2e2e2e"/><circle cx="39.0" cy="35.8" r="0.77" fill="#2e2e2e"/><circle cx="8.9" cy="40.2" r="0.68" fill="#2e2e2e"/><circle cx="26.1" cy="21.3" r="0.72" fill="#2e2e2e"/><circle cx="22.7" cy="45.4" r="0.77" fill="#2e2e2e"/><circle cx="17.6" cy="25.9" r="0.57" fill="#2e2e2e"/><circle cx="43.3" cy="41.0" r="0.56" fill="#2e2e2e"/><circle cx="17.6" cy="15.2" r="0.67" fill="#2e2e2e"/><circle cx="31.9" cy="29.8" r="0.61" fill="#2e2e2e"/><circle cx="32.2" cy="0.3" r="0.59" fill="#2e2e2e"/><circle cx="33.3" cy="35.0" r="0.73" fill="#2e2e2e"/><circle cx="10.8" cy="44.5" r="0.79" fill="#2e2e2e"/><circle cx="29.8" cy="39.4" r="0.48" fill="#2e2e2e"/><circle cx="9.0" cy="10.4" r="0.61" fill="#2e2e2e"/><circle cx="42.9" cy="16.8" r="0.77" fill="#2e2e2e"/><circle cx="39.9" cy="2.1" r="0.41" fill="#2e2e2e"/><circle cx="47.9" cy="24.0" r="0.71" fill="#2e2e2e"/><circle cx="41.4" cy="14.6" r="0.41" fill="#2e2e2e"/><circle cx="41.6" cy="44.7" r="0.56" fill="#2e2e2e"/><circle cx="31.7" cy="0.6" r="0.78" fill="#2e2e2e"/><circle cx="29.3" cy="46.9" r="0.68" fill="#2e2e2e"/><circle cx="17.3" cy="8.6" r="0.61" fill="#2e2e2e"/><circle cx="41.5" cy="25.6" r="0.62" fill="#2e2e2e"/><circle cx="10.6" cy="7.1" r="0.50" fill="#2e2e2e"/><circle cx="14.6" cy="22.7" r="0.78" fill="#2e2e2e"/><circle cx="13.0" cy="11.0" r="0.70" fill="#2e2e2e"/><circle cx="45.0" cy="11.3" r="0.52" fill="#2e2e2e"/><circle cx="19.9" cy="2.9" r="0.44" fill="#2e2e2e"/><circle cx="26.5" cy="11.8" r="0.49" fill="#2e2e2e"/><circle cx="38.7" cy="23.1" r="0.63" fill="#2e2e2e"/><circle cx="31.5" cy="35.6" r="0.77" fill="#2e2e2e"/><circle cx="46.6" cy="5.4" r="0.70" fill="#2e2e2e"/><circle cx="1.2" cy="5.7" r="0.50" fill="#2e2e2e"/><circle cx="6.2" cy="7.3" r="0.49" fill="#2e2e2e"/><circle cx="39.0" cy="37.8" r="0.60" fill="#2e2e2e"/><circle cx="26.4" cy="35.9" r="0.64" fill="#2e2e2e"/><circle cx="3.7" cy="22.1" r="0.48" fill="#2e2e2e"/><circle cx="22.6" cy="46.9" r="0.48" fill="#2e2e2e"/><circle cx="15.5" cy="27.9" r="0.66" fill="#2e2e2e"/><circle cx="14.7" cy="19.0" r="0.60" fill="#2e2e2e"/><circle cx="44.6" cy="2.4" r="0.76" fill="#2e2e2e"/><circle cx="26.7" cy="44.0" r="0.56" fill="#2e2e2e"/><circle cx="31.2" cy="1.1" r="0.49" fill="#2e2e2e"/><circle cx="31.1" cy="15.8" r="0.61" fill="#2e2e2e"/><circle cx="47.2" cy="26.9" r="0.67" fill="#2e2e2e"/><circle cx="27.1" cy="12.1" r="0.79" fill="#2e2e2e"/><circle cx="18.3" cy="1.1" r="0.57" fill="#2e2e2e"/><circle cx="19.9" cy="9.9" r="0.57" fill="#2e2e2e"/><circle cx="3.5" cy="45.2" r="0.61" fill="#2e2e2e"/><circle cx="13.8" cy="26.3" r="0.64" fill="#2e2e2e"/><circle cx="18.7" cy="38.8" r="0.58" fill="#2e2e2e"/><circle cx="44.3" cy="36.8" r="0.68" fill="#2e2e2e"/><circle cx="7.8" cy="33.8" r="0.79" fill="#2e2e2e"/><circle cx="39.0" cy="2.1" r="0.51" fill="#2e2e2e"/><circle cx="0.1" cy="31.9" r="0.75" fill="#2e2e2e"/><circle cx="32.9" cy="31.9" r="0.62" fill="#2e2e2e"/><circle cx="35.0" cy="26.2" r="0.72" fill="#2e2e2e"/><circle cx="7.5" cy="22.6" r="0.65" fill="#2e2e2e"/><circle cx="3.3" cy="27.0" r="0.77" fill="#2e2e2e"/><circle cx="4.2" cy="35.2" r="0.69" fill="#2e2e2e"/><circle cx="42.7" cy="46.4" r="0.65" fill="#2e2e2e"/><circle cx="28.7" cy="22.8" r="0.58" fill="#2e2e2e"/><circle cx="28.9" cy="16.2" r="0.72" fill="#2e2e2e"/><circle cx="26.2" cy="20.9" r="0.61" fill="#2e2e2e"/><circle cx="34.0" cy="40.1" r="0.73" fill="#2e2e2e"/><circle cx="34.0" cy="11.7" r="0.40" fill="#2e2e2e"/><circle cx="5.8" cy="4.0" r="0.60" fill="#2e2e2e"/><circle cx="3.7" cy="22.7" r="0.70" fill="#2e2e2e"/><circle cx="21.1" cy="41.9" r="0.54" fill="#2e2e2e"/><circle cx="23.3" cy="12.7" r="0.45" fill="#2e2e2e"/><circle cx="27.7" cy="5.9" r="0.46" fill="#2e2e2e"/><circle cx="13.9" cy="34.9" r="0.79" fill="#2e2e2e"/><circle cx="10.4" cy="11.6" r="0.79" fill="#2e2e2e"/><circle cx="27.9" cy="38.2" r="0.80" fill="#2e2e2e"/><circle cx="31.7" cy="11.9" r="0.79" fill="#2e2e2e"/><circle cx="42.8" cy="0.1" r="0.79" fill="#2e2e2e"/><circle cx="31.1" cy="11.1" r="0.59" fill="#2e2e2e"/><circle cx="14.5" cy="37.2" r="0.56" fill="#2e2e2e"/><circle cx="4.1" cy="42.7" r="0.53" fill="#2e2e2e"/><circle cx="8.4" cy="33.6" r="0.45" fill="#2e2e2e"/><circle cx="29.0" cy="21.3" r="0.45" fill="#2e2e2e"/><circle cx="45.8" cy="33.3" r="0.42" fill="#2e2e2e"/><circle cx="43.2" cy="31.0" r="0.73" fill="#2e2e2e"/><circle cx="37.1" cy="8.2" r="0.53" fill="#2e2e2e"/><circle cx="8.3" cy="38.9" r="0.78" fill="#2e2e2e"/><circle cx="27.5" cy="32.0" r="0.79" fill="#2e2e2e"/><circle cx="25.0" cy="21.2" r="0.51" fill="#2e2e2e"/><circle cx="47.3" cy="5.9" r="0.48" fill="#2e2e2e"/><circle cx="40.9" cy="1.3" r="0.48" fill="#2e2e2e"/><circle cx="25.4" cy="11.4" r="0.55" fill="#2e2e2e"/><circle cx="1.2" cy="32.1" r="0.43" fill="#2e2e2e"/><circle cx="13.9" cy="4.9" r="0.68" fill="#2e2e2e"/><circle cx="10.4" cy="26.6" r="0.41" fill="#2e2e2e"/><circle cx="27.2" cy="16.4" r="0.76" fill="#2e2e2e"/><circle cx="9.3" cy="14.2" r="0.75" fill="#2e2e2e"/><circle cx="2.9" cy="23.5" r="0.59" fill="#2e2e2e"/><circle cx="14.0" cy="8.1" r="0.60" fill="#2e2e2e"/><circle cx="1.4" cy="0.5" r="0.51" fill="#2e2e2e"/><circle cx="18.1" cy="12.4" r="0.68" fill="#2e2e2e"/><circle cx="19.9" cy="29.2" r="0.64" fill="#2e2e2e"/><circle cx="34.1" cy="44.7" r="0.62" fill="#2e2e2e"/><circle cx="33.3" cy="26.7" r="0.43" fill="#2e2e2e"/><circle cx="40.0" cy="25.4" r="0.42" fill="#2e2e2e"/><circle cx="35.7" cy="24.1" r="0.78" fill="#2e2e2e"/><circle cx="20.0" cy="22.6" r="0.76" fill="#2e2e2e"/><circle cx="44.6" cy="37.0" r="0.58" fill="#2e2e2e"/><circle cx="20.7" cy="35.3" r="0.76" fill="#2e2e2e"/><circle cx="22.0" cy="33.7" r="0.62" fill="#2e2e2e"/><circle cx="26.5" cy="10.3" r="0.51" fill="#2e2e2e"/><circle cx="12.2" cy="47.2" r="0.41" fill="#2e2e2e"/><circle cx="10.5" cy="9.8" r="0.73" fill="#2e2e2e"/><circle cx="32.2" cy="14.8" r="0.44" fill="#2e2e2e"/><circle cx="32.3" cy="35.8" r="0.66" fill="#2e2e2e"/><circle cx="34.3" cy="28.7" r="0.41" fill="#2e2e2e"/><circle cx="38.2" cy="41.8" r="0.47" fill="#2e2e2e"/><circle cx="18.4" cy="47.2" r="0.79" fill="#2e2e2e"/><circle cx="39.2" cy="40.5" r="0.46" fill="#2e2e2e"/><circle cx="42.0" cy="39.5" r="0.48" fill="#2e2e2e"/><circle cx="43.8" cy="39.0" r="0.77" fill="#2e2e2e"/><circle cx="43.1" cy="4.5" r="0.47" fill="#2e2e2e"/><circle cx="38.7" cy="8.3" r="0.54" fill="#2e2e2e"/><circle cx="37.9" cy="39.9" r="0.56" fill="#2e2e2e"/><circle cx="19.8" cy="33.4" r="0.80" fill="#2e2e2e"/><circle cx="30.1" cy="16.7" r="0.50" fill="#2e2e2e"/><circle cx="9.0" cy="29.3" r="0.69" fill="#2e2e2e"/><circle cx="10.7" cy="35.7" r="0.64" fill="#2e2e2e"/><circle cx="27.5" cy="25.3" r="0.56" fill="#2e2e2e"/><circle cx="0.7" cy="25.8" r="0.66" fill="#2e2e2e"/><circle cx="42.6" cy="46.7" r="0.66" fill="#2e2e2e"/><circle cx="7.7" cy="41.2" r="0.57" fill="#2e2e2e"/><circle cx="46.2" cy="45.3" r="0.44" fill="#2e2e2e"/><circle cx="2.5" cy="2.4" r="0.67" fill="#2e2e2e"/><circle cx="23.6" cy="29.9" r="0.53" fill="#2e2e2e"/><circle cx="28.5" cy="4.6" r="0.48" fill="#2e2e2e"/><circle cx="35.2" cy="11.0" r="0.45" fill="#2e2e2e"/><circle cx="31.2" cy="47.2" r="0.77" fill="#2e2e2e"/><circle cx="42.3" cy="34.2" r="0.40" fill="#2e2e2e"/><circle cx="7.5" cy="27.9" r="0.61" fill="#2e2e2e"/><circle cx="40.2" cy="1.5" r="0.65" fill="#2e2e2e"/><circle cx="3.5" cy="36.2" r="0.44" fill="#2e2e2e"/><circle cx="23.4" cy="37.1" r="0.79" fill="#2e2e2e"/><circle cx="38.2" cy="37.5" r="0.52" fill="#2e2e2e"/><circle cx="30.7" cy="26.0" r="0.60" fill="#2e2e2e"/><circle cx="28.6" cy="21.4" r="0.55" fill="#2e2e2e"/><circle cx="36.6" cy="31.0" r="0.79" fill="#2e2e2e"/><circle cx="44.5" cy="38.4" r="0.44" fill="#2e2e2e"/><circle cx="24.2" cy="23.9" r="0.72" fill="#2e2e2e"/><circle cx="43.7" cy="9.4" r="0.40" fill="#2e2e2e"/><circle cx="41.7" cy="46.8" r="0.54" fill="#2e2e2e"/><circle cx="28.8" cy="18.5" r="0.55" fill="#2e2e2e"/><circle cx="30.6" cy="33.2" r="0.76" fill="#2e2e2e"/><circle cx="17.5" cy="23.7" r="0.58" fill="#2e2e2e"/><circle cx="47.3" cy="24.8" r="0.77" fill="#2e2e2e"/><circle cx="46.5" cy="1.4" r="0.71" fill="#2e2e2e"/><circle cx="5.4" cy="23.9" r="0.65" fill="#2e2e2e"/><circle cx="3.8" cy="27.8" r="0.68" fill="#2e2e2e"/><circle cx="16.7" cy="25.9" r="0.56" fill="#2e2e2e"/><circle cx="7.3" cy="12.2" r="0.78" fill="#2e2e2e"/><circle cx="30.6" cy="26.0" r="0.72" fill="#2e2e2e"/><circle cx="40.2" cy="36.3" r="0.56" fill="#2e2e2e"/><circle cx="25.9" cy="15.5" r="0.43" fill="#2e2e2e"/><circle cx="44.4" cy="3.9" r="0.55" fill="#2e2e2e"/><circle cx="40.9" cy="14.9" r="0.76" fill="#2e2e2e"/><circle cx="1.0" cy="7.2" r="0.58" fill="#2e2e2e"/><circle cx="30.5" cy="38.1" r="0.76" fill="#2e2e2e"/><circle cx="39.3" cy="8.9" r="0.80" fill="#2e2e2e"/><circle cx="2.2" cy="22.4" r="0.54" fill="#2e2e2e"/><circle cx="1.1" cy="9.8" r="0.80" fill="#2e2e2e"/><circle cx="46.6" cy="16.5" r="0.80" fill="#2e2e2e"/><circle cx="35.4" cy="1.6" r="0.64" fill="#2e2e2e"/><circle cx="9.8" cy="13.3" r="0.69" fill="#2e2e2e"/><circle cx="10.0" cy="16.9" r="0.40" fill="#2e2e2e"/><circle cx="15.4" cy="14.6" r="0.45" fill="#2e2e2e"/><circle cx="4.7" cy="19.5" r="0.43" fill="#2e2e2e"/><circle cx="44.9" cy="12.4" r="0.55" fill="#2e2e2e"/><circle cx="3.1" cy="39.0" r="0.48" fill="#2e2e2e"/><circle cx="3.7" cy="17.8" r="0.77" fill="#2e2e2e"/><circle cx="44.1" cy="22.4" r="0.63" fill="#2e2e2e"/><circle cx="3.5" cy="43.3" r="0.70" fill="#2e2e2e"/><circle cx="11.8" cy="40.3" r="0.46" fill="#2e2e2e"/><circle cx="23.2" cy="13.7" r="0.63" fill="#2e2e2e"/><circle cx="12.0" cy="26.1" r="0.50" fill="#2e2e2e"/><circle cx="0.8" cy="5.4" r="0.72" fill="#2e2e2e"/><circle cx="21.5" cy="24.6" r="0.66" fill="#2e2e2e"/><circle cx="12.3" cy="9.0" r="0.56" fill="#2e2e2e"/><circle cx="36.1" cy="35.1" r="0.58" fill="#2e2e2e"/><circle cx="29.1" cy="12.2" r="0.78" fill="#2e2e2e"/><circle cx="30.7" cy="38.6" r="0.55" fill="#2e2e2e"/><circle cx="27.8" cy="34.1" r="0.61" fill="#2e2e2e"/><circle cx="36.5" cy="13.1" r="0.71" fill="#2e2e2e"/><circle cx="15.3" cy="24.7" r="0.46" fill="#2e2e2e"/><circle cx="19.4" cy="42.5" r="0.41" fill="#2e2e2e"/><circle cx="9.0" cy="26.0" r="0.66" fill="#2e2e2e"/><circle cx="33.0" cy="33.0" r="0.69" fill="#2e2e2e"/><circle cx="28.9" cy="7.4" r="0.62" fill="#2e2e2e"/><circle cx="13.5" cy="0.3" r="0.60" fill="#2e2e2e"/><circle cx="46.8" cy="22.4" r="0.70" fill="#2e2e2e"/><circle cx="29.9" cy="1.8" r="0.62" fill="#2e2e2e"/><circle cx="47.4" cy="31.4" r="0.52" fill="#2e2e2e"/><circle cx="43.4" cy="32.1" r="0.77" fill="#2e2e2e"/><circle cx="40.7" cy="28.0" r="0.59" fill="#2e2e2e"/><circle cx="25.5" cy="15.3" r="0.74" fill="#2e2e2e"/><circle cx="6.1" cy="47.5" r="0.54" fill="#2e2e2e"/><circle cx="21.1" cy="29.2" r="0.52" fill="#2e2e2e"/><circle cx="29.2" cy="2.6" r="0.75" fill="#2e2e2e"/><circle cx="5.1" cy="41.9" r="0.74" fill="#2e2e2e"/><circle cx="37.8" cy="36.0" r="0.47" fill="#2e2e2e"/><circle cx="27.3" cy="3.0" r="0.70" fill="#2e2e2e"/><circle cx="37.8" cy="10.1" r="0.58" fill="#2e2e2e"/><circle cx="4.4" cy="32.0" r="0.68" fill="#2e2e2e"/><circle cx="2.9" cy="29.4" r="0.75" fill="#2e2e2e"/><circle cx="8.6" cy="43.6" r="0.51" fill="#2e2e2e"/><circle cx="0.8" cy="4.0" r="0.70" fill="#2e2e2e"/><circle cx="9.2" cy="41.3" r="0.57" fill="#2e2e2e"/><circle cx="4.0" cy="39.2" r="0.53" fill="#2e2e2e"/><circle cx="6.3" cy="0.2" r="0.52" fill="#2e2e2e"/><circle cx="22.2" cy="23.8" r="0.63" fill="#2e2e2e"/><circle cx="3.9" cy="0.1" r="0.75" fill="#2e2e2e"/><circle cx="20.4" cy="34.7" r="0.76" fill="#2e2e2e"/><circle cx="28.5" cy="35.6" r="0.49" fill="#2e2e2e"/><circle cx="10.2" cy="24.6" r="0.79" fill="#2e2e2e"/><circle cx="46.6" cy="11.1" r="0.65" fill="#2e2e2e"/><circle cx="13.9" cy="17.2" r="0.51" fill="#2e2e2e"/><circle cx="47.8" cy="18.4" r="0.59" fill="#2e2e2e"/><circle cx="4.1" cy="40.7" r="0.43" fill="#2e2e2e"/><circle cx="39.8" cy="11.5" r="0.49" fill="#2e2e2e"/><circle cx="2.0" cy="17.0" r="0.78" fill="#2e2e2e"/><circle cx="17.3" cy="15.9" r="0.70" fill="#2e2e2e"/><circle cx="11.0" cy="36.3" r="0.79" fill="#2e2e2e"/><circle cx="41.1" cy="1.9" r="0.71" fill="#2e2e2e"/><circle cx="37.9" cy="38.1" r="0.63" fill="#2e2e2e"/><circle cx="5.1" cy="32.5" r="0.63" fill="#2e2e2e"/><circle cx="23.3" cy="36.8" r="0.47" fill="#2e2e2e"/><circle cx="18.0" cy="30.3" r="0.76" fill="#2e2e2e"/><circle cx="47.5" cy="42.6" r="0.51" fill="#2e2e2e"/><circle cx="20.2" cy="25.2" r="0.58" fill="#2e2e2e"/><circle cx="3.8" cy="17.6" r="0.77" fill="#2e2e2e"/><circle cx="18.0" cy="42.2" r="0.76" fill="#2e2e2e"/><circle cx="24.7" cy="44.0" r="0.79" fill="#2e2e2e"/><circle cx="0.5" cy="28.4" r="0.78" fill="#2e2e2e"/><circle cx="14.9" cy="17.4" r="0.46" fill="#2e2e2e"/><circle cx="42.3" cy="27.0" r="0.64" fill="#2e2e2e"/><circle cx="28.6" cy="43.1" r="0.61" fill="#2e2e2e"/><circle cx="26.4" cy="21.5" r="0.53" fill="#2e2e2e"/><circle cx="46.5" cy="31.0" r="0.60" fill="#2e2e2e"/><circle cx="4.3" cy="30.7" r="0.42" fill="#2e2e2e"/><circle cx="22.6" cy="10.1" r="0.56" fill="#2e2e2e"/><circle cx="10.6" cy="10.8" r="0.57" fill="#2e2e2e"/><circle cx="5.8" cy="12.1" r="0.69" fill="#2e2e2e"/><circle cx="4.9" cy="40.6" r="0.56" fill="#2e2e2e"/><circle cx="10.2" cy="37.1" r="0.55" fill="#2e2e2e"/><circle cx="17.6" cy="0.0" r="0.47" fill="#2e2e2e"/><circle cx="45.0" cy="23.7" r="0.57" fill="#2e2e2e"/><circle cx="28.3" cy="4.3" r="0.46" fill="#2e2e2e"/><circle cx="41.4" cy="30.3" r="0.53" fill="#2e2e2e"/><circle cx="41.4" cy="14.0" r="0.58" fill="#2e2e2e"/><circle cx="37.7" cy="40.9" r="0.51" fill="#2e2e2e"/><circle cx="47.1" cy="10.1" r="0.51" fill="#2e2e2e"/><circle cx="24.7" cy="27.0" r="0.62" fill="#2e2e2e"/><circle cx="22.4" cy="37.4" r="0.50" fill="#2e2e2e"/><circle cx="20.9" cy="32.4" r="0.76" fill="#2e2e2e"/><circle cx="12.2" cy="17.0" r="0.59" fill="#2e2e2e"/><circle cx="12.9" cy="24.6" r="0.78" fill="#2e2e2e"/><circle cx="11.2" cy="39.9" r="0.76" fill="#2e2e2e"/><circle cx="23.5" cy="16.9" r="0.45" fill="#2e2e2e"/><circle cx="26.4" cy="40.5" r="0.55" fill="#2e2e2e"/><circle cx="12.2" cy="39.8" r="0.46" fill="#2e2e2e"/><circle cx="27.0" cy="36.8" r="0.60" fill="#2e2e2e"/><circle cx="14.1" cy="28.7" r="0.53" fill="#2e2e2e"/><circle cx="32.1" cy="38.2" r="0.72" fill="#2e2e2e"/><circle cx="37.1" cy="5.9" r="0.51" fill="#2e2e2e"/><circle cx="32.1" cy="30.5" r="0.76" fill="#2e2e2e"/><circle cx="21.1" cy="2.9" r="0.43" fill="#2e2e2e"/><circle cx="2.3" cy="25.8" r="0.53" fill="#2e2e2e"/><circle cx="1.8" cy="43.6" r="0.43" fill="#2e2e2e"/><circle cx="16.7" cy="37.2" r="0.67" fill="#2e2e2e"/><circle cx="10.5" cy="46.2" r="0.58" fill="#2e2e2e"/><circle cx="39.5" cy="20.3" r="0.66" fill="#2e2e2e"/><circle cx="45.9" cy="2.8" r="0.63" fill="#2e2e2e"/><circle cx="28.4" cy="46.4" r="0.64" fill="#2e2e2e"/><circle cx="12.6" cy="6.6" r="0.62" fill="#2e2e2e"/><circle cx="7.9" cy="16.8" r="0.78" fill="#2e2e2e"/><circle cx="8.8" cy="9.8" r="0.67" fill="#2e2e2e"/><circle cx="24.2" cy="43.6" r="0.53" fill="#2e2e2e"/><circle cx="36.4" cy="19.9" r="0.80" fill="#2e2e2e"/><circle cx="44.1" cy="9.3" r="0.55" fill="#2e2e2e"/><circle cx="22.8" cy="22.6" r="0.64" fill="#2e2e2e"/><circle cx="33.2" cy="7.2" r="0.66" fill="#2e2e2e"/><circle cx="39.5" cy="19.7" r="0.51" fill="#2e2e2e"/><circle cx="12.1" cy="29.2" r="0.45" fill="#2e2e2e"/><circle cx="10.1" cy="14.5" r="0.68" fill="#2e2e2e"/><circle cx="35.6" cy="26.1" r="0.46" fill="#2e2e2e"/><circle cx="17.0" cy="2.9" r="0.80" fill="#2e2e2e"/><circle cx="22.1" cy="40.2" r="0.50" fill="#2e2e2e"/><circle cx="13.2" cy="6.9" r="0.56" fill="#2e2e2e"/><circle cx="32.9" cy="26.5" r="0.53" fill="#2e2e2e"/><circle cx="6.2" cy="13.1" r="0.71" fill="#2e2e2e"/><circle cx="8.5" cy="47.6" r="0.74" fill="#2e2e2e"/><circle cx="8.1" cy="0.1" r="0.73" fill="#2e2e2e"/><circle cx="2.1" cy="32.1" r="0.60" fill="#2e2e2e"/><circle cx="19.8" cy="27.9" r="0.41" fill="#2e2e2e"/><circle cx="36.0" cy="40.4" r="0.42" fill="#2e2e2e"/><circle cx="13.5" cy="40.3" r="0.48" fill="#2e2e2e"/><circle cx="6.9" cy="38.6" r="0.80" fill="#2e2e2e"/><circle cx="47.4" cy="9.3" r="0.45" fill="#2e2e2e"/><circle cx="0.5" cy="5.7" r="0.53" fill="#2e2e2e"/><circle cx="46.1" cy="36.3" r="0.47" fill="#2e2e2e"/><circle cx="19.0" cy="26.3" r="0.46" fill="#2e2e2e"/><circle cx="2.8" cy="9.2" r="0.52" fill="#2e2e2e"/><circle cx="1.8" cy="46.8" r="0.79" fill="#2e2e2e"/><circle cx="22.7" cy="20.8" r="0.62" fill="#2e2e2e"/><circle cx="40.0" cy="19.7" r="0.77" fill="#2e2e2e"/><circle cx="45.9" cy="13.3" r="0.63" fill="#2e2e2e"/><circle cx="45.9" cy="14.6" r="0.80" fill="#2e2e2e"/><circle cx="24.0" cy="32.2" r="0.44" fill="#2e2e2e"/><circle cx="19.0" cy="31.5" r="0.48" fill="#2e2e2e"/><circle cx="46.6" cy="19.0" r="0.63" fill="#2e2e2e"/><circle cx="37.4" cy="15.0" r="0.68" fill="#2e2e2e"/><circle cx="35.2" cy="37.2" r="0.53" fill="#2e2e2e"/><circle cx="16.3" cy="28.0" r="0.58" fill="#2e2e2e"/><circle cx="22.7" cy="27.2" r="0.70" fill="#2e2e2e"/><circle cx="6.9" cy="10.2" r="0.45" fill="#2e2e2e"/><circle cx="24.9" cy="9.9" r="0.77" fill="#2e2e2e"/><circle cx="9.9" cy="21.5" r="0.71" fill="#2e2e2e"/><circle cx="13.6" cy="3.8" r="0.49" fill="#2e2e2e"/><circle cx="33.8" cy="16.8" r="0.78" fill="#2e2e2e"/><circle cx="7.5" cy="14.6" r="0.60" fill="#2e2e2e"/><circle cx="16.0" cy="14.2" r="0.44" fill="#2e2e2e"/><circle cx="24.3" cy="35.9" r="0.55" fill="#2e2e2e"/><circle cx="47.2" cy="29.9" r="0.54" fill="#2e2e2e"/><circle cx="17.6" cy="13.3" r="0.44" fill="#2e2e2e"/><circle cx="22.7" cy="25.6" r="0.72" fill="#2e2e2e"/><circle cx="3.8" cy="1.4" r="0.76" fill="#2e2e2e"/><circle cx="17.3" cy="34.8" r="0.75" fill="#2e2e2e"/><circle cx="13.5" cy="8.5" r="0.71" fill="#2e2e2e"/><circle cx="14.5" cy="24.1" r="0.40" fill="#2e2e2e"/><circle cx="28.0" cy="21.2" r="0.48" fill="#2e2e2e"/><circle cx="9.3" cy="44.5" r="0.76" fill="#2e2e2e"/><circle cx="14.9" cy="15.2" r="0.54" fill="#2e2e2e"/><circle cx="16.6" cy="18.4" r="0.78" fill="#2e2e2e"/><circle cx="0.8" cy="17.4" r="0.62" fill="#2e2e2e"/><circle cx="29.3" cy="16.0" r="0.69" fill="#2e2e2e"/><circle cx="20.6" cy="7.2" r="0.76" fill="#2e2e2e"/><circle cx="9.9" cy="33.8" r="0.77" fill="#2e2e2e"/><circle cx="8.1" cy="36.3" r="0.71" fill="#2e2e2e"/><circle cx="16.6" cy="44.0" r="0.46" fill="#2e2e2e"/><circle cx="24.9" cy="47.0" r="0.61" fill="#2e2e2e"/><circle cx="42.0" cy="19.3" r="0.66" fill="#2e2e2e"/></pattern><pattern id="st5" width="48" height="48" patternUnits="userSpaceOnUse"><rect width="48" height="48" fill="#161616"/><circle cx="23.3" cy="34.1" r="0.64" fill="#505050"/><circle cx="34.5" cy="36.5" r="0.44" fill="#505050"/><circle cx="31.3" cy="38.1" r="0.65" fill="#505050"/><circle cx="8.6" cy="26.4" r="0.36" fill="#505050"/><circle cx="46.6" cy="31.1" r="0.45" fill="#505050"/><circle cx="28.9" cy="15.0" r="0.57" fill="#505050"/><circle cx="37.8" cy="41.2" r="0.74" fill="#505050"/><circle cx="31.6" cy="25.8" r="0.56" fill="#505050"/><circle cx="7.3" cy="1.6" r="0.71" fill="#505050"/><circle cx="46.7" cy="39.8" r="0.43" fill="#505050"/><circle cx="30.0" cy="9.4" r="0.48" fill="#505050"/><circle cx="38.0" cy="44.7" r="0.35" fill="#505050"/><circle cx="37.4" cy="34.1" r="0.63" fill="#505050"/><circle cx="7.1" cy="16.8" r="0.65" fill="#505050"/><circle cx="9.8" cy="8.2" r="0.54" fill="#505050"/><circle cx="8.2" cy="12.6" r="0.41" fill="#505050"/><circle cx="10.2" cy="4.9" r="0.51" fill="#505050"/><circle cx="16.2" cy="6.7" r="0.42" fill="#505050"/><circle cx="19.4" cy="3.4" r="0.47" fill="#505050"/><circle cx="2.1" cy="35.5" r="0.40" fill="#505050"/><circle cx="22.5" cy="6.5" r="0.62" fill="#505050"/><circle cx="46.7" cy="33.8" r="0.38" fill="#505050"/><circle cx="9.4" cy="7.9" r="0.70" fill="#505050"/><circle cx="4.0" cy="36.6" r="0.66" fill="#505050"/><circle cx="40.0" cy="20.4" r="0.52" fill="#505050"/><circle cx="16.9" cy="31.3" r="0.54" fill="#505050"/><circle cx="33.9" cy="21.0" r="0.69" fill="#505050"/><circle cx="28.8" cy="13.0" r="0.52" fill="#505050"/><circle cx="11.1" cy="44.0" r="0.37" fill="#505050"/><circle cx="19.3" cy="20.6" r="0.59" fill="#505050"/><circle cx="5.0" cy="32.2" r="0.40" fill="#505050"/><circle cx="13.3" cy="15.0" r="0.38" fill="#505050"/><circle cx="47.9" cy="2.9" r="0.71" fill="#505050"/><circle cx="32.9" cy="44.6" r="0.59" fill="#505050"/><circle cx="26.3" cy="21.4" r="0.57" fill="#505050"/><circle cx="15.8" cy="8.5" r="0.58" fill="#505050"/><circle cx="38.1" cy="46.9" r="0.71" fill="#505050"/><circle cx="29.0" cy="9.8" r="0.57" fill="#505050"/><circle cx="7.8" cy="41.3" r="0.65" fill="#505050"/><circle cx="18.1" cy="15.5" r="0.71" fill="#505050"/><circle cx="20.9" cy="3.7" r="0.62" fill="#505050"/><circle cx="20.2" cy="5.6" r="0.69" fill="#505050"/><circle cx="10.1" cy="9.2" r="0.56" fill="#505050"/><circle cx="12.0" cy="16.0" r="0.53" fill="#505050"/><circle cx="44.6" cy="28.3" r="0.52" fill="#505050"/><circle cx="39.9" cy="44.5" r="0.72" fill="#505050"/><circle cx="1.2" cy="38.7" r="0.66" fill="#505050"/><circle cx="34.2" cy="34.9" r="0.61" fill="#505050"/><circle cx="9.9" cy="44.7" r="0.67" fill="#505050"/><circle cx="11.5" cy="25.6" r="0.43" fill="#505050"/><circle cx="11.3" cy="30.0" r="0.41" fill="#505050"/><circle cx="0.4" cy="29.6" r="0.60" fill="#505050"/><circle cx="43.6" cy="1.3" r="0.47" fill="#505050"/><circle cx="5.8" cy="43.9" r="0.67" fill="#505050"/><circle cx="7.3" cy="22.6" r="0.63" fill="#505050"/><circle cx="29.8" cy="23.2" r="0.57" fill="#505050"/><circle cx="10.1" cy="3.0" r="0.41" fill="#505050"/><circle cx="24.4" cy="6.9" r="0.70" fill="#505050"/><circle cx="14.0" cy="0.6" r="0.61" fill="#505050"/><circle cx="31.9" cy="35.7" r="0.53" fill="#505050"/><circle cx="43.9" cy="32.5" r="0.72" fill="#505050"/><circle cx="38.2" cy="13.1" r="0.52" fill="#505050"/><circle cx="9.9" cy="30.3" r="0.51" fill="#505050"/><circle cx="22.1" cy="17.6" r="0.42" fill="#505050"/><circle cx="28.3" cy="34.8" r="0.49" fill="#505050"/><circle cx="6.2" cy="29.5" r="0.60" fill="#505050"/><circle cx="26.3" cy="39.8" r="0.73" fill="#505050"/><circle cx="36.6" cy="28.7" r="0.73" fill="#505050"/><circle cx="27.0" cy="24.8" r="0.43" fill="#505050"/><circle cx="15.5" cy="17.5" r="0.46" fill="#505050"/><circle cx="13.1" cy="8.8" r="0.39" fill="#505050"/><circle cx="26.7" cy="20.9" r="0.67" fill="#505050"/><circle cx="34.8" cy="44.6" r="0.71" fill="#505050"/><circle cx="5.3" cy="31.6" r="0.72" fill="#505050"/><circle cx="4.0" cy="6.6" r="0.36" fill="#505050"/><circle cx="8.6" cy="45.4" r="0.70" fill="#505050"/><circle cx="6.9" cy="0.2" r="0.39" fill="#505050"/><circle cx="41.5" cy="15.5" r="0.58" fill="#505050"/><circle cx="17.3" cy="20.2" r="0.60" fill="#505050"/><circle cx="45.1" cy="3.1" r="0.52" fill="#505050"/><circle cx="34.3" cy="37.8" r="0.60" fill="#505050"/><circle cx="13.5" cy="1.3" r="0.44" fill="#505050"/><circle cx="26.9" cy="42.9" r="0.59" fill="#505050"/><circle cx="28.7" cy="18.4" r="0.65" fill="#505050"/><circle cx="46.6" cy="22.8" r="0.61" fill="#505050"/><circle cx="25.5" cy="12.2" r="0.71" fill="#505050"/><circle cx="3.6" cy="20.2" r="0.72" fill="#505050"/><circle cx="27.5" cy="18.7" r="0.43" fill="#505050"/><circle cx="17.9" cy="35.9" r="0.62" fill="#505050"/><circle cx="29.8" cy="45.6" r="0.50" fill="#505050"/><circle cx="13.7" cy="29.8" r="0.72" fill="#505050"/><circle cx="33.9" cy="41.2" r="0.68" fill="#505050"/><circle cx="1.1" cy="30.6" r="0.45" fill="#505050"/><circle cx="32.7" cy="37.8" r="0.67" fill="#505050"/><circle cx="9.2" cy="17.9" r="0.41" fill="#505050"/><circle cx="39.8" cy="33.8" r="0.57" fill="#505050"/><circle cx="26.3" cy="35.4" r="0.53" fill="#505050"/><circle cx="8.6" cy="45.8" r="0.66" fill="#505050"/><circle cx="23.8" cy="27.0" r="0.43" fill="#505050"/><circle cx="11.2" cy="2.6" r="0.62" fill="#505050"/><circle cx="39.0" cy="12.6" r="0.43" fill="#505050"/><circle cx="20.7" cy="13.6" r="0.65" fill="#505050"/><circle cx="11.9" cy="12.5" r="0.51" fill="#505050"/><circle cx="41.2" cy="34.2" r="0.40" fill="#505050"/><circle cx="6.7" cy="2.5" r="0.62" fill="#505050"/><circle cx="31.4" cy="8.0" r="0.46" fill="#505050"/><circle cx="40.9" cy="2.4" r="0.64" fill="#505050"/><circle cx="39.8" cy="31.4" r="0.48" fill="#505050"/><circle cx="35.5" cy="44.3" r="0.57" fill="#505050"/><circle cx="29.8" cy="28.8" r="0.72" fill="#505050"/><circle cx="46.7" cy="31.9" r="0.55" fill="#505050"/><circle cx="5.9" cy="23.4" r="0.52" fill="#505050"/><circle cx="32.6" cy="23.3" r="0.45" fill="#505050"/><circle cx="9.6" cy="36.0" r="0.58" fill="#505050"/><circle cx="36.9" cy="9.3" r="0.53" fill="#505050"/><circle cx="5.6" cy="8.3" r="0.49" fill="#505050"/><circle cx="13.2" cy="45.8" r="0.39" fill="#505050"/><circle cx="24.6" cy="4.5" r="0.70" fill="#505050"/><circle cx="5.0" cy="41.1" r="0.48" fill="#505050"/><circle cx="17.2" cy="4.7" r="0.60" fill="#505050"/></pattern><filter id="bl05"><feGaussianBlur stdDeviation="0.6"/></filter></defs><path d="M95,80 C100,74 106,70 111.5,68.5 C116,66 122,65 128,65 C136,65 145,68 151,72.5 C154,74 156,76 157,77.5 L150,100 L143,99 C137,100 131,104 126,108 C122,113 119,119 118.5,125 L114,125 L100,112 Z" fill="url(#st2)" stroke="#111" stroke-width="1.35" stroke-linejoin="round"/><path d="M22.7,100.5 C23,95 26,88 31,83.5 C38,77 46,72.5 56,67 C66,62 76,59.5 86,58.8 C95,58.3 103,59.5 108,62.5 C111.5,65 112.5,68 111,70.5 C108.5,74 103,77 97.5,79.4 L95,80 L93.9,75.6 C93.6,74.3 92,73.8 90.8,74 L86.2,75.5 L80.4,78.1 L74.6,80.9 L68.8,83.6 L64,86.3 L57.5,90.6 L52,95.3 L47.7,98.9 L44.1,102.2 L41.9,105.5 L41.6,106.7 L42.2,107.7 L45.5,110.5 L47.8,112 L46,110 L48,120 L48.5,137 L40,135 C35,132 32,126 31,119 C31,112 28,106 22.7,100.5 Z" fill="url(#st1)" stroke="#111" stroke-width="1.35" stroke-linejoin="round"/><path d="M76.9,94.8 C79.5,92.5 83,90.7 86.2,89.6 C88,88.8 90,87.8 91.9,87.3 C94.5,87.8 96.5,89 97.7,90.8 C99.5,94 100.4,98 100.8,102 C101.2,106 101,109 100.6,111.5 C100,116 97,120.5 92.5,122.3 C88,123.5 83,122 80,119.5 C77.5,117 76.5,112 76,107 C75.6,102.5 75.8,98 76.9,94.8 Z" fill="url(#st4)" stroke="#111" stroke-width="1.35" stroke-linejoin="round"/><path d="M71.2,85.6 C72.3,84.6 73.4,83.6 74.6,82.7 C76.5,81.9 78.5,81.1 80.4,80.4 C82.3,80 84.3,79.6 86.2,79.2 C88.5,78.8 90.8,78.3 93.1,77.8 L97.5,79.3 L100.5,80.2 C98.8,81.1 97,82 95.4,82.7 C93.5,83.9 91.5,85.1 89.6,86.2 C87.7,87 85.7,87.7 83.8,88.5 C81.9,89.2 80,90 78.1,90.8 C76.6,92.1 75,93.5 73.5,94.8 C72.2,95.2 70.6,94.7 70.2,93.5 C69.9,91 70.3,88 71.2,85.6 Z" fill="#fff" stroke="#111" stroke-width="1.35" stroke-linejoin="round"/><path d="M75.5,88.5 C79,85.5 84,83.5 92,81.8" fill="none" stroke="#9a9a9a" stroke-width="1"/><path d="M76.5,91 C80,88.5 85,86.6 93.5,84" fill="none" stroke="#c0c0c0" stroke-width="0.8"/><path d="M41.90,105.50 C42.22,104.58 43.13,103.30 44.10,102.20 C45.07,101.10 46.38,100.05 47.70,98.90 C49.02,97.75 50.37,96.68 52.00,95.30 C53.63,93.92 55.50,92.10 57.50,90.60 C59.50,89.10 62.12,87.47 64.00,86.30 C65.88,85.13 67.03,84.50 68.80,83.60 C70.57,82.70 72.67,81.82 74.60,80.90 C76.53,79.98 78.47,79.00 80.40,78.10 C82.33,77.20 84.47,76.18 86.20,75.50 C87.93,74.82 89.63,74.18 90.80,74.00 C91.97,73.82 92.67,74.07 93.20,74.40 C93.73,74.73 94.02,75.43 94.00,76.00 C93.98,76.57 94.40,77.27 93.10,77.80 C91.80,78.33 88.32,78.77 86.20,79.20 C84.08,79.63 82.33,79.82 80.40,80.40 C78.47,80.98 76.13,81.83 74.60,82.70 C73.07,83.57 72.55,84.42 71.20,85.60 C69.85,86.78 67.70,88.53 66.50,89.80 C65.30,91.07 65.15,91.92 64.00,93.20 C62.85,94.48 61.27,95.98 59.60,97.50 C57.93,99.02 55.93,100.32 54.00,102.30 C52.07,104.28 49.23,107.90 48.00,109.40 C46.77,110.90 47.27,111.20 46.60,111.30 C45.93,111.40 44.73,110.60 44.00,110.00 C43.27,109.40 42.55,108.45 42.20,107.70 C41.85,106.95 41.58,106.42 41.90,105.50 Z" fill="#fff" stroke="#111" stroke-width="1.35" stroke-linejoin="round"/><path d="M48.5,120.8 L60.5,120.8 L60.5,133.3 L53,134.8 L49,134.5 Z" fill="#fff" stroke="#111" stroke-width="1.35" stroke-linejoin="round"/><path d="M47.8,111.5 L48,109.4 C50,107 52,104.5 54,102.3 C56,100.5 58,99 59.6,97.5 L61.3,98.3 L62.3,100.5 C61.5,104 61,110 60.8,120.6 L47.8,120.6 Z" fill="url(#st5)" stroke="#111" stroke-width="1.35" stroke-linejoin="round"/><path d="M61.3,108 C61.5,104 63,100.5 66.5,99.4 C69.5,98.5 72,99.5 73,101.2 C74,104 74.3,108 74.6,112 L74.6,128.3 C73,131 70,132.5 66.7,133.6 C64,133.8 62,133.5 60.5,133 Z" fill="#fff" stroke="#111" stroke-width="1.35" stroke-linejoin="round"/><path d="M76.5,117.5 C80,121 86,123.3 91,122.8 C95,122.3 98.5,118 100.6,112.7 L101.5,113 C104,115 106,117 108,119.2 C110,121 112,122.5 113.8,124.2 C115,125.8 115.5,127.5 115.5,129.5 C115.5,131.5 114.5,133 113.3,134.6 C111,137.5 108,139 104.6,140.4 C101,142 97,143 93,143.3 C89,143.8 85,144.5 81.5,144.8 C78,145 75,145 72,144.6 L69.8,143.8 L63.8,136.6 C66.5,135.3 69.5,133.5 71.5,131.8 C73.5,130 74.5,126 75,122 Z" fill="#c4c4c4" stroke="#111" stroke-width="1.35" stroke-linejoin="round"/><path d="M53,134.8 L59,135 L63.8,136.8 L69.8,143.8 L65,144.3 L58,141 Z" fill="#9c9c9c" stroke="#111" stroke-width="1.35" stroke-linejoin="round"/><path d="M35,134 C40,135 44,136 47.5,137 C50,138.5 52,140 54.2,140.8 C57,142 60,143.3 63.8,144.1 C67,144.7 70,145 73.5,145.1 C77,145.3 81,145.5 85,145.6" fill="none" stroke="#111" stroke-width="1.7"/><path d="M2.1,112.9 C2.5,108.5 4,105.5 6,104 C8.5,101.8 11,100.8 13.8,100.7 C17,100.5 19.5,101 20.7,101.6 C23.5,102.5 25.5,104 26.9,106 C29,108.5 30.5,110.5 31,112.9 C31.5,115 31,117.5 31,119.7 C31.5,123 32.5,126.5 34.4,129.4 C36.5,131.5 39,133.5 41.3,134.9 C44,135.8 46,136.6 48.2,137.6 L46,138.3 C42,137.5 38,135.2 34.4,134.2 C30,133 25,132 20.7,131.4 C17,130.5 14,129.5 11,128 C8,126 5.5,123.5 4.1,121 C2.8,118.5 2,115.5 2.1,112.9 Z" fill="url(#st5)" stroke="#111" stroke-width="1.35" stroke-linejoin="round"/><path d="M143.9,98.9 C147,98 150,99 152,101 C155,104 157,107 158.5,108.9 C155,110 152,112 149.4,117.2 C147,121 145,125 143.9,128 C142.5,132 141.5,136 141.1,138.2 C137,139.3 133,139.5 129.3,139.1 C125,138.5 122,137 120.1,135.4 C119,131 118.8,128 119.2,124.5 C119.5,119 120.5,116 122,113.5 C125,109 128,106.5 131,104.4 C135,101.5 139.5,99.5 143.9,98.9 Z" fill="url(#st3)" stroke="#111" stroke-width="1.35" stroke-linejoin="round"/><path d="M156.7,109.8 C161,109.5 165,110 169.5,110.8 C175,112 179,115 182.3,119 C185,122.5 187,125.5 187.8,128.1 C188,131 186.5,134 184,135.4 C178,138 171,139.5 164,140 C157,140 149,139.5 142,138.2 C142.5,133 143.5,129 144.5,126 C146.5,120 149.5,115.5 152,112.5 C153.5,111 155,110.2 156.7,109.8 Z" fill="#acacac" stroke="#111" stroke-width="1.35" stroke-linejoin="round"/><clipPath id="cbc"><path d="M156.9,76 C159,76 161,76.3 162.5,76.9 C166,78.5 169.5,81 172,84.7 C174,87.5 175.5,90 176.3,92.5 C177.3,95 178,97.5 178.1,100.3 C178.3,102.5 178,104.5 177.2,106.3 C176.5,107.8 175.5,108.6 174.6,108.9 C171.5,109 168.5,108.6 166,108.1 C163,107.6 160,107 157.3,106.3 C155,105.5 152.5,104.8 150.4,103.7 C148,101.8 146.2,99.8 145.2,97.7 C144.6,95.5 144.6,93.5 144.8,91.6 C145.2,89 145.8,86.8 146.9,84.7 C148,82.5 149.5,80.8 151.2,79.5 C153,78 155,76.8 156.9,76 Z"/></clipPath><path d="M156.9,76 C159,76 161,76.3 162.5,76.9 C166,78.5 169.5,81 172,84.7 C174,87.5 175.5,90 176.3,92.5 C177.3,95 178,97.5 178.1,100.3 C178.3,102.5 178,104.5 177.2,106.3 C176.5,107.8 175.5,108.6 174.6,108.9 C171.5,109 168.5,108.6 166,108.1 C163,107.6 160,107 157.3,106.3 C155,105.5 152.5,104.8 150.4,103.7 C148,101.8 146.2,99.8 145.2,97.7 C144.6,95.5 144.6,93.5 144.8,91.6 C145.2,89 145.8,86.8 146.9,84.7 C148,82.5 149.5,80.8 151.2,79.5 C153,78 155,76.8 156.9,76 Z" fill="#767676"/><g clip-path="url(#cbc)" filter="url(#bl05)"><ellipse cx="152.5" cy="89" rx="3.8" ry="5.5" transform="rotate(10 152.5 89)" fill="#3e3e3e"/><ellipse cx="160.5" cy="83.5" rx="3" ry="5.5" transform="rotate(5 160.5 83.5)" fill="#444"/><ellipse cx="164.5" cy="91" rx="2.8" ry="5.5" transform="rotate(20 164.5 91)" fill="#3e3e3e"/><ellipse cx="169" cy="98.5" rx="2.8" ry="5.5" transform="rotate(-30 169 98.5)" fill="#404040"/><ellipse cx="173.5" cy="103.5" rx="5" ry="2" transform="rotate(20 173.5 103.5)" fill="#505050"/><ellipse cx="150" cy="99" rx="2.5" ry="3" transform="rotate(0 150 99)" fill="#5a5a5a"/><ellipse cx="170.5" cy="88" rx="2" ry="3.5" transform="rotate(30 170.5 88)" fill="#555"/><ellipse cx="175" cy="95" rx="1.8" ry="4" transform="rotate(10 175 95)" fill="#5a5a5a"/><line x1="158.6" y1="103.7" x2="157.7" y2="81" stroke="#c0c0c0" stroke-width="1.6" stroke-linecap="round"/><line x1="162.5" y1="98.5" x2="166.8" y2="85" stroke="#c4c4c4" stroke-width="1.5" stroke-linecap="round"/><line x1="166" y1="91.6" x2="169" y2="86.5" stroke="#bdbdbd" stroke-width="1.2" stroke-linecap="round"/><line x1="155" y1="102" x2="150" y2="94" stroke="#b0b0b0" stroke-width="1.3" stroke-linecap="round"/><line x1="166" y1="103" x2="173" y2="99" stroke="#b0b0b0" stroke-width="1.2" stroke-linecap="round"/><ellipse cx="159" cy="102" rx="6" ry="4" fill="#a4a4a4" opacity="0.7"/></g><path d="M156.9,76 C159,76 161,76.3 162.5,76.9 C166,78.5 169.5,81 172,84.7 C174,87.5 175.5,90 176.3,92.5 C177.3,95 178,97.5 178.1,100.3 C178.3,102.5 178,104.5 177.2,106.3 C176.5,107.8 175.5,108.6 174.6,108.9 C171.5,109 168.5,108.6 166,108.1 C163,107.6 160,107 157.3,106.3 C155,105.5 152.5,104.8 150.4,103.7 C148,101.8 146.2,99.8 145.2,97.7 C144.6,95.5 144.6,93.5 144.8,91.6 C145.2,89 145.8,86.8 146.9,84.7 C148,82.5 149.5,80.8 151.2,79.5 C153,78 155,76.8 156.9,76 Z" fill="none" stroke="#111" stroke-width="1.4"/>
<line x1="22.1" y1="30" x2="22.1" y2="197.5" stroke="#111" stroke-width="1.6"/>
<line x1="47.7" y1="30" x2="47.7" y2="197.5" stroke="#111" stroke-width="1.5"/>
<line x1="75.3" y1="30" x2="75.3" y2="197.5" stroke="#111" stroke-width="1.7"/>
<line x1="117.4" y1="30" x2="117.4" y2="197.5" stroke="#111" stroke-width="1.5"/>
<text x="10" y="176" font-size="16.5" text-anchor="middle">A</text>
<text x="35.2" y="176" font-size="16.5" text-anchor="middle">B</text>
<text x="61.3" y="176" font-size="16.5" text-anchor="middle">C</text>
<text x="93" y="176" font-size="16.5" text-anchor="middle">D</text>
<text x="138" y="176" font-size="16.5" text-anchor="middle">E</text>
<text transform="translate(0.4,237.2) scale(0.92,1)" font-size="26.3" font-weight="bold">B</text>
<text transform="translate(144.3,247.6) scale(0.94,1)" font-size="11.8" stroke="#000" stroke-width="0.4">Amplification -100504-AA/GG-selected samples</text>
<rect x="66.2" y="254.4" width="390.0" height="182.9" fill="#f7fbfb"/>
<g stroke="#8d9d9d" stroke-width="1.0"><line x1="66.2" y1="305.10" x2="456.2" y2="305.10"/><line x1="66.2" y1="289.87" x2="456.2" y2="289.87"/><line x1="66.2" y1="280.96" x2="456.2" y2="280.96"/><line x1="66.2" y1="274.64" x2="456.2" y2="274.64"/><line x1="66.2" y1="269.73" x2="456.2" y2="269.73"/><line x1="66.2" y1="265.73" x2="456.2" y2="265.73"/><line x1="66.2" y1="262.34" x2="456.2" y2="262.34"/><line x1="66.2" y1="259.40" x2="456.2" y2="259.40"/><line x1="66.2" y1="256.82" x2="456.2" y2="256.82"/><line x1="66.2" y1="355.30" x2="456.2" y2="355.30"/><line x1="66.2" y1="340.19" x2="456.2" y2="340.19"/><line x1="66.2" y1="331.35" x2="456.2" y2="331.35"/><line x1="66.2" y1="325.08" x2="456.2" y2="325.08"/><line x1="66.2" y1="320.21" x2="456.2" y2="320.21"/><line x1="66.2" y1="316.24" x2="456.2" y2="316.24"/><line x1="66.2" y1="312.88" x2="456.2" y2="312.88"/><line x1="66.2" y1="309.96" x2="456.2" y2="309.96"/><line x1="66.2" y1="307.40" x2="456.2" y2="307.40"/><line x1="66.2" y1="405.20" x2="456.2" y2="405.20"/><line x1="66.2" y1="390.18" x2="456.2" y2="390.18"/><line x1="66.2" y1="381.39" x2="456.2" y2="381.39"/><line x1="66.2" y1="375.16" x2="456.2" y2="375.16"/><line x1="66.2" y1="370.32" x2="456.2" y2="370.32"/><line x1="66.2" y1="366.37" x2="456.2" y2="366.37"/><line x1="66.2" y1="363.03" x2="456.2" y2="363.03"/><line x1="66.2" y1="360.14" x2="456.2" y2="360.14"/><line x1="66.2" y1="357.58" x2="456.2" y2="357.58"/><line x1="66.2" y1="431.29" x2="456.2" y2="431.29"/><line x1="66.2" y1="425.06" x2="456.2" y2="425.06"/><line x1="66.2" y1="420.22" x2="456.2" y2="420.22"/><line x1="66.2" y1="416.27" x2="456.2" y2="416.27"/><line x1="66.2" y1="412.93" x2="456.2" y2="412.93"/><line x1="66.2" y1="410.04" x2="456.2" y2="410.04"/><line x1="66.2" y1="407.48" x2="456.2" y2="407.48"/></g>
<g stroke="#7d8b8b" stroke-width="1.15"><line x1="94.81" y1="254.4" x2="94.81" y2="437.3"/><line x1="104.58" y1="254.4" x2="104.58" y2="437.3"/><line x1="114.35" y1="254.4" x2="114.35" y2="437.3"/><line x1="124.12" y1="254.4" x2="124.12" y2="437.3"/><line x1="133.89" y1="254.4" x2="133.89" y2="437.3"/><line x1="143.66" y1="254.4" x2="143.66" y2="437.3"/><line x1="153.43" y1="254.4" x2="153.43" y2="437.3"/><line x1="163.20" y1="254.4" x2="163.20" y2="437.3"/><line x1="172.97" y1="254.4" x2="172.97" y2="437.3"/><line x1="182.74" y1="254.4" x2="182.74" y2="437.3"/><line x1="192.51" y1="254.4" x2="192.51" y2="437.3"/><line x1="202.28" y1="254.4" x2="202.28" y2="437.3"/><line x1="231.59" y1="254.4" x2="231.59" y2="437.3"/><line x1="241.36" y1="254.4" x2="241.36" y2="437.3"/><line x1="251.13" y1="254.4" x2="251.13" y2="437.3"/><line x1="260.90" y1="254.4" x2="260.90" y2="437.3"/><line x1="270.67" y1="254.4" x2="270.67" y2="437.3"/><line x1="290.21" y1="254.4" x2="290.21" y2="437.3"/><line x1="299.98" y1="254.4" x2="299.98" y2="437.3"/><line x1="309.75" y1="254.4" x2="309.75" y2="437.3"/><line x1="319.52" y1="254.4" x2="319.52" y2="437.3"/><line x1="329.29" y1="254.4" x2="329.29" y2="437.3"/><line x1="339.06" y1="254.4" x2="339.06" y2="437.3"/><line x1="348.83" y1="254.4" x2="348.83" y2="437.3"/><line x1="368.37" y1="254.4" x2="368.37" y2="437.3"/><line x1="378.14" y1="254.4" x2="378.14" y2="437.3"/><line x1="387.91" y1="254.4" x2="387.91" y2="437.3"/><line x1="397.68" y1="254.4" x2="397.68" y2="437.3"/><line x1="407.45" y1="254.4" x2="407.45" y2="437.3"/><line x1="417.22" y1="254.4" x2="417.22" y2="437.3"/><line x1="426.99" y1="254.4" x2="426.99" y2="437.3"/><line x1="436.76" y1="254.4" x2="436.76" y2="437.3"/><line x1="446.53" y1="254.4" x2="446.53" y2="437.3"/></g>
<g stroke="#5d6868" stroke-width="1.4"><line x1="75.27" y1="254.4" x2="75.27" y2="437.3"/><line x1="85.04" y1="254.4" x2="85.04" y2="437.3"/><line x1="212.05" y1="254.4" x2="212.05" y2="437.3"/><line x1="221.82" y1="254.4" x2="221.82" y2="437.3"/><line x1="280.44" y1="254.4" x2="280.44" y2="437.3"/><line x1="358.60" y1="254.4" x2="358.60" y2="437.3"/></g>
<g stroke="#111" stroke-width="1.6"><line x1="61" y1="254.50" x2="66.2" y2="254.50"/><line x1="61" y1="305.10" x2="66.2" y2="305.10"/><line x1="61" y1="289.87" x2="66.2" y2="289.87"/><line x1="61" y1="280.96" x2="66.2" y2="280.96"/><line x1="61" y1="274.64" x2="66.2" y2="274.64"/><line x1="61" y1="269.73" x2="66.2" y2="269.73"/><line x1="61" y1="265.73" x2="66.2" y2="265.73"/><line x1="61" y1="262.34" x2="66.2" y2="262.34"/><line x1="61" y1="259.40" x2="66.2" y2="259.40"/><line x1="61" y1="256.82" x2="66.2" y2="256.82"/><line x1="61" y1="355.30" x2="66.2" y2="355.30"/><line x1="61" y1="340.19" x2="66.2" y2="340.19"/><line x1="61" y1="331.35" x2="66.2" y2="331.35"/><line x1="61" y1="325.08" x2="66.2" y2="325.08"/><line x1="61" y1="320.21" x2="66.2" y2="320.21"/><line x1="61" y1="316.24" x2="66.2" y2="316.24"/><line x1="61" y1="312.88" x2="66.2" y2="312.88"/><line x1="61" y1="309.96" x2="66.2" y2="309.96"/><line x1="61" y1="307.40" x2="66.2" y2="307.40"/><line x1="61" y1="405.20" x2="66.2" y2="405.20"/><line x1="61" y1="390.18" x2="66.2" y2="390.18"/><line x1="61" y1="381.39" x2="66.2" y2="381.39"/><line x1="61" y1="375.16" x2="66.2" y2="375.16"/><line x1="61" y1="370.32" x2="66.2" y2="370.32"/><line x1="61" y1="366.37" x2="66.2" y2="366.37"/><line x1="61" y1="363.03" x2="66.2" y2="363.03"/><line x1="61" y1="360.14" x2="66.2" y2="360.14"/><line x1="61" y1="357.58" x2="66.2" y2="357.58"/><line x1="61" y1="431.29" x2="66.2" y2="431.29"/><line x1="61" y1="425.06" x2="66.2" y2="425.06"/><line x1="61" y1="420.22" x2="66.2" y2="420.22"/><line x1="61" y1="416.27" x2="66.2" y2="416.27"/><line x1="61" y1="412.93" x2="66.2" y2="412.93"/><line x1="61" y1="410.04" x2="66.2" y2="410.04"/><line x1="61" y1="407.48" x2="66.2" y2="407.48"/><line x1="65.50" y1="437.3" x2="65.50" y2="442.3"/><line x1="75.27" y1="437.3" x2="75.27" y2="442.3"/><line x1="85.04" y1="437.3" x2="85.04" y2="442.3"/><line x1="94.81" y1="437.3" x2="94.81" y2="442.3"/><line x1="104.58" y1="437.3" x2="104.58" y2="442.3"/><line x1="114.35" y1="437.3" x2="114.35" y2="442.3"/><line x1="124.12" y1="437.3" x2="124.12" y2="442.3"/><line x1="133.89" y1="437.3" x2="133.89" y2="442.3"/><line x1="143.66" y1="437.3" x2="143.66" y2="442.3"/><line x1="153.43" y1="437.3" x2="153.43" y2="442.3"/><line x1="163.20" y1="437.3" x2="163.20" y2="442.3"/><line x1="172.97" y1="437.3" x2="172.97" y2="442.3"/><line x1="182.74" y1="437.3" x2="182.74" y2="442.3"/><line x1="192.51" y1="437.3" x2="192.51" y2="442.3"/><line x1="202.28" y1="437.3" x2="202.28" y2="442.3"/><line x1="212.05" y1="437.3" x2="212.05" y2="442.3"/><line x1="221.82" y1="437.3" x2="221.82" y2="442.3"/><line x1="231.59" y1="437.3" x2="231.59" y2="442.3"/><line x1="241.36" y1="437.3" x2="241.36" y2="442.3"/><line x1="251.13" y1="437.3" x2="251.13" y2="442.3"/><line x1="260.90" y1="437.3" x2="260.90" y2="442.3"/><line x1="270.67" y1="437.3" x2="270.67" y2="442.3"/><line x1="280.44" y1="437.3" x2="280.44" y2="442.3"/><line x1="290.21" y1="437.3" x2="290.21" y2="442.3"/><line x1="299.98" y1="437.3" x2="299.98" y2="442.3"/><line x1="309.75" y1="437.3" x2="309.75" y2="442.3"/><line x1="319.52" y1="437.3" x2="319.52" y2="442.3"/><line x1="329.29" y1="437.3" x2="329.29" y2="442.3"/><line x1="339.06" y1="437.3" x2="339.06" y2="442.3"/><line x1="348.83" y1="437.3" x2="348.83" y2="442.3"/><line x1="358.60" y1="437.3" x2="358.60" y2="442.3"/><line x1="368.37" y1="437.3" x2="368.37" y2="442.3"/><line x1="378.14" y1="437.3" x2="378.14" y2="442.3"/><line x1="387.91" y1="437.3" x2="387.91" y2="442.3"/><line x1="397.68" y1="437.3" x2="397.68" y2="442.3"/><line x1="407.45" y1="437.3" x2="407.45" y2="442.3"/><line x1="417.22" y1="437.3" x2="417.22" y2="442.3"/><line x1="426.99" y1="437.3" x2="426.99" y2="442.3"/><line x1="436.76" y1="437.3" x2="436.76" y2="442.3"/><line x1="446.53" y1="437.3" x2="446.53" y2="442.3"/><line x1="456.30" y1="437.3" x2="456.30" y2="442.3"/></g>
<rect x="66.2" y="254.4" width="390.0" height="182.9" fill="none" stroke="#222" stroke-width="1.3"/>
<line x1="66.2" y1="370.5" x2="456.2" y2="370.5" stroke="#111" stroke-width="1.2"/>
<rect x="66" y="367.1" width="2.4" height="7.5" fill="#000"/>
<rect x="453.3" y="367.1" width="2.6" height="7.5" fill="#000"/>
<svg x="0" y="0" width="456.5" height="654" overflow="hidden"><path d="M104.58,405.40 C106.21,406.53 112.72,411.07 114.35,412.20 " fill="none" stroke="#55dd55" stroke-width="1.1"/><path d="M182.74,436.30 C184.37,430.55 190.88,407.55 192.51,401.80 " fill="none" stroke="#55dd55" stroke-width="1.1"/><path d="M221.82,427.00 C223.45,423.53 228.33,405.47 231.59,406.20 C234.85,406.93 238.10,427.83 241.36,431.40 C244.62,434.97 247.87,432.18 251.13,427.60 C254.39,423.02 259.27,407.85 260.90,403.90 " fill="none" stroke="#55dd55" stroke-width="1.1"/><path d="M280.44,418.10 C282.07,416.42 286.95,411.58 290.21,408.00 C293.47,404.42 296.72,398.50 299.98,396.60 C303.24,394.70 306.49,396.60 309.75,396.60 C313.01,396.60 316.26,396.77 319.52,396.60 C322.78,396.43 326.03,394.05 329.29,395.60 C332.55,397.15 335.80,409.68 339.06,405.90 C342.32,402.12 345.57,380.93 348.83,372.90 C352.09,364.87 355.34,361.98 358.60,357.70 C361.86,353.42 365.11,350.87 368.37,347.20 C371.63,343.53 374.88,339.17 378.14,335.70 C381.40,332.23 384.65,329.55 387.91,326.40 C391.17,323.25 394.42,319.48 397.68,316.80 C400.94,314.12 404.19,311.90 407.45,310.30 C410.71,308.70 413.96,308.45 417.22,307.20 C420.48,305.95 423.73,303.93 426.99,302.80 C430.25,301.67 433.50,301.20 436.76,300.40 C440.02,299.60 443.27,298.95 446.53,298.00 C449.79,297.05 454.67,295.25 456.30,294.70 " fill="none" stroke="#55dd55" stroke-width="1.1"/><rect x="101.88" y="402.70" width="5.4" height="5.4" fill="#33dd33"/><rect x="111.65" y="409.50" width="5.4" height="5.4" fill="#33dd33"/><rect x="131.19" y="424.30" width="5.4" height="5.4" fill="#33dd33"/><rect x="150.73" y="428.80" width="5.4" height="5.4" fill="#33dd33"/><rect x="180.04" y="433.60" width="5.4" height="5.4" fill="#33dd33"/><rect x="189.81" y="399.10" width="5.4" height="5.4" fill="#33dd33"/><rect x="219.12" y="424.30" width="5.4" height="5.4" fill="#33dd33"/><rect x="228.89" y="403.50" width="5.4" height="5.4" fill="#33dd33"/><rect x="238.66" y="428.70" width="5.4" height="5.4" fill="#33dd33"/><rect x="248.43" y="424.90" width="5.4" height="5.4" fill="#33dd33"/><rect x="258.20" y="401.20" width="5.4" height="5.4" fill="#33dd33"/><rect x="277.74" y="415.40" width="5.4" height="5.4" fill="#33dd33"/><rect x="287.51" y="405.30" width="5.4" height="5.4" fill="#33dd33"/><rect x="297.28" y="393.90" width="5.4" height="5.4" fill="#33dd33"/><rect x="307.05" y="393.90" width="5.4" height="5.4" fill="#33dd33"/><rect x="316.82" y="393.90" width="5.4" height="5.4" fill="#33dd33"/><rect x="326.59" y="392.90" width="5.4" height="5.4" fill="#33dd33"/><rect x="336.36" y="403.20" width="5.4" height="5.4" fill="#33dd33"/><rect x="346.13" y="370.20" width="5.4" height="5.4" fill="#33dd33"/><rect x="355.90" y="355.00" width="5.4" height="5.4" fill="#33dd33"/><rect x="365.67" y="344.50" width="5.4" height="5.4" fill="#33dd33"/><rect x="375.44" y="333.00" width="5.4" height="5.4" fill="#33dd33"/><rect x="385.21" y="323.70" width="5.4" height="5.4" fill="#33dd33"/><rect x="394.98" y="314.10" width="5.4" height="5.4" fill="#33dd33"/><rect x="404.75" y="307.60" width="5.4" height="5.4" fill="#33dd33"/><rect x="414.52" y="304.50" width="5.4" height="5.4" fill="#33dd33"/><rect x="424.29" y="300.10" width="5.4" height="5.4" fill="#33dd33"/><rect x="434.06" y="297.70" width="5.4" height="5.4" fill="#33dd33"/><rect x="443.83" y="295.30" width="5.4" height="5.4" fill="#33dd33"/><rect x="453.60" y="292.00" width="5.4" height="5.4" fill="#33dd33"/><path d="M133.89,430.80 C135.52,431.03 142.03,431.97 143.66,432.20 " fill="none" stroke="#ee3333" stroke-width="1.1"/><path d="M299.98,425.00 C301.61,421.08 306.49,408.35 309.75,401.50 C313.01,394.65 316.26,389.80 319.52,383.90 C322.78,378.00 326.03,371.20 329.29,366.10 C332.55,361.00 335.80,357.75 339.06,353.30 C342.32,348.85 345.57,343.63 348.83,339.40 C352.09,335.17 355.34,331.40 358.60,327.90 C361.86,324.40 365.11,321.08 368.37,318.40 C371.63,315.72 374.88,313.63 378.14,311.80 C381.40,309.97 384.65,308.62 387.91,307.40 C391.17,306.18 394.42,305.38 397.68,304.50 C400.94,303.62 404.19,302.83 407.45,302.10 C410.71,301.37 413.96,300.70 417.22,300.10 C420.48,299.50 423.73,298.93 426.99,298.50 C430.25,298.07 433.50,298.02 436.76,297.50 C440.02,296.98 443.27,295.92 446.53,295.40 C449.79,294.88 454.67,294.57 456.30,294.40 " fill="none" stroke="#ee3333" stroke-width="1.1"/><rect x="131.19" y="428.10" width="5.4" height="5.4" fill="#dd1f26"/><rect x="140.96" y="429.50" width="5.4" height="5.4" fill="#dd1f26"/><rect x="170.27" y="418.80" width="5.4" height="5.4" fill="#dd1f26"/><rect x="228.89" y="417.10" width="5.4" height="5.4" fill="#dd1f26"/><rect x="297.28" y="422.30" width="5.4" height="5.4" fill="#dd1f26"/><rect x="307.05" y="398.80" width="5.4" height="5.4" fill="#dd1f26"/><rect x="316.82" y="381.20" width="5.4" height="5.4" fill="#dd1f26"/><rect x="326.59" y="363.40" width="5.4" height="5.4" fill="#dd1f26"/><rect x="336.36" y="350.60" width="5.4" height="5.4" fill="#dd1f26"/><rect x="346.13" y="336.70" width="5.4" height="5.4" fill="#dd1f26"/><rect x="355.90" y="325.20" width="5.4" height="5.4" fill="#dd1f26"/><rect x="365.67" y="315.70" width="5.4" height="5.4" fill="#dd1f26"/><rect x="375.44" y="309.10" width="5.4" height="5.4" fill="#dd1f26"/><rect x="385.21" y="304.70" width="5.4" height="5.4" fill="#dd1f26"/><rect x="394.98" y="301.80" width="5.4" height="5.4" fill="#dd1f26"/><rect x="404.75" y="299.40" width="5.4" height="5.4" fill="#dd1f26"/><rect x="414.52" y="297.40" width="5.4" height="5.4" fill="#dd1f26"/><rect x="424.29" y="295.80" width="5.4" height="5.4" fill="#dd1f26"/><rect x="434.06" y="294.80" width="5.4" height="5.4" fill="#dd1f26"/><rect x="443.83" y="292.70" width="5.4" height="5.4" fill="#dd1f26"/><rect x="453.60" y="291.70" width="5.4" height="5.4" fill="#dd1f26"/></svg>
<text transform="translate(47.6,257.1) scale(1.08,1)" font-size="10" font-weight="bold" text-anchor="end">10</text>
<text transform="translate(52.2,252.8) scale(1.08,1)" font-size="9.2" font-weight="bold" text-anchor="end">1</text>
<text transform="translate(44.6,308.4) scale(1.08,1)" font-size="10" font-weight="bold" text-anchor="end">10</text>
<text transform="translate(52.2,304.3) scale(1.08,1)" font-size="9.2" font-weight="bold" text-anchor="end">0</text>
<text transform="translate(42.0,357.8) scale(1.08,1)" font-size="10" font-weight="bold" text-anchor="end">10</text>
<text transform="translate(52.2,354.2) scale(1.08,1)" font-size="9.2" font-weight="bold" text-anchor="end">-1</text>
<text transform="translate(42.2,408.6) scale(1.08,1)" font-size="10" font-weight="bold" text-anchor="end">10</text>
<text transform="translate(53.8,404.9) scale(1.08,1)" font-size="9.2" font-weight="bold" text-anchor="end">-2</text>
<text transform="translate(0.8,350.9) scale(1.13,1)" font-size="9.9" stroke="#000" stroke-width="0.45">ΔRn</text>
<text transform="translate(64.60,458.8) scale(1.07,1)" font-size="10.4" stroke="#000" stroke-width="0.5" text-anchor="middle">0</text>
<text transform="translate(86.00,458.8) scale(1.07,1)" font-size="10.4" stroke="#000" stroke-width="0.5" text-anchor="middle">2</text>
<text transform="translate(104.50,458.8) scale(1.07,1)" font-size="10.4" stroke="#000" stroke-width="0.5" text-anchor="middle">4</text>
<text transform="translate(122.60,458.8) scale(1.07,1)" font-size="10.4" stroke="#000" stroke-width="0.5" text-anchor="middle">6</text>
<text transform="translate(142.00,458.8) scale(1.07,1)" font-size="10.4" stroke="#000" stroke-width="0.5" text-anchor="middle">8</text>
<text transform="translate(163.80,458.8) scale(1.07,1)" font-size="10.4" stroke="#000" stroke-width="0.5" text-anchor="middle">10</text>
<text transform="translate(186.10,458.8) scale(1.07,1)" font-size="10.4" stroke="#000" stroke-width="0.5" text-anchor="middle">12</text>
<text transform="translate(204.30,458.8) scale(1.07,1)" font-size="10.4" font-weight="bold" stroke="#000" stroke-width="0.5" text-anchor="middle">14</text>
<text transform="translate(222.70,458.8) scale(1.07,1)" font-size="10.4" stroke="#000" stroke-width="0.5" text-anchor="middle">16</text>
<text transform="translate(244.20,458.8) scale(1.07,1)" font-size="10.4" stroke="#000" stroke-width="0.5" text-anchor="middle">18</text>
<text transform="translate(262.30,458.8) scale(1.07,1)" font-size="10.4" stroke="#000" stroke-width="0.5" text-anchor="middle">20</text>
<text transform="translate(280.40,458.8) scale(1.07,1)" font-size="10.4" stroke="#000" stroke-width="0.5" text-anchor="middle">22</text>
<text transform="translate(298.80,458.8) scale(1.07,1)" font-size="10.4" stroke="#000" stroke-width="0.5" text-anchor="middle">24</text>
<text transform="translate(321.20,458.8) scale(1.07,1)" font-size="10.4" stroke="#000" stroke-width="0.5" text-anchor="middle">26</text>
<text transform="translate(339.70,458.8) scale(1.07,1)" font-size="10.4" stroke="#000" stroke-width="0.5" text-anchor="middle">28</text>
<text transform="translate(357.80,458.8) scale(1.07,1)" font-size="10.4" stroke="#000" stroke-width="0.5" text-anchor="middle">30</text>
<text transform="translate(379.20,458.8) scale(1.07,1)" font-size="10.4" stroke="#000" stroke-width="0.5" text-anchor="middle">32</text>
<text transform="translate(398.20,458.8) scale(1.07,1)" font-size="10.4" stroke="#000" stroke-width="0.5" text-anchor="middle">34</text>
<text transform="translate(416.60,458.8) scale(1.07,1)" font-size="10.4" stroke="#000" stroke-width="0.5" text-anchor="middle">36</text>
<text transform="translate(437.80,458.8) scale(1.07,1)" font-size="10.4" stroke="#000" stroke-width="0.5" text-anchor="middle">38</text>
<text transform="translate(456.30,458.8) scale(1.07,1)" font-size="10.4" stroke="#000" stroke-width="0.5" text-anchor="middle">40</text>
<text transform="translate(260.3,475.2) scale(1.0,1)" font-size="10" font-weight="bold" text-anchor="middle">Cycle</text>
<text x="246.3" y="332.4" font-size="16.8" font-weight="bold">RS-MSCs</text>
<text x="367.3" y="402.9" font-size="17.1" font-weight="bold">SR-MSCs</text>
<line x1="310.2" y1="335.5" x2="323.43" y2="357.44" stroke="#000" stroke-width="2"/><polygon points="328.6,366 319.84,359.61 327.03,355.27" fill="#000"/>
<line x1="388.5" y1="385.5" x2="374.69" y2="374.74" stroke="#000" stroke-width="2"/><polygon points="366.8,368.6 377.27,371.43 372.11,378.06" fill="#000"/>
<text transform="translate(0.1,511.6) scale(0.96,1)" font-size="26.3" font-weight="bold">C</text>
<defs><filter id="b15r" x="-60%" y="-60%" width="220%" height="220%"><feGaussianBlur stdDeviation="1.5"/></filter><filter id="b12" x="-60%" y="-60%" width="220%" height="220%"><feGaussianBlur stdDeviation="1.2"/></filter><filter id="b2" x="-60%" y="-60%" width="220%" height="220%"><feGaussianBlur stdDeviation="2"/></filter><filter id="b3" x="-60%" y="-60%" width="220%" height="220%"><feGaussianBlur stdDeviation="3"/></filter></defs><rect x="0" y="516.5" width="170" height="137.5" fill="#000"/><rect x="173.2" y="516.5" width="172.3" height="137.5" fill="#000"/><rect x="348.2" y="516.5" width="171.8" height="137.5" fill="#000"/><svg x="173.2" y="516.5" width="172.3" height="137.5" viewBox="173.2 516.5 172.3 137.5" overflow="hidden"><ellipse cx="263.7" cy="547.7" rx="6.5" ry="7.5" fill="#1e1eb0" opacity="0.90" filter="url(#b3)"/><ellipse cx="247.5" cy="542" rx="3" ry="3" fill="#10106a" opacity="0.80" filter="url(#b2)"/><ellipse cx="282.0" cy="561" rx="7.5" ry="13.5" fill="#2424e8" opacity="1.00" filter="url(#b3)" transform="rotate(25 282.0 561)"/><ellipse cx="285.5" cy="555.5" rx="5.5" ry="5.5" fill="#3333ff" opacity="1.00" filter="url(#b2)"/><ellipse cx="283.3" cy="567.9" rx="3.5" ry="3.5" fill="#3030ff" opacity="0.95" filter="url(#b2)"/><ellipse cx="263.7" cy="575.4" rx="7" ry="8" fill="#2c2cff" opacity="1.00" filter="url(#b2)"/><ellipse cx="258.0" cy="603" rx="6.8" ry="16" fill="#2222ee" opacity="1.00" filter="url(#b3)" transform="rotate(8 258.0 603)"/><ellipse cx="257.3" cy="592" rx="4.5" ry="4.5" fill="#3030ff" opacity="0.95" filter="url(#b2)"/><ellipse cx="254.6" cy="615.5" rx="5" ry="5" fill="#2a2aff" opacity="0.95" filter="url(#b2)"/><ellipse cx="279.5" cy="599.6" rx="6.5" ry="4" fill="#1e1ec8" opacity="0.90" filter="url(#b2)"/><ellipse cx="316.2" cy="593.8" rx="8" ry="4.8" fill="#2a2aff" opacity="1.00" filter="url(#b12)" transform="rotate(45 316.2 593.8)"/><ellipse cx="327.5" cy="578" rx="6.5" ry="3.3" fill="#2222e8" opacity="0.90" filter="url(#b12)" transform="rotate(-38 327.5 578)"/><ellipse cx="299.7" cy="637.7" rx="5.5" ry="4.5" fill="#2a2aff" opacity="1.00" filter="url(#b12)"/><ellipse cx="278.7" cy="636.2" rx="4" ry="4" fill="#2a2aff" opacity="0.95" filter="url(#b12)"/><ellipse cx="315.4" cy="524.5" rx="3.2" ry="3.2" fill="#1a1a90" opacity="0.70" filter="url(#b12)"/><ellipse cx="196.0" cy="552" rx="3.5" ry="3.5" fill="#10104a" opacity="0.70" filter="url(#b2)"/><ellipse cx="203.0" cy="596" rx="3" ry="3" fill="#0c0c40" opacity="0.60" filter="url(#b2)"/><ellipse cx="305.0" cy="604" rx="3" ry="3" fill="#0c0c40" opacity="0.60" filter="url(#b2)"/><ellipse cx="331.0" cy="598" rx="3" ry="4" fill="#0c0c48" opacity="0.60" filter="url(#b2)"/></svg><g filter="url(#b15r)"><ellipse cx="90" cy="576.8" rx="6.6" ry="7.4" fill="#ff1a1a"/><ellipse cx="80" cy="587" rx="5" ry="4.8" fill="#ff1010"/><ellipse cx="84.6" cy="594.5" rx="6.2" ry="7.4" fill="#ff1a1a"/><ellipse cx="86" cy="585" rx="5.5" ry="6" fill="#ff1a1a"/></g><svg x="348.2" y="516.5" width="171.8" height="137.5" viewBox="348.2 516.5 171.8 137.5" overflow="hidden"><ellipse cx="438.2" cy="547.7" rx="6.5" ry="7.5" fill="#1e1eb0" opacity="0.54" filter="url(#b3)"/><ellipse cx="422.0" cy="542" rx="3" ry="3" fill="#10106a" opacity="0.48" filter="url(#b2)"/><ellipse cx="456.5" cy="561" rx="7.5" ry="13.5" fill="#2424e8" opacity="0.60" filter="url(#b3)" transform="rotate(25 456.5 561)"/><ellipse cx="460.0" cy="555.5" rx="5.5" ry="5.5" fill="#3333ff" opacity="0.60" filter="url(#b2)"/><ellipse cx="457.8" cy="567.9" rx="3.5" ry="3.5" fill="#3030ff" opacity="0.57" filter="url(#b2)"/><ellipse cx="454.0" cy="599.6" rx="6.5" ry="4" fill="#1e1ec8" opacity="0.54" filter="url(#b2)"/><ellipse cx="490.7" cy="593.8" rx="8" ry="4.8" fill="#2a2aff" opacity="0.60" filter="url(#b12)" transform="rotate(45 490.7 593.8)"/><ellipse cx="502.0" cy="578" rx="6.5" ry="3.3" fill="#2222e8" opacity="0.54" filter="url(#b12)" transform="rotate(-38 502.0 578)"/><ellipse cx="474.2" cy="637.7" rx="5.5" ry="4.5" fill="#2a2aff" opacity="0.60" filter="url(#b12)"/><ellipse cx="453.2" cy="636.2" rx="4" ry="4" fill="#2a2aff" opacity="0.57" filter="url(#b12)"/><ellipse cx="489.9" cy="524.5" rx="3.2" ry="3.2" fill="#1a1a90" opacity="0.42" filter="url(#b12)"/><ellipse cx="370.5" cy="552" rx="3.5" ry="3.5" fill="#10104a" opacity="0.42" filter="url(#b2)"/><ellipse cx="377.5" cy="596" rx="3" ry="3" fill="#0c0c40" opacity="0.36" filter="url(#b2)"/><ellipse cx="479.5" cy="604" rx="3" ry="3" fill="#0c0c40" opacity="0.36" filter="url(#b2)"/><ellipse cx="505.5" cy="598" rx="3" ry="4" fill="#0c0c48" opacity="0.36" filter="url(#b2)"/><ellipse cx="439.0" cy="576.5" rx="7.5" ry="8.5" fill="#4040ff" opacity="1.00" filter="url(#b15r)"/><ellipse cx="433.5" cy="592" rx="6.5" ry="7" fill="#3030f0" opacity="0.95" filter="url(#b15r)"/><ellipse cx="430.5" cy="612" rx="4.5" ry="5" fill="#1a1aa0" opacity="0.60" filter="url(#b2)"/><g style="mix-blend-mode:screen" transform="translate(349,0)"><g filter="url(#b15r)"><ellipse cx="90" cy="576.8" rx="6.6" ry="7.4" fill="#ff1a1a"/><ellipse cx="80" cy="587" rx="5" ry="4.8" fill="#ff1010"/><ellipse cx="84.6" cy="594.5" rx="6.2" ry="7.4" fill="#ff1a1a"/><ellipse cx="86" cy="585" rx="5.5" ry="6" fill="#ff1a1a"/></g></g></svg><g fill="#fff" font-size="16.6"><text transform="translate(3.0,539.0) scale(1.045,1)">Human nuclei</text><text transform="translate(3.0,560.3) scale(1.045,1)">marker</text><text transform="translate(185.6,536.8) scale(1.045,1)">DAPI</text><text transform="translate(354.9,537.9) scale(1.045,1)">Merged</text></g>
</svg>
</body></html>
